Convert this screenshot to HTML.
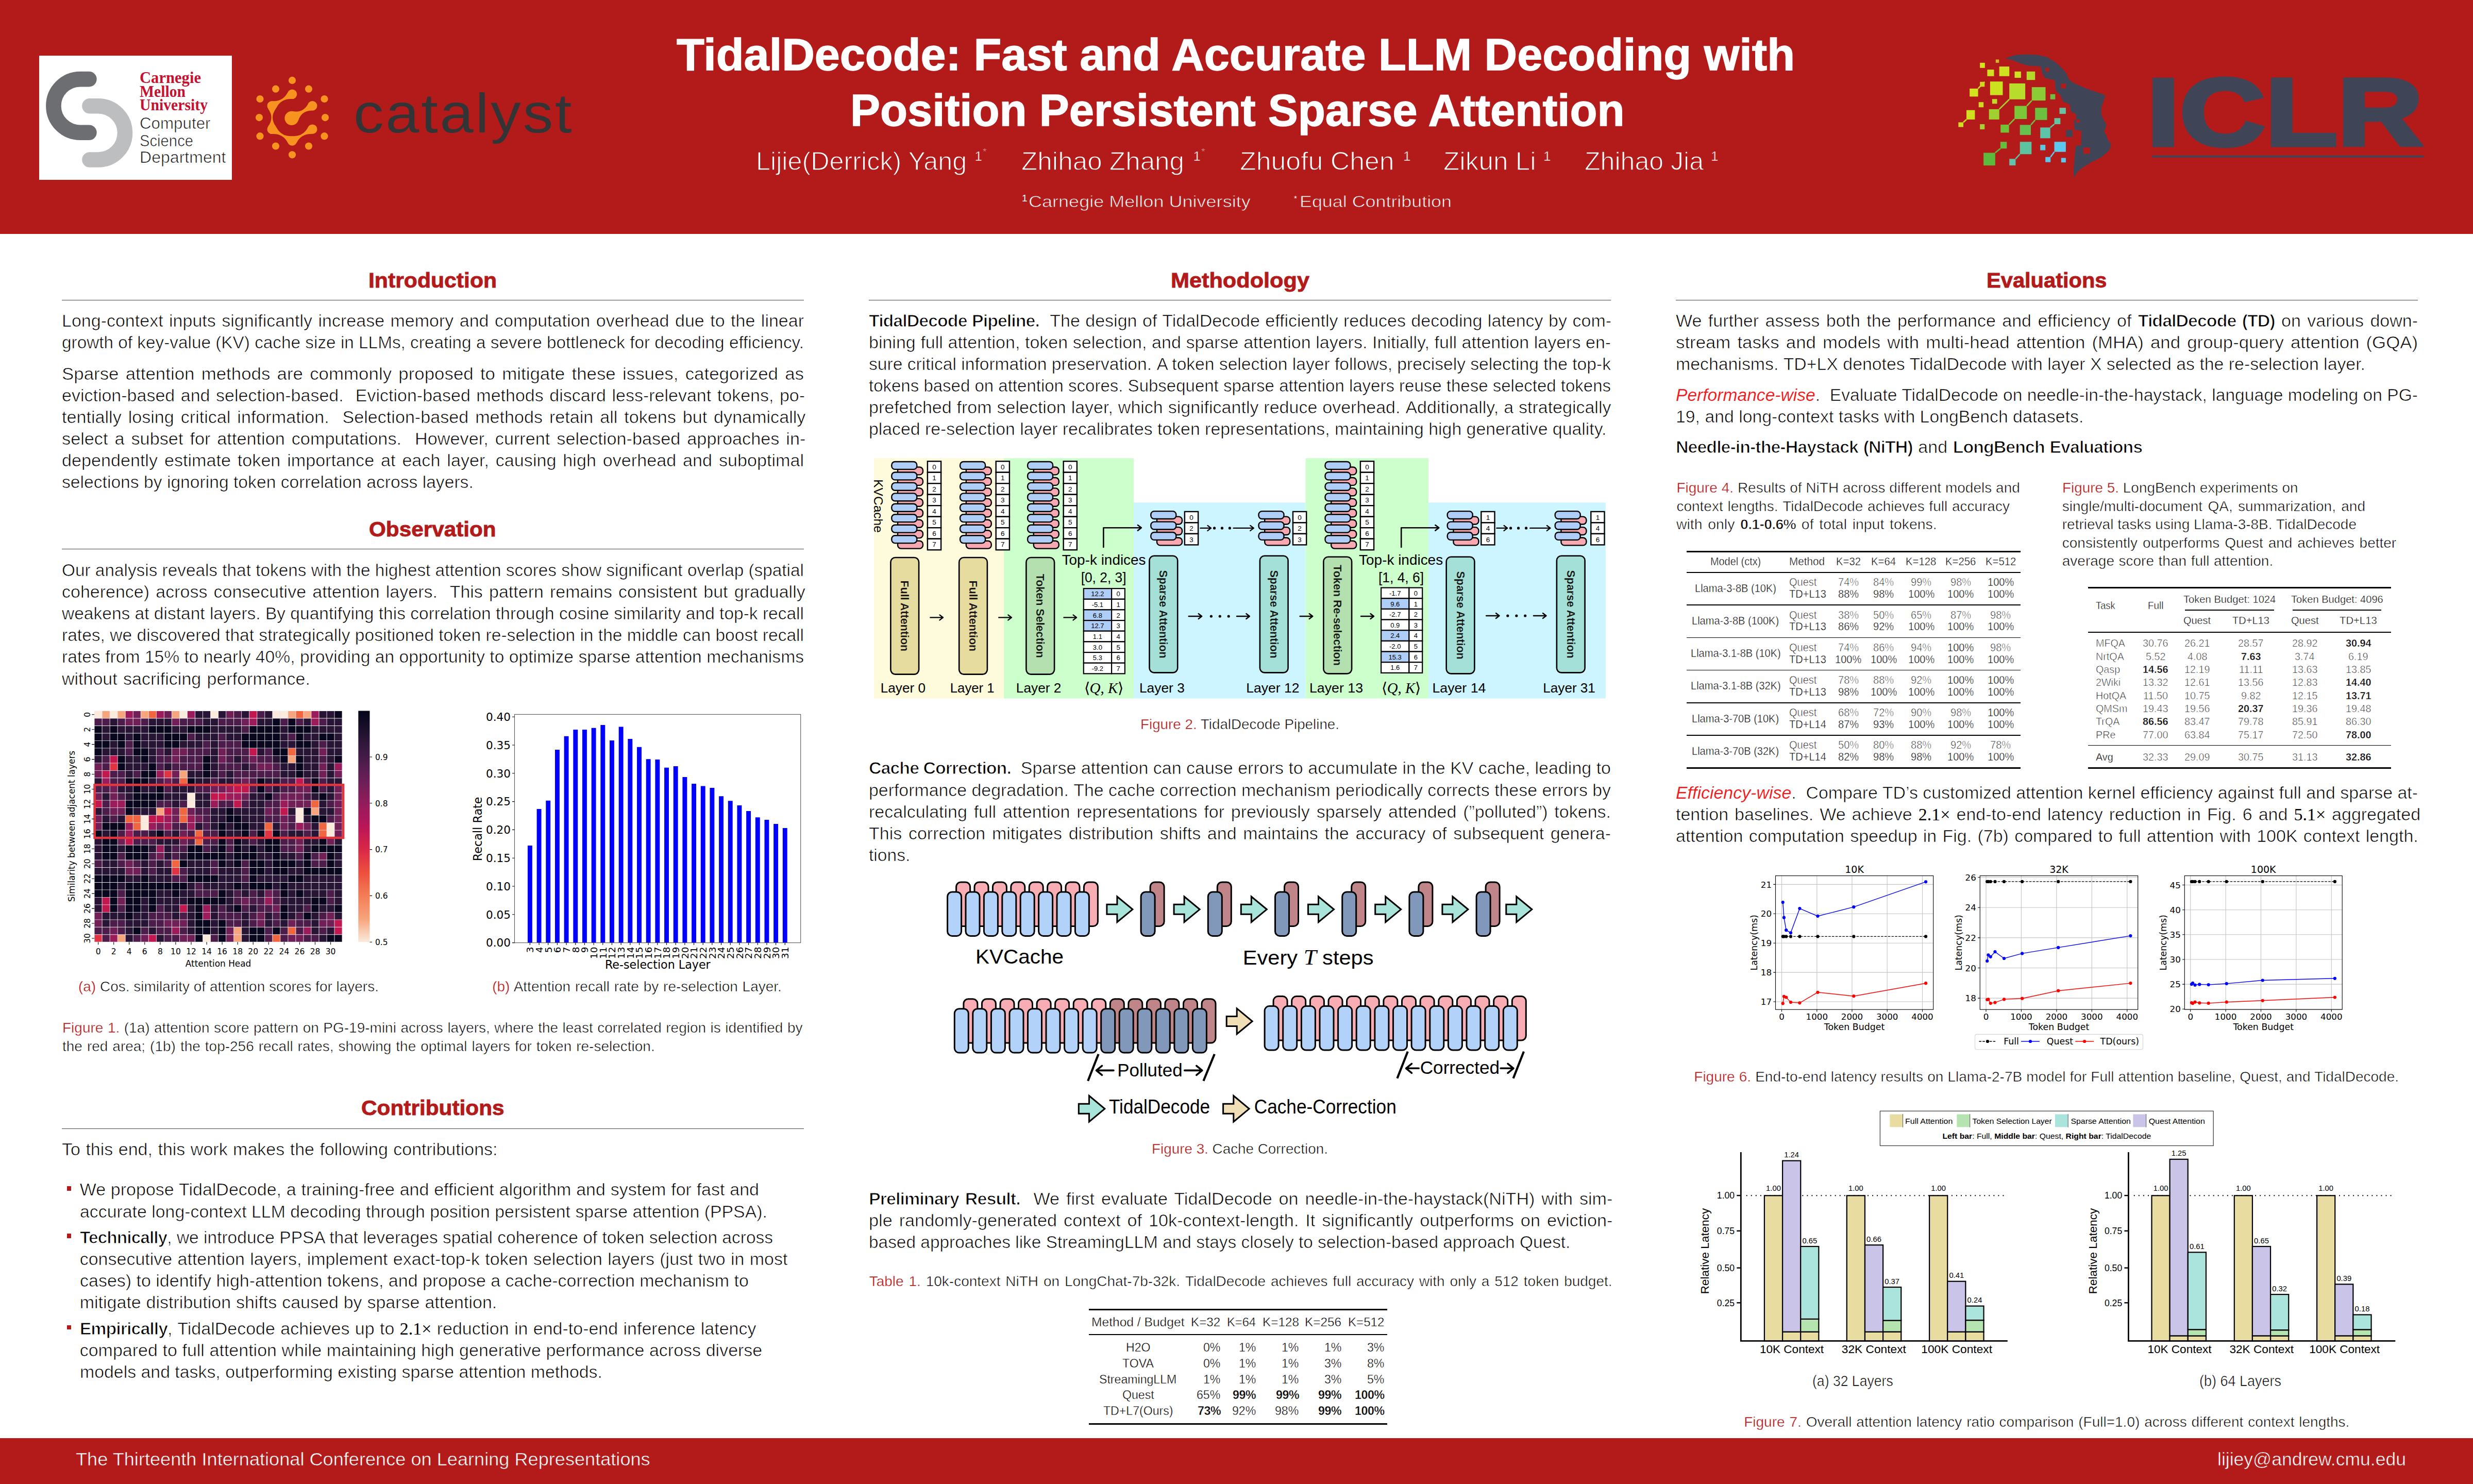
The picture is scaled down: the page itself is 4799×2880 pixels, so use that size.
<!DOCTYPE html>
<html><head><meta charset="utf-8"><title>TidalDecode poster</title><style>
html,body{margin:0;padding:0;width:4799px;height:2880px;overflow:hidden}
body{position:relative;background:#fff;color:#000}
#pg{position:absolute;left:0;top:0;width:4799px;height:2880px;overflow:hidden}
.ln{position:absolute;white-space:nowrap;line-height:1;transform-origin:0 0;margin:0;padding:0}
.b{font-family:'Liberation Sans',sans-serif;font-size:34px;-webkit-text-stroke:0.72px #fff}
.n{font-family:'Liberation Sans',sans-serif;font-size:34px}
.t{font-family:'Liberation Sans',sans-serif;font-size:21px;-webkit-text-stroke:0.45px #fff}
.tl{font-family:'Liberation Sans',sans-serif;font-size:21px;-webkit-text-stroke:0.7px #fff;color:#111}
.c{font-family:'Liberation Sans',sans-serif;font-size:28px;-webkit-text-stroke:0.62px #fff}
.h{font-family:'Liberation Sans',sans-serif;font-size:41px;font-weight:bold;color:#b31b1b;-webkit-text-stroke:0.9px #b31b1b}
.dj{font-family:'DejaVu Sans',sans-serif;font-size:16px;color:#000}
.he{font-family:'Liberation Sans',sans-serif;font-size:20px;color:#000}
.se{font-family:'Liberation Serif',serif;font-size:30px}
.r{color:#b31b1b;-webkit-text-stroke:0.35px #fff}
.m{font-family:'Liberation Serif',serif;-webkit-text-stroke:0 transparent}
i{-webkit-text-stroke:0.15px #fff}
.w{color:#fff}
b{font-weight:bold}
.b b{letter-spacing:-1px;-webkit-text-stroke:1.2px #fff}
.c b{letter-spacing:-0.7px;-webkit-text-stroke:0.9px #fff}
.t b{letter-spacing:-0.4px;-webkit-text-stroke:0.4px #fff}
svg{position:absolute;overflow:visible}
</style></head><body><div id="pg">
<div style="position:absolute;left:0.0px;top:0.0px;width:4799.0px;height:454.3px;background:#b31b1b;"></div>
<div style="position:absolute;left:0.0px;top:2790.8px;width:4799.0px;height:89.2px;background:#b31b1b;"></div>
<div style="position:absolute;left:76.0px;top:108.0px;width:374.0px;height:241.0px;background:#fff;"></div>
<svg style="left:0;top:0" width="700" height="454" viewBox="0 0 700 454"><path d="M172.9 153.6 H155.7 A51.8 51.8 0 0 0 155.7 257.2 H172.9" fill="none" stroke="#6d6e71" stroke-width="29.6" stroke-linecap="round"/><path d="M174 205.8 H190.4 A52.1 52.1 0 0 1 190.4 310 H174" fill="none" stroke="#bcbec0" stroke-width="29.6" stroke-linecap="round"/></svg>
<div class="ln se" style="left:270.5px;top:135.0px;font-size:31px;transform:scaleX(0.98730);color:#c41230;font-weight:bold;">Carnegie</div>
<div class="ln se" style="left:270.5px;top:161.8px;font-size:31px;transform:scaleX(0.95699);color:#c41230;font-weight:bold;">Mellon</div>
<div class="ln se" style="left:270.5px;top:188.0px;font-size:31px;transform:scaleX(0.95815);color:#c41230;font-weight:bold;">University</div>
<div class="ln b" style="left:271.0px;top:223.4px;font-size:32px;transform:scaleX(0.97865);color:#1a1a1a;">Computer</div>
<div class="ln b" style="left:271.0px;top:256.6px;font-size:32px;transform:scaleX(0.91353);color:#1a1a1a;">Science</div>
<div class="ln b" style="left:271.0px;top:288.9px;font-size:32px;transform:scaleX(1.00187);color:#1a1a1a;">Department</div>
<svg style="left:0;top:0" width="1200" height="454" viewBox="0 0 1200 454"><g fill="#f7931e" stroke="#f7931e"><circle cx="567.0" cy="155.9" r="7.1" stroke="none"/><circle cx="599.0" cy="172.7" r="7.1" stroke="none"/><circle cx="629.5" cy="192.0" r="7.1" stroke="none"/><circle cx="631.0" cy="228.1" r="7.1" stroke="none"/><circle cx="629.5" cy="264.2" r="7.1" stroke="none"/><circle cx="599.0" cy="283.5" r="7.1" stroke="none"/><circle cx="567.0" cy="300.3" r="7.1" stroke="none"/><circle cx="535.0" cy="283.5" r="7.1" stroke="none"/><circle cx="504.5" cy="264.2" r="7.1" stroke="none"/><circle cx="503.0" cy="228.1" r="7.1" stroke="none"/><circle cx="504.5" cy="192.0" r="7.1" stroke="none"/><circle cx="535.0" cy="172.7" r="7.1" stroke="none"/><circle cx="567.0" cy="182.8" r="9.3" stroke="none"/><circle cx="606.2" cy="205.4" r="9.3" stroke="none"/><circle cx="606.2" cy="250.7" r="9.3" stroke="none"/><circle cx="567.0" cy="273.4" r="9.3" stroke="none"/><circle cx="527.8" cy="250.8" r="9.3" stroke="none"/><circle cx="527.8" cy="205.4" r="9.3" stroke="none"/><path stroke="none" d="M565.7 192.0Q545.7 191.2 536.4 208.9L529.1 196.2Q549.1 197.1 558.4 179.3Z"/><path stroke="none" d="M535.1 211.2Q522.9 228.1 535.1 245.0L520.4 245.0Q532.7 228.1 520.4 211.2Z"/><path stroke="none" d="M536.4 247.3Q545.7 265.0 565.7 264.2L558.4 276.9Q549.1 259.1 529.1 260.0Z"/><path stroke="none" d="M568.3 264.2Q588.3 265.0 597.6 247.3L604.9 260.0Q584.9 259.1 575.6 276.9Z"/><circle cx="566.0" cy="229.3" r="13.6" stroke="none"/><path stroke="none" d="M568.7 216.0Q587.2 219.3 597.4 202.7L604.4 214.6Q585.0 215.5 579.0 233.4Z"/></g></svg>
<div class="ln n" style="left:686.4px;top:167.3px;font-size:107px;transform:scaleX(1.09379);color:#333436;letter-spacing:3.5px;">catalyst</div>
<div class="ln n w" style="left:1313.0px;top:61.6px;font-size:88px;transform:scaleX(1.00182);font-weight:bold;-webkit-text-stroke:1.4px #fff;">TidalDecode: Fast and Accurate LLM Decoding with</div>
<div class="ln n w" style="left:1650.0px;top:169.8px;font-size:88px;transform:scaleX(0.98703);font-weight:bold;-webkit-text-stroke:1.4px #fff;">Position Persistent Sparse Attention</div>
<div class="ln n w" style="left:1466.7px;top:288.0px;font-size:50px;transform:scaleX(1.00633);-webkit-text-stroke:1.3px #b31b1b;">Lijie(Derrick) Yang</div>
<div class="ln n w" style="left:1891.5px;top:289.5px;font-size:26px;-webkit-text-stroke:0.5px #b31b1b;">1</div>
<div class="ln n w" style="left:1907.5px;top:286.0px;font-size:17px;-webkit-text-stroke:0.5px #b31b1b;">*</div>
<div class="ln n w" style="left:1981.9px;top:288.0px;font-size:50px;transform:scaleX(1.02448);-webkit-text-stroke:1.3px #b31b1b;">Zhihao Zhang</div>
<div class="ln n w" style="left:2315.5px;top:289.5px;font-size:26px;-webkit-text-stroke:0.5px #b31b1b;">1</div>
<div class="ln n w" style="left:2331.5px;top:286.0px;font-size:17px;-webkit-text-stroke:0.5px #b31b1b;">*</div>
<div class="ln n w" style="left:2406.3px;top:288.0px;font-size:50px;transform:scaleX(1.03669);-webkit-text-stroke:1.3px #b31b1b;">Zhuofu Chen</div>
<div class="ln n w" style="left:2723.0px;top:289.5px;font-size:26px;-webkit-text-stroke:0.5px #b31b1b;">1</div>
<div class="ln n w" style="left:2801.3px;top:288.0px;font-size:50px;transform:scaleX(1.02640);-webkit-text-stroke:1.3px #b31b1b;">Zikun Li</div>
<div class="ln n w" style="left:2995.0px;top:289.5px;font-size:26px;-webkit-text-stroke:0.5px #b31b1b;">1</div>
<div class="ln n w" style="left:3075.0px;top:288.0px;font-size:50px;transform:scaleX(1.00129);-webkit-text-stroke:1.3px #b31b1b;">Zhihao Jia</div>
<div class="ln n w" style="left:3320.0px;top:289.5px;font-size:26px;-webkit-text-stroke:0.5px #b31b1b;">1</div>
<div class="ln n w" style="left:1983.0px;top:375.0px;font-size:19px;">1</div>
<div class="ln n w" style="left:1996.0px;top:375.5px;font-size:31.5px;transform:scaleX(1.14424);-webkit-text-stroke:0.8px #b31b1b;">Carnegie Mellon University</div>
<div class="ln n w" style="left:2511.0px;top:377.0px;font-size:15px;">*</div>
<div class="ln n w" style="left:2521.8px;top:375.5px;font-size:31.5px;transform:scaleX(1.13824);-webkit-text-stroke:0.8px #b31b1b;">Equal Contribution</div>
<div class="ln n w" style="left:147.3px;top:2814.1px;font-size:35px;transform:scaleX(1.03286);-webkit-text-stroke:0.6px #b31b1b;">The Thirteenth International Conference on Learning Representations</div>
<div class="ln n w" style="left:4303.0px;top:2814.0px;font-size:35px;transform:scaleX(1.01543);-webkit-text-stroke:0.6px #b31b1b;">lijiey@andrew.cmu.edu</div>
<svg style="left:0;top:0" width="4799" height="454" viewBox="0 0 4799 454"><polygon fill="#3f4557" points="3891.0,113.3 3911.0,106.7 3934.6,105.5 3954.6,106.7 3972.8,110.9 3989.2,120.9 4001.9,132.8 4010.1,142.8 4014.7,153.7 4022.0,160.0 4043.8,170.0 4063.8,177.3 4078.3,181.9 4085.6,185.5 4082.9,193.7 4078.3,206.4 4077.4,221.0 4082.0,231.9 4087.4,241.0 4085.6,250.1 4082.9,254.6 4087.4,262.8 4089.3,270.1 4095.6,277.4 4096.5,282.8 4092.9,291.9 4078.3,304.7 4060.2,313.8 4042.0,324.7 4031.0,333.8 4024.7,344.7 4023.8,332.0 4025.6,308.3 4028.3,282.8 4038.3,281.9 4039.2,253.7 4025.6,251.9 4024.7,233.7 4029.2,231.9 4028.3,221.0 4019.2,217.3 4016.5,202.8 4003.8,197.3 3998.3,184.6 3989.2,175.5 3987.4,155.5 3969.2,151.9 3962.8,140.9 3960.1,129.1 3934.6,127.3 3920.1,122.7 3907.3,117.3"/><rect x="3969.2" y="131.5" width="7.3" height="7.3" fill="#b31b1b"/><rect x="3999.2" y="162.4" width="10.0" height="9.1" fill="#b31b1b"/><rect x="4029.2" y="232.3" width="6.4" height="6.0" fill="#b31b1b"/><rect x="4042.9" y="286.5" width="12.7" height="11.8" fill="#b31b1b"/><rect x="4009.2" y="252.3" width="12.7" height="13.3" fill="#3f4557"/><line x1="3851.3" y1="158.8" x2="3838.6" y2="171.9" stroke="#d0dc20" stroke-width="2.6"/><line x1="3816.0" y1="231.9" x2="3810.0" y2="237.4" stroke="#d0dc20" stroke-width="2.6"/><line x1="3879.7" y1="211.9" x2="3899.2" y2="192.8" stroke="#a8d430" stroke-width="2.6"/><line x1="3933.2" y1="205.5" x2="3942.8" y2="195.1" stroke="#80c838" stroke-width="2.6"/><line x1="3898.6" y1="241.9" x2="3909.2" y2="231.0" stroke="#78c43a" stroke-width="2.6"/><line x1="3941.0" y1="242.4" x2="3949.2" y2="232.8" stroke="#68c048" stroke-width="2.6"/><line x1="3978.7" y1="247.4" x2="3986.5" y2="241.0" stroke="#60c4a4" stroke-width="2.6"/><line x1="3881.9" y1="288.3" x2="3871.9" y2="296.5" stroke="#60bc3c" stroke-width="2.6"/><line x1="3919.7" y1="299.2" x2="3911.3" y2="308.3" stroke="#5ec2a4" stroke-width="2.6"/><line x1="3986.5" y1="294.7" x2="3979.2" y2="304.7" stroke="#5ac8ee" stroke-width="2.6"/><rect x="3842.2" y="121.8" width="9.6" height="10.0" fill="#d6e21f"/><rect x="3872.8" y="115.5" width="6.4" height="6.4" fill="#d2b822"/><rect x="3856.4" y="135.1" width="13.1" height="12.7" fill="#d0e020"/><rect x="3879.7" y="129.1" width="19.5" height="18.7" fill="#cfe21f"/><rect x="3909.5" y="138.8" width="12.4" height="12.2" fill="#cfe020"/><rect x="3932.8" y="138.8" width="16.4" height="16.4" fill="#b5d92a"/><rect x="3842.2" y="158.8" width="9.1" height="9.5" fill="#d0d820"/><rect x="3822.2" y="171.9" width="16.4" height="15.5" fill="#d5e21f"/><rect x="3861.9" y="158.2" width="24.6" height="26.4" fill="#cbe21f"/><rect x="3899.2" y="161.9" width="30.9" height="30.9" fill="#b8dc2c"/><rect x="3942.8" y="169.1" width="26.7" height="26.0" fill="#8bcb35"/><rect x="3978.7" y="182.8" width="9.6" height="10.0" fill="#6cc040"/><rect x="3839.7" y="198.2" width="9.5" height="10.0" fill="#d0d820"/><rect x="3865.9" y="192.2" width="9.6" height="9.1" fill="#c0dc28"/><rect x="3816.0" y="213.7" width="16.4" height="18.2" fill="#d0e020"/><rect x="3800.4" y="237.4" width="9.6" height="9.1" fill="#d4dc20"/><rect x="3859.7" y="211.9" width="20.0" height="20.0" fill="#9fd030"/><rect x="3909.2" y="205.5" width="24.0" height="25.5" fill="#7cc63a"/><rect x="3949.2" y="209.2" width="23.3" height="23.6" fill="#6cc040"/><rect x="3996.5" y="209.2" width="12.4" height="11.8" fill="#68c4a0"/><rect x="3842.2" y="241.0" width="9.1" height="10.0" fill="#a8d030"/><rect x="3882.2" y="241.9" width="16.4" height="15.5" fill="#72c238"/><rect x="3919.7" y="242.4" width="21.3" height="19.5" fill="#66c050"/><rect x="3959.2" y="247.4" width="19.5" height="20.9" fill="#5cc4a8"/><rect x="3986.5" y="229.2" width="11.8" height="11.8" fill="#62c4a0"/><rect x="3881.9" y="275.2" width="12.4" height="13.1" fill="#62be3c"/><rect x="3849.1" y="296.5" width="22.7" height="24.6" fill="#5cba3c"/><rect x="3919.7" y="275.2" width="22.6" height="24.0" fill="#5cc2a0"/><rect x="3899.2" y="308.3" width="12.2" height="12.7" fill="#60c4a8"/><rect x="3959.2" y="281.0" width="10.0" height="10.6" fill="#5cc8e0"/><rect x="3986.5" y="275.2" width="22.4" height="19.5" fill="#5cc8ee"/><rect x="3969.2" y="304.7" width="10.0" height="10.0" fill="#58c8f0"/><rect x="3999.8" y="306.5" width="9.1" height="8.7" fill="#58c8f0"/><rect x="4176" y="301.6" width="527" height="4" fill="#3f4557"/></svg>
<div class="ln n" style="left:4165.5px;top:126.4px;font-size:185px;transform:scaleX(1.24186);font-weight:bold;color:#3f4557;-webkit-text-stroke:7px #3f4557;">ICLR</div>
<div class="ln h" style="left:715.2px;top:524.2px;transform:scaleX(1.04171);">Introduction</div>
<div style="position:absolute;left:120.0px;top:581.7px;width:1440.0px;height:1.6px;background:#444;"></div>
<div class="ln b" style="left:120.0px;top:605.3px;word-spacing:2.045px;">Long-context inputs significantly increase memory and computation overhead due to the linear</div>
<div class="ln b" style="left:120.0px;top:647.3px;transform:scaleX(0.98023);">growth of key-value (KV) cache size in LLMs, creating a severe bottleneck for decoding efficiency.</div>
<div class="ln b" style="left:120.0px;top:707.6px;transform:scaleX(1.02577);word-spacing:3.400px;">Sparse attention methods are commonly proposed to mitigate these issues, categorized as</div>
<div class="ln b" style="left:120.0px;top:749.6px;word-spacing:2.111px;">eviction-based and selection-based.&nbsp; Eviction-based methods discard less-relevant tokens, po-</div>
<div class="ln b" style="left:120.0px;top:791.6px;transform:scaleX(1.00393);word-spacing:3.400px;">tentially losing critical information.&nbsp; Selection-based methods retain all tokens but dynamically</div>
<div class="ln b" style="left:120.0px;top:833.7px;transform:scaleX(1.00786);word-spacing:3.400px;">select a subset for attention computations.&nbsp; However, current selection-based approaches in-</div>
<div class="ln b" style="left:120.0px;top:875.7px;transform:scaleX(1.00405);word-spacing:3.400px;">dependently estimate token importance at each layer, causing high overhead and suboptimal</div>
<div class="ln b" style="left:120.0px;top:917.7px;transform:scaleX(0.98990);">selections by ignoring token correlation across layers.</div>
<div class="ln h" style="left:716.4px;top:1007.0px;transform:scaleX(1.03079);">Observation</div>
<div style="position:absolute;left:120.0px;top:1064.5px;width:1440.0px;height:1.6px;background:#444;"></div>
<div class="ln b" style="left:120.0px;top:1089.2px;transform:scaleX(0.98063);">Our analysis reveals that tokens with the highest attention scores show significant overlap (spatial</div>
<div class="ln b" style="left:120.0px;top:1131.2px;word-spacing:2.700px;">coherence) across consecutive attention layers.&nbsp; This pattern remains consistent but gradually</div>
<div class="ln b" style="left:120.0px;top:1173.3px;transform:scaleX(0.98574);">weakens at distant layers.&nbsp;By quantifying this correlation through cosine similarity and top-k recall</div>
<div class="ln b" style="left:120.0px;top:1215.3px;transform:scaleX(0.98698);">rates, we discovered that strategically positioned token re-selection in the middle can boost recall</div>
<div class="ln b" style="left:120.0px;top:1257.3px;transform:scaleX(0.98955);">rates from 15% to nearly 40%, providing an opportunity to optimize sparse attention mechanisms</div>
<div class="ln b" style="left:120.0px;top:1299.5px;word-spacing:1.903px;">without sacrificing performance.</div>
<svg style="left:0;top:0" width="1700" height="2000" viewBox="0 0 1700 2000"><rect x="183.1" y="1379.5" width="481.0" height="448.7" fill="#e8e4ea"/><path fill="#08071d" d="M649.5 1380.0h14.1v13.6h-14.1zM529.3 1394.4h14.1v13.6h-14.1zM559.3 1394.4h14.1v13.6h-14.1zM183.5 1408.9h14.1v13.6h-14.1zM213.6 1408.9h14.1v13.6h-14.1zM288.8 1408.9h14.1v13.6h-14.1zM303.8 1408.9h14.1v13.6h-14.1zM318.8 1408.9h14.1v13.6h-14.1zM363.9 1408.9h14.1v13.6h-14.1zM379.0 1408.9h14.1v13.6h-14.1zM394.0 1408.9h14.1v13.6h-14.1zM484.2 1408.9h14.1v13.6h-14.1zM499.2 1408.9h14.1v13.6h-14.1zM514.2 1408.9h14.1v13.6h-14.1zM529.3 1408.9h14.1v13.6h-14.1zM559.3 1408.9h14.1v13.6h-14.1zM574.4 1408.9h14.1v13.6h-14.1zM589.4 1408.9h14.1v13.6h-14.1zM183.5 1423.4h14.1v13.6h-14.1zM213.6 1423.4h14.1v13.6h-14.1zM228.6 1423.4h14.1v13.6h-14.1zM258.7 1423.4h14.1v13.6h-14.1zM318.8 1423.4h14.1v13.6h-14.1zM333.9 1423.4h14.1v13.6h-14.1zM348.9 1423.4h14.1v13.6h-14.1zM469.1 1423.4h14.1v13.6h-14.1zM484.2 1423.4h14.1v13.6h-14.1zM499.2 1423.4h14.1v13.6h-14.1zM514.2 1423.4h14.1v13.6h-14.1zM529.3 1423.4h14.1v13.6h-14.1zM574.4 1423.4h14.1v13.6h-14.1zM619.5 1423.4h14.1v13.6h-14.1zM634.5 1423.4h14.1v13.6h-14.1zM183.5 1437.8h14.1v13.6h-14.1zM198.6 1437.8h14.1v13.6h-14.1zM228.6 1437.8h14.1v13.6h-14.1zM258.7 1437.8h14.1v13.6h-14.1zM318.8 1437.8h14.1v13.6h-14.1zM333.9 1437.8h14.1v13.6h-14.1zM469.1 1437.8h14.1v13.6h-14.1zM484.2 1437.8h14.1v13.6h-14.1zM499.2 1437.8h14.1v13.6h-14.1zM514.2 1437.8h14.1v13.6h-14.1zM529.3 1437.8h14.1v13.6h-14.1zM574.4 1437.8h14.1v13.6h-14.1zM589.4 1437.8h14.1v13.6h-14.1zM183.5 1452.3h14.1v13.6h-14.1zM258.7 1452.3h14.1v13.6h-14.1zM273.7 1452.3h14.1v13.6h-14.1zM529.3 1452.3h14.1v13.6h-14.1zM544.3 1452.3h14.1v13.6h-14.1zM228.6 1466.8h14.1v13.6h-14.1zM273.7 1466.8h14.1v13.6h-14.1zM394.0 1466.8h14.1v13.6h-14.1zM544.3 1466.8h14.1v13.6h-14.1zM574.4 1466.8h14.1v13.6h-14.1zM649.5 1466.8h14.1v13.6h-14.1zM228.6 1481.3h14.1v13.6h-14.1zM288.8 1481.3h14.1v13.6h-14.1zM394.0 1481.3h14.1v13.6h-14.1zM574.4 1481.3h14.1v13.6h-14.1zM273.7 1495.7h14.1v13.6h-14.1zM288.8 1495.7h14.1v13.6h-14.1zM394.0 1495.7h14.1v13.6h-14.1zM574.4 1495.7h14.1v13.6h-14.1zM243.7 1510.2h14.1v13.6h-14.1zM258.7 1510.2h14.1v13.6h-14.1zM273.7 1510.2h14.1v13.6h-14.1zM363.9 1510.2h14.1v13.6h-14.1zM499.2 1510.2h14.1v13.6h-14.1zM604.4 1510.2h14.1v13.6h-14.1zM258.7 1524.7h14.1v13.6h-14.1zM303.8 1524.7h14.1v13.6h-14.1zM499.2 1524.7h14.1v13.6h-14.1zM604.4 1524.7h14.1v13.6h-14.1zM258.7 1539.2h14.1v13.6h-14.1zM273.7 1539.2h14.1v13.6h-14.1zM288.8 1539.2h14.1v13.6h-14.1zM303.8 1539.2h14.1v13.6h-14.1zM514.2 1539.2h14.1v13.6h-14.1zM619.5 1539.2h14.1v13.6h-14.1zM243.7 1553.6h14.1v13.6h-14.1zM258.7 1553.6h14.1v13.6h-14.1zM273.7 1553.6h14.1v13.6h-14.1zM288.8 1553.6h14.1v13.6h-14.1zM243.7 1568.1h14.1v13.6h-14.1zM439.1 1568.1h14.1v13.6h-14.1zM589.4 1568.1h14.1v13.6h-14.1zM439.1 1582.6h14.1v13.6h-14.1zM454.1 1582.6h14.1v13.6h-14.1zM604.4 1582.6h14.1v13.6h-14.1zM619.5 1582.6h14.1v13.6h-14.1zM198.6 1597.1h14.1v13.6h-14.1zM213.6 1597.1h14.1v13.6h-14.1zM228.6 1597.1h14.1v13.6h-14.1zM424.1 1597.1h14.1v13.6h-14.1zM454.1 1597.1h14.1v13.6h-14.1zM469.1 1597.1h14.1v13.6h-14.1zM183.5 1611.5h14.1v13.6h-14.1zM213.6 1611.5h14.1v13.6h-14.1zM303.8 1611.5h14.1v13.6h-14.1zM424.1 1611.5h14.1v13.6h-14.1zM469.1 1611.5h14.1v13.6h-14.1zM499.2 1611.5h14.1v13.6h-14.1zM529.3 1611.5h14.1v13.6h-14.1zM198.6 1626.0h14.1v13.6h-14.1zM213.6 1626.0h14.1v13.6h-14.1zM424.1 1626.0h14.1v13.6h-14.1zM454.1 1626.0h14.1v13.6h-14.1zM514.2 1626.0h14.1v13.6h-14.1zM529.3 1626.0h14.1v13.6h-14.1zM619.5 1626.0h14.1v13.6h-14.1zM198.6 1640.5h14.1v13.6h-14.1zM213.6 1640.5h14.1v13.6h-14.1zM243.7 1640.5h14.1v13.6h-14.1zM258.7 1640.5h14.1v13.6h-14.1zM273.7 1640.5h14.1v13.6h-14.1zM363.9 1640.5h14.1v13.6h-14.1zM379.0 1640.5h14.1v13.6h-14.1zM424.1 1640.5h14.1v13.6h-14.1zM454.1 1640.5h14.1v13.6h-14.1zM484.2 1640.5h14.1v13.6h-14.1zM514.2 1640.5h14.1v13.6h-14.1zM529.3 1640.5h14.1v13.6h-14.1zM604.4 1640.5h14.1v13.6h-14.1zM619.5 1640.5h14.1v13.6h-14.1zM634.5 1640.5h14.1v13.6h-14.1zM649.5 1640.5h14.1v13.6h-14.1zM198.6 1655.0h14.1v13.6h-14.1zM213.6 1655.0h14.1v13.6h-14.1zM243.7 1655.0h14.1v13.6h-14.1zM258.7 1655.0h14.1v13.6h-14.1zM273.7 1655.0h14.1v13.6h-14.1zM363.9 1655.0h14.1v13.6h-14.1zM379.0 1655.0h14.1v13.6h-14.1zM394.0 1655.0h14.1v13.6h-14.1zM409.0 1655.0h14.1v13.6h-14.1zM424.1 1655.0h14.1v13.6h-14.1zM454.1 1655.0h14.1v13.6h-14.1zM469.1 1655.0h14.1v13.6h-14.1zM484.2 1655.0h14.1v13.6h-14.1zM529.3 1655.0h14.1v13.6h-14.1zM589.4 1655.0h14.1v13.6h-14.1zM634.5 1655.0h14.1v13.6h-14.1zM348.9 1669.4h14.1v13.6h-14.1zM424.1 1669.4h14.1v13.6h-14.1zM454.1 1669.4h14.1v13.6h-14.1zM484.2 1669.4h14.1v13.6h-14.1zM499.2 1669.4h14.1v13.6h-14.1zM529.3 1669.4h14.1v13.6h-14.1zM544.3 1669.4h14.1v13.6h-14.1zM559.3 1669.4h14.1v13.6h-14.1zM589.4 1669.4h14.1v13.6h-14.1zM634.5 1669.4h14.1v13.6h-14.1zM484.2 1683.9h14.1v13.6h-14.1zM499.2 1683.9h14.1v13.6h-14.1zM529.3 1683.9h14.1v13.6h-14.1zM544.3 1683.9h14.1v13.6h-14.1zM589.4 1683.9h14.1v13.6h-14.1zM604.4 1683.9h14.1v13.6h-14.1zM619.5 1683.9h14.1v13.6h-14.1zM634.5 1683.9h14.1v13.6h-14.1zM649.5 1683.9h14.1v13.6h-14.1zM183.5 1698.4h14.1v13.6h-14.1zM198.6 1698.4h14.1v13.6h-14.1zM213.6 1698.4h14.1v13.6h-14.1zM228.6 1698.4h14.1v13.6h-14.1zM273.7 1698.4h14.1v13.6h-14.1zM363.9 1698.4h14.1v13.6h-14.1zM379.0 1698.4h14.1v13.6h-14.1zM394.0 1698.4h14.1v13.6h-14.1zM409.0 1698.4h14.1v13.6h-14.1zM484.2 1698.4h14.1v13.6h-14.1zM559.3 1698.4h14.1v13.6h-14.1zM574.4 1698.4h14.1v13.6h-14.1zM183.5 1712.9h14.1v13.6h-14.1zM198.6 1712.9h14.1v13.6h-14.1zM213.6 1712.9h14.1v13.6h-14.1zM243.7 1712.9h14.1v13.6h-14.1zM258.7 1712.9h14.1v13.6h-14.1zM273.7 1712.9h14.1v13.6h-14.1zM288.8 1712.9h14.1v13.6h-14.1zM303.8 1712.9h14.1v13.6h-14.1zM318.8 1712.9h14.1v13.6h-14.1zM333.9 1712.9h14.1v13.6h-14.1zM348.9 1712.9h14.1v13.6h-14.1zM454.1 1712.9h14.1v13.6h-14.1zM484.2 1712.9h14.1v13.6h-14.1zM499.2 1712.9h14.1v13.6h-14.1zM514.2 1712.9h14.1v13.6h-14.1zM544.3 1712.9h14.1v13.6h-14.1zM183.5 1727.3h14.1v13.6h-14.1zM198.6 1727.3h14.1v13.6h-14.1zM213.6 1727.3h14.1v13.6h-14.1zM243.7 1727.3h14.1v13.6h-14.1zM258.7 1727.3h14.1v13.6h-14.1zM273.7 1727.3h14.1v13.6h-14.1zM288.8 1727.3h14.1v13.6h-14.1zM333.9 1727.3h14.1v13.6h-14.1zM424.1 1727.3h14.1v13.6h-14.1zM544.3 1727.3h14.1v13.6h-14.1zM574.4 1727.3h14.1v13.6h-14.1zM213.6 1741.8h14.1v13.6h-14.1zM243.7 1741.8h14.1v13.6h-14.1zM258.7 1741.8h14.1v13.6h-14.1zM288.8 1741.8h14.1v13.6h-14.1zM363.9 1741.8h14.1v13.6h-14.1zM379.0 1741.8h14.1v13.6h-14.1zM394.0 1741.8h14.1v13.6h-14.1zM409.0 1741.8h14.1v13.6h-14.1zM424.1 1741.8h14.1v13.6h-14.1zM604.4 1741.8h14.1v13.6h-14.1zM619.5 1741.8h14.1v13.6h-14.1zM213.6 1756.3h14.1v13.6h-14.1zM243.7 1756.3h14.1v13.6h-14.1zM258.7 1756.3h14.1v13.6h-14.1zM288.8 1756.3h14.1v13.6h-14.1zM379.0 1756.3h14.1v13.6h-14.1zM454.1 1756.3h14.1v13.6h-14.1zM544.3 1756.3h14.1v13.6h-14.1zM604.4 1756.3h14.1v13.6h-14.1zM649.5 1756.3h14.1v13.6h-14.1zM243.7 1770.8h14.1v13.6h-14.1zM379.0 1770.8h14.1v13.6h-14.1zM544.3 1770.8h14.1v13.6h-14.1zM589.4 1770.8h14.1v13.6h-14.1zM379.0 1785.2h14.1v13.6h-14.1zM394.0 1785.2h14.1v13.6h-14.1zM424.1 1785.2h14.1v13.6h-14.1zM258.7 1799.7h14.1v13.6h-14.1zM379.0 1799.7h14.1v13.6h-14.1zM394.0 1799.7h14.1v13.6h-14.1zM424.1 1799.7h14.1v13.6h-14.1zM484.2 1799.7h14.1v13.6h-14.1zM499.2 1799.7h14.1v13.6h-14.1zM529.3 1799.7h14.1v13.6h-14.1zM379.0 1814.2h14.1v13.6h-14.1zM424.1 1814.2h14.1v13.6h-14.1zM484.2 1814.2h14.1v13.6h-14.1zM499.2 1814.2h14.1v13.6h-14.1zM634.5 1814.2h14.1v13.6h-14.1zM649.5 1814.2h14.1v13.6h-14.1z"/><path fill="#281535" d="M379.0 1380.0h14.1v13.6h-14.1zM394.0 1380.0h14.1v13.6h-14.1zM424.1 1380.0h14.1v13.6h-14.1zM469.1 1380.0h14.1v13.6h-14.1zM514.2 1380.0h14.1v13.6h-14.1zM619.5 1380.0h14.1v13.6h-14.1zM634.5 1380.0h14.1v13.6h-14.1zM213.6 1394.4h14.1v13.6h-14.1zM288.8 1394.4h14.1v13.6h-14.1zM303.8 1394.4h14.1v13.6h-14.1zM318.8 1394.4h14.1v13.6h-14.1zM394.0 1394.4h14.1v13.6h-14.1zM409.0 1394.4h14.1v13.6h-14.1zM499.2 1394.4h14.1v13.6h-14.1zM514.2 1394.4h14.1v13.6h-14.1zM589.4 1394.4h14.1v13.6h-14.1zM634.5 1394.4h14.1v13.6h-14.1zM649.5 1394.4h14.1v13.6h-14.1zM198.6 1408.9h14.1v13.6h-14.1zM228.6 1408.9h14.1v13.6h-14.1zM243.7 1408.9h14.1v13.6h-14.1zM258.7 1408.9h14.1v13.6h-14.1zM273.7 1408.9h14.1v13.6h-14.1zM333.9 1408.9h14.1v13.6h-14.1zM348.9 1408.9h14.1v13.6h-14.1zM409.0 1408.9h14.1v13.6h-14.1zM424.1 1408.9h14.1v13.6h-14.1zM439.1 1408.9h14.1v13.6h-14.1zM454.1 1408.9h14.1v13.6h-14.1zM544.3 1408.9h14.1v13.6h-14.1zM604.4 1408.9h14.1v13.6h-14.1zM619.5 1408.9h14.1v13.6h-14.1zM634.5 1408.9h14.1v13.6h-14.1zM649.5 1408.9h14.1v13.6h-14.1zM198.6 1423.4h14.1v13.6h-14.1zM243.7 1423.4h14.1v13.6h-14.1zM273.7 1423.4h14.1v13.6h-14.1zM288.8 1423.4h14.1v13.6h-14.1zM303.8 1423.4h14.1v13.6h-14.1zM379.0 1423.4h14.1v13.6h-14.1zM394.0 1423.4h14.1v13.6h-14.1zM409.0 1423.4h14.1v13.6h-14.1zM439.1 1423.4h14.1v13.6h-14.1zM454.1 1423.4h14.1v13.6h-14.1zM544.3 1423.4h14.1v13.6h-14.1zM589.4 1423.4h14.1v13.6h-14.1zM604.4 1423.4h14.1v13.6h-14.1zM649.5 1423.4h14.1v13.6h-14.1zM213.6 1437.8h14.1v13.6h-14.1zM273.7 1437.8h14.1v13.6h-14.1zM288.8 1437.8h14.1v13.6h-14.1zM303.8 1437.8h14.1v13.6h-14.1zM348.9 1437.8h14.1v13.6h-14.1zM363.9 1437.8h14.1v13.6h-14.1zM379.0 1437.8h14.1v13.6h-14.1zM409.0 1437.8h14.1v13.6h-14.1zM544.3 1437.8h14.1v13.6h-14.1zM559.3 1437.8h14.1v13.6h-14.1zM604.4 1437.8h14.1v13.6h-14.1zM634.5 1437.8h14.1v13.6h-14.1zM649.5 1437.8h14.1v13.6h-14.1zM198.6 1452.3h14.1v13.6h-14.1zM213.6 1452.3h14.1v13.6h-14.1zM228.6 1452.3h14.1v13.6h-14.1zM288.8 1452.3h14.1v13.6h-14.1zM318.8 1452.3h14.1v13.6h-14.1zM409.0 1452.3h14.1v13.6h-14.1zM499.2 1452.3h14.1v13.6h-14.1zM574.4 1452.3h14.1v13.6h-14.1zM589.4 1452.3h14.1v13.6h-14.1zM604.4 1452.3h14.1v13.6h-14.1zM634.5 1452.3h14.1v13.6h-14.1zM649.5 1452.3h14.1v13.6h-14.1zM183.5 1466.8h14.1v13.6h-14.1zM243.7 1466.8h14.1v13.6h-14.1zM258.7 1466.8h14.1v13.6h-14.1zM288.8 1466.8h14.1v13.6h-14.1zM409.0 1466.8h14.1v13.6h-14.1zM454.1 1466.8h14.1v13.6h-14.1zM529.3 1466.8h14.1v13.6h-14.1zM589.4 1466.8h14.1v13.6h-14.1zM604.4 1466.8h14.1v13.6h-14.1zM634.5 1466.8h14.1v13.6h-14.1zM243.7 1481.3h14.1v13.6h-14.1zM258.7 1481.3h14.1v13.6h-14.1zM273.7 1481.3h14.1v13.6h-14.1zM318.8 1481.3h14.1v13.6h-14.1zM409.0 1481.3h14.1v13.6h-14.1zM469.1 1481.3h14.1v13.6h-14.1zM544.3 1481.3h14.1v13.6h-14.1zM559.3 1481.3h14.1v13.6h-14.1zM589.4 1481.3h14.1v13.6h-14.1zM604.4 1481.3h14.1v13.6h-14.1zM634.5 1481.3h14.1v13.6h-14.1zM243.7 1495.7h14.1v13.6h-14.1zM363.9 1495.7h14.1v13.6h-14.1zM379.0 1495.7h14.1v13.6h-14.1zM409.0 1495.7h14.1v13.6h-14.1zM439.1 1495.7h14.1v13.6h-14.1zM544.3 1495.7h14.1v13.6h-14.1zM559.3 1495.7h14.1v13.6h-14.1zM589.4 1495.7h14.1v13.6h-14.1zM604.4 1495.7h14.1v13.6h-14.1zM634.5 1495.7h14.1v13.6h-14.1zM183.5 1510.2h14.1v13.6h-14.1zM288.8 1510.2h14.1v13.6h-14.1zM379.0 1510.2h14.1v13.6h-14.1zM394.0 1510.2h14.1v13.6h-14.1zM424.1 1510.2h14.1v13.6h-14.1zM439.1 1510.2h14.1v13.6h-14.1zM514.2 1510.2h14.1v13.6h-14.1zM529.3 1510.2h14.1v13.6h-14.1zM634.5 1510.2h14.1v13.6h-14.1zM649.5 1510.2h14.1v13.6h-14.1zM228.6 1524.7h14.1v13.6h-14.1zM243.7 1524.7h14.1v13.6h-14.1zM273.7 1524.7h14.1v13.6h-14.1zM288.8 1524.7h14.1v13.6h-14.1zM333.9 1524.7h14.1v13.6h-14.1zM348.9 1524.7h14.1v13.6h-14.1zM363.9 1524.7h14.1v13.6h-14.1zM529.3 1524.7h14.1v13.6h-14.1zM634.5 1524.7h14.1v13.6h-14.1zM198.6 1539.2h14.1v13.6h-14.1zM243.7 1539.2h14.1v13.6h-14.1zM318.8 1539.2h14.1v13.6h-14.1zM333.9 1539.2h14.1v13.6h-14.1zM348.9 1539.2h14.1v13.6h-14.1zM379.0 1539.2h14.1v13.6h-14.1zM394.0 1539.2h14.1v13.6h-14.1zM484.2 1539.2h14.1v13.6h-14.1zM499.2 1539.2h14.1v13.6h-14.1zM604.4 1539.2h14.1v13.6h-14.1zM634.5 1539.2h14.1v13.6h-14.1zM333.9 1553.6h14.1v13.6h-14.1zM379.0 1553.6h14.1v13.6h-14.1zM394.0 1553.6h14.1v13.6h-14.1zM484.2 1553.6h14.1v13.6h-14.1zM499.2 1553.6h14.1v13.6h-14.1zM619.5 1553.6h14.1v13.6h-14.1zM183.5 1568.1h14.1v13.6h-14.1zM258.7 1568.1h14.1v13.6h-14.1zM273.7 1568.1h14.1v13.6h-14.1zM288.8 1568.1h14.1v13.6h-14.1zM409.0 1568.1h14.1v13.6h-14.1zM424.1 1568.1h14.1v13.6h-14.1zM454.1 1568.1h14.1v13.6h-14.1zM469.1 1568.1h14.1v13.6h-14.1zM484.2 1568.1h14.1v13.6h-14.1zM499.2 1568.1h14.1v13.6h-14.1zM559.3 1568.1h14.1v13.6h-14.1zM619.5 1568.1h14.1v13.6h-14.1zM634.5 1568.1h14.1v13.6h-14.1zM198.6 1582.6h14.1v13.6h-14.1zM228.6 1582.6h14.1v13.6h-14.1zM409.0 1582.6h14.1v13.6h-14.1zM424.1 1582.6h14.1v13.6h-14.1zM469.1 1582.6h14.1v13.6h-14.1zM484.2 1582.6h14.1v13.6h-14.1zM499.2 1582.6h14.1v13.6h-14.1zM589.4 1582.6h14.1v13.6h-14.1zM379.0 1597.1h14.1v13.6h-14.1zM409.0 1597.1h14.1v13.6h-14.1zM439.1 1597.1h14.1v13.6h-14.1zM484.2 1597.1h14.1v13.6h-14.1zM499.2 1597.1h14.1v13.6h-14.1zM529.3 1597.1h14.1v13.6h-14.1zM604.4 1597.1h14.1v13.6h-14.1zM198.6 1611.5h14.1v13.6h-14.1zM288.8 1611.5h14.1v13.6h-14.1zM333.9 1611.5h14.1v13.6h-14.1zM439.1 1611.5h14.1v13.6h-14.1zM454.1 1611.5h14.1v13.6h-14.1zM559.3 1611.5h14.1v13.6h-14.1zM574.4 1611.5h14.1v13.6h-14.1zM604.4 1611.5h14.1v13.6h-14.1zM183.5 1626.0h14.1v13.6h-14.1zM303.8 1626.0h14.1v13.6h-14.1zM318.8 1626.0h14.1v13.6h-14.1zM333.9 1626.0h14.1v13.6h-14.1zM469.1 1626.0h14.1v13.6h-14.1zM499.2 1626.0h14.1v13.6h-14.1zM589.4 1626.0h14.1v13.6h-14.1zM604.4 1626.0h14.1v13.6h-14.1zM649.5 1626.0h14.1v13.6h-14.1zM183.5 1640.5h14.1v13.6h-14.1zM228.6 1640.5h14.1v13.6h-14.1zM288.8 1640.5h14.1v13.6h-14.1zM318.8 1640.5h14.1v13.6h-14.1zM409.0 1640.5h14.1v13.6h-14.1zM469.1 1640.5h14.1v13.6h-14.1zM499.2 1640.5h14.1v13.6h-14.1zM589.4 1640.5h14.1v13.6h-14.1zM183.5 1655.0h14.1v13.6h-14.1zM318.8 1655.0h14.1v13.6h-14.1zM348.9 1655.0h14.1v13.6h-14.1zM439.1 1655.0h14.1v13.6h-14.1zM499.2 1655.0h14.1v13.6h-14.1zM514.2 1655.0h14.1v13.6h-14.1zM544.3 1655.0h14.1v13.6h-14.1zM559.3 1655.0h14.1v13.6h-14.1zM649.5 1655.0h14.1v13.6h-14.1zM198.6 1669.4h14.1v13.6h-14.1zM213.6 1669.4h14.1v13.6h-14.1zM273.7 1669.4h14.1v13.6h-14.1zM303.8 1669.4h14.1v13.6h-14.1zM363.9 1669.4h14.1v13.6h-14.1zM379.0 1669.4h14.1v13.6h-14.1zM394.0 1669.4h14.1v13.6h-14.1zM439.1 1669.4h14.1v13.6h-14.1zM514.2 1669.4h14.1v13.6h-14.1zM574.4 1669.4h14.1v13.6h-14.1zM649.5 1669.4h14.1v13.6h-14.1zM183.5 1683.9h14.1v13.6h-14.1zM198.6 1683.9h14.1v13.6h-14.1zM213.6 1683.9h14.1v13.6h-14.1zM228.6 1683.9h14.1v13.6h-14.1zM273.7 1683.9h14.1v13.6h-14.1zM303.8 1683.9h14.1v13.6h-14.1zM318.8 1683.9h14.1v13.6h-14.1zM363.9 1683.9h14.1v13.6h-14.1zM379.0 1683.9h14.1v13.6h-14.1zM394.0 1683.9h14.1v13.6h-14.1zM424.1 1683.9h14.1v13.6h-14.1zM439.1 1683.9h14.1v13.6h-14.1zM454.1 1683.9h14.1v13.6h-14.1zM514.2 1683.9h14.1v13.6h-14.1zM559.3 1683.9h14.1v13.6h-14.1zM574.4 1683.9h14.1v13.6h-14.1zM243.7 1698.4h14.1v13.6h-14.1zM258.7 1698.4h14.1v13.6h-14.1zM288.8 1698.4h14.1v13.6h-14.1zM303.8 1698.4h14.1v13.6h-14.1zM318.8 1698.4h14.1v13.6h-14.1zM424.1 1698.4h14.1v13.6h-14.1zM439.1 1698.4h14.1v13.6h-14.1zM454.1 1698.4h14.1v13.6h-14.1zM499.2 1698.4h14.1v13.6h-14.1zM514.2 1698.4h14.1v13.6h-14.1zM529.3 1698.4h14.1v13.6h-14.1zM544.3 1698.4h14.1v13.6h-14.1zM589.4 1698.4h14.1v13.6h-14.1zM604.4 1698.4h14.1v13.6h-14.1zM619.5 1698.4h14.1v13.6h-14.1zM634.5 1698.4h14.1v13.6h-14.1zM649.5 1698.4h14.1v13.6h-14.1zM228.6 1712.9h14.1v13.6h-14.1zM363.9 1712.9h14.1v13.6h-14.1zM394.0 1712.9h14.1v13.6h-14.1zM409.0 1712.9h14.1v13.6h-14.1zM424.1 1712.9h14.1v13.6h-14.1zM439.1 1712.9h14.1v13.6h-14.1zM469.1 1712.9h14.1v13.6h-14.1zM529.3 1712.9h14.1v13.6h-14.1zM559.3 1712.9h14.1v13.6h-14.1zM574.4 1712.9h14.1v13.6h-14.1zM589.4 1712.9h14.1v13.6h-14.1zM604.4 1712.9h14.1v13.6h-14.1zM619.5 1712.9h14.1v13.6h-14.1zM634.5 1712.9h14.1v13.6h-14.1zM649.5 1712.9h14.1v13.6h-14.1zM303.8 1727.3h14.1v13.6h-14.1zM318.8 1727.3h14.1v13.6h-14.1zM348.9 1727.3h14.1v13.6h-14.1zM363.9 1727.3h14.1v13.6h-14.1zM439.1 1727.3h14.1v13.6h-14.1zM469.1 1727.3h14.1v13.6h-14.1zM499.2 1727.3h14.1v13.6h-14.1zM559.3 1727.3h14.1v13.6h-14.1zM589.4 1727.3h14.1v13.6h-14.1zM604.4 1727.3h14.1v13.6h-14.1zM619.5 1727.3h14.1v13.6h-14.1zM649.5 1727.3h14.1v13.6h-14.1zM183.5 1741.8h14.1v13.6h-14.1zM273.7 1741.8h14.1v13.6h-14.1zM303.8 1741.8h14.1v13.6h-14.1zM318.8 1741.8h14.1v13.6h-14.1zM333.9 1741.8h14.1v13.6h-14.1zM348.9 1741.8h14.1v13.6h-14.1zM439.1 1741.8h14.1v13.6h-14.1zM544.3 1741.8h14.1v13.6h-14.1zM559.3 1741.8h14.1v13.6h-14.1zM574.4 1741.8h14.1v13.6h-14.1zM589.4 1741.8h14.1v13.6h-14.1zM649.5 1741.8h14.1v13.6h-14.1zM183.5 1756.3h14.1v13.6h-14.1zM273.7 1756.3h14.1v13.6h-14.1zM318.8 1756.3h14.1v13.6h-14.1zM333.9 1756.3h14.1v13.6h-14.1zM363.9 1756.3h14.1v13.6h-14.1zM409.0 1756.3h14.1v13.6h-14.1zM439.1 1756.3h14.1v13.6h-14.1zM484.2 1756.3h14.1v13.6h-14.1zM559.3 1756.3h14.1v13.6h-14.1zM574.4 1756.3h14.1v13.6h-14.1zM619.5 1756.3h14.1v13.6h-14.1zM634.5 1756.3h14.1v13.6h-14.1zM198.6 1770.8h14.1v13.6h-14.1zM213.6 1770.8h14.1v13.6h-14.1zM228.6 1770.8h14.1v13.6h-14.1zM258.7 1770.8h14.1v13.6h-14.1zM273.7 1770.8h14.1v13.6h-14.1zM333.9 1770.8h14.1v13.6h-14.1zM363.9 1770.8h14.1v13.6h-14.1zM409.0 1770.8h14.1v13.6h-14.1zM469.1 1770.8h14.1v13.6h-14.1zM514.2 1770.8h14.1v13.6h-14.1zM559.3 1770.8h14.1v13.6h-14.1zM604.4 1770.8h14.1v13.6h-14.1zM649.5 1770.8h14.1v13.6h-14.1zM198.6 1785.2h14.1v13.6h-14.1zM243.7 1785.2h14.1v13.6h-14.1zM258.7 1785.2h14.1v13.6h-14.1zM273.7 1785.2h14.1v13.6h-14.1zM363.9 1785.2h14.1v13.6h-14.1zM409.0 1785.2h14.1v13.6h-14.1zM469.1 1785.2h14.1v13.6h-14.1zM514.2 1785.2h14.1v13.6h-14.1zM544.3 1785.2h14.1v13.6h-14.1zM604.4 1785.2h14.1v13.6h-14.1zM243.7 1799.7h14.1v13.6h-14.1zM288.8 1799.7h14.1v13.6h-14.1zM363.9 1799.7h14.1v13.6h-14.1zM409.0 1799.7h14.1v13.6h-14.1zM469.1 1799.7h14.1v13.6h-14.1zM604.4 1799.7h14.1v13.6h-14.1zM634.5 1799.7h14.1v13.6h-14.1zM243.7 1814.2h14.1v13.6h-14.1zM303.8 1814.2h14.1v13.6h-14.1zM469.1 1814.2h14.1v13.6h-14.1zM619.5 1814.2h14.1v13.6h-14.1z"/><path fill="#4c1d4b" d="M454.1 1380.0h14.1v13.6h-14.1zM499.2 1380.0h14.1v13.6h-14.1zM183.5 1394.4h14.1v13.6h-14.1zM198.6 1394.4h14.1v13.6h-14.1zM228.6 1394.4h14.1v13.6h-14.1zM273.7 1394.4h14.1v13.6h-14.1zM348.9 1394.4h14.1v13.6h-14.1zM363.9 1394.4h14.1v13.6h-14.1zM379.0 1394.4h14.1v13.6h-14.1zM424.1 1394.4h14.1v13.6h-14.1zM439.1 1394.4h14.1v13.6h-14.1zM454.1 1394.4h14.1v13.6h-14.1zM544.3 1394.4h14.1v13.6h-14.1zM574.4 1394.4h14.1v13.6h-14.1zM619.5 1394.4h14.1v13.6h-14.1zM469.1 1408.9h14.1v13.6h-14.1zM363.9 1423.4h14.1v13.6h-14.1zM424.1 1423.4h14.1v13.6h-14.1zM559.3 1423.4h14.1v13.6h-14.1zM243.7 1437.8h14.1v13.6h-14.1zM394.0 1437.8h14.1v13.6h-14.1zM424.1 1437.8h14.1v13.6h-14.1zM439.1 1437.8h14.1v13.6h-14.1zM454.1 1437.8h14.1v13.6h-14.1zM619.5 1437.8h14.1v13.6h-14.1zM243.7 1452.3h14.1v13.6h-14.1zM303.8 1452.3h14.1v13.6h-14.1zM363.9 1452.3h14.1v13.6h-14.1zM379.0 1452.3h14.1v13.6h-14.1zM394.0 1452.3h14.1v13.6h-14.1zM439.1 1452.3h14.1v13.6h-14.1zM454.1 1452.3h14.1v13.6h-14.1zM469.1 1452.3h14.1v13.6h-14.1zM514.2 1452.3h14.1v13.6h-14.1zM198.6 1466.8h14.1v13.6h-14.1zM303.8 1466.8h14.1v13.6h-14.1zM318.8 1466.8h14.1v13.6h-14.1zM348.9 1466.8h14.1v13.6h-14.1zM363.9 1466.8h14.1v13.6h-14.1zM379.0 1466.8h14.1v13.6h-14.1zM439.1 1466.8h14.1v13.6h-14.1zM469.1 1466.8h14.1v13.6h-14.1zM499.2 1466.8h14.1v13.6h-14.1zM514.2 1466.8h14.1v13.6h-14.1zM619.5 1466.8h14.1v13.6h-14.1zM198.6 1481.3h14.1v13.6h-14.1zM303.8 1481.3h14.1v13.6h-14.1zM333.9 1481.3h14.1v13.6h-14.1zM348.9 1481.3h14.1v13.6h-14.1zM363.9 1481.3h14.1v13.6h-14.1zM379.0 1481.3h14.1v13.6h-14.1zM424.1 1481.3h14.1v13.6h-14.1zM439.1 1481.3h14.1v13.6h-14.1zM454.1 1481.3h14.1v13.6h-14.1zM484.2 1481.3h14.1v13.6h-14.1zM529.3 1481.3h14.1v13.6h-14.1zM213.6 1495.7h14.1v13.6h-14.1zM228.6 1495.7h14.1v13.6h-14.1zM258.7 1495.7h14.1v13.6h-14.1zM424.1 1495.7h14.1v13.6h-14.1zM454.1 1495.7h14.1v13.6h-14.1zM469.1 1495.7h14.1v13.6h-14.1zM484.2 1495.7h14.1v13.6h-14.1zM499.2 1495.7h14.1v13.6h-14.1zM514.2 1495.7h14.1v13.6h-14.1zM529.3 1495.7h14.1v13.6h-14.1zM213.6 1510.2h14.1v13.6h-14.1zM228.6 1510.2h14.1v13.6h-14.1zM303.8 1510.2h14.1v13.6h-14.1zM333.9 1510.2h14.1v13.6h-14.1zM409.0 1510.2h14.1v13.6h-14.1zM454.1 1510.2h14.1v13.6h-14.1zM484.2 1510.2h14.1v13.6h-14.1zM544.3 1510.2h14.1v13.6h-14.1zM559.3 1510.2h14.1v13.6h-14.1zM589.4 1510.2h14.1v13.6h-14.1zM619.5 1510.2h14.1v13.6h-14.1zM183.5 1524.7h14.1v13.6h-14.1zM198.6 1524.7h14.1v13.6h-14.1zM318.8 1524.7h14.1v13.6h-14.1zM379.0 1524.7h14.1v13.6h-14.1zM394.0 1524.7h14.1v13.6h-14.1zM484.2 1524.7h14.1v13.6h-14.1zM514.2 1524.7h14.1v13.6h-14.1zM544.3 1524.7h14.1v13.6h-14.1zM559.3 1524.7h14.1v13.6h-14.1zM619.5 1524.7h14.1v13.6h-14.1zM228.6 1539.2h14.1v13.6h-14.1zM529.3 1539.2h14.1v13.6h-14.1zM589.4 1539.2h14.1v13.6h-14.1zM198.6 1553.6h14.1v13.6h-14.1zM303.8 1553.6h14.1v13.6h-14.1zM318.8 1553.6h14.1v13.6h-14.1zM348.9 1553.6h14.1v13.6h-14.1zM424.1 1553.6h14.1v13.6h-14.1zM439.1 1553.6h14.1v13.6h-14.1zM469.1 1553.6h14.1v13.6h-14.1zM514.2 1553.6h14.1v13.6h-14.1zM529.3 1553.6h14.1v13.6h-14.1zM634.5 1553.6h14.1v13.6h-14.1zM198.6 1568.1h14.1v13.6h-14.1zM379.0 1568.1h14.1v13.6h-14.1zM394.0 1568.1h14.1v13.6h-14.1zM529.3 1568.1h14.1v13.6h-14.1zM213.6 1582.6h14.1v13.6h-14.1zM394.0 1582.6h14.1v13.6h-14.1zM514.2 1582.6h14.1v13.6h-14.1zM529.3 1582.6h14.1v13.6h-14.1zM559.3 1582.6h14.1v13.6h-14.1zM634.5 1582.6h14.1v13.6h-14.1zM333.9 1597.1h14.1v13.6h-14.1zM348.9 1597.1h14.1v13.6h-14.1zM394.0 1597.1h14.1v13.6h-14.1zM559.3 1597.1h14.1v13.6h-14.1zM228.6 1611.5h14.1v13.6h-14.1zM258.7 1611.5h14.1v13.6h-14.1zM273.7 1611.5h14.1v13.6h-14.1zM318.8 1611.5h14.1v13.6h-14.1zM363.9 1611.5h14.1v13.6h-14.1zM394.0 1611.5h14.1v13.6h-14.1zM409.0 1611.5h14.1v13.6h-14.1zM484.2 1611.5h14.1v13.6h-14.1zM544.3 1611.5h14.1v13.6h-14.1zM589.4 1611.5h14.1v13.6h-14.1zM258.7 1626.0h14.1v13.6h-14.1zM273.7 1626.0h14.1v13.6h-14.1zM288.8 1626.0h14.1v13.6h-14.1zM363.9 1626.0h14.1v13.6h-14.1zM394.0 1626.0h14.1v13.6h-14.1zM409.0 1626.0h14.1v13.6h-14.1zM439.1 1626.0h14.1v13.6h-14.1zM484.2 1626.0h14.1v13.6h-14.1zM544.3 1626.0h14.1v13.6h-14.1zM559.3 1626.0h14.1v13.6h-14.1zM333.9 1640.5h14.1v13.6h-14.1zM348.9 1640.5h14.1v13.6h-14.1zM394.0 1640.5h14.1v13.6h-14.1zM439.1 1640.5h14.1v13.6h-14.1zM544.3 1640.5h14.1v13.6h-14.1zM559.3 1640.5h14.1v13.6h-14.1zM228.6 1655.0h14.1v13.6h-14.1zM288.8 1655.0h14.1v13.6h-14.1zM333.9 1655.0h14.1v13.6h-14.1zM574.4 1655.0h14.1v13.6h-14.1zM604.4 1655.0h14.1v13.6h-14.1zM183.5 1669.4h14.1v13.6h-14.1zM228.6 1669.4h14.1v13.6h-14.1zM258.7 1669.4h14.1v13.6h-14.1zM288.8 1669.4h14.1v13.6h-14.1zM318.8 1669.4h14.1v13.6h-14.1zM409.0 1669.4h14.1v13.6h-14.1zM469.1 1669.4h14.1v13.6h-14.1zM604.4 1669.4h14.1v13.6h-14.1zM619.5 1669.4h14.1v13.6h-14.1zM288.8 1683.9h14.1v13.6h-14.1zM348.9 1683.9h14.1v13.6h-14.1zM409.0 1683.9h14.1v13.6h-14.1zM469.1 1683.9h14.1v13.6h-14.1zM333.9 1698.4h14.1v13.6h-14.1zM348.9 1698.4h14.1v13.6h-14.1zM469.1 1698.4h14.1v13.6h-14.1zM379.0 1712.9h14.1v13.6h-14.1zM228.6 1727.3h14.1v13.6h-14.1zM379.0 1727.3h14.1v13.6h-14.1zM394.0 1727.3h14.1v13.6h-14.1zM409.0 1727.3h14.1v13.6h-14.1zM454.1 1727.3h14.1v13.6h-14.1zM484.2 1727.3h14.1v13.6h-14.1zM529.3 1727.3h14.1v13.6h-14.1zM634.5 1727.3h14.1v13.6h-14.1zM454.1 1741.8h14.1v13.6h-14.1zM484.2 1741.8h14.1v13.6h-14.1zM499.2 1741.8h14.1v13.6h-14.1zM529.3 1741.8h14.1v13.6h-14.1zM634.5 1741.8h14.1v13.6h-14.1zM228.6 1756.3h14.1v13.6h-14.1zM303.8 1756.3h14.1v13.6h-14.1zM424.1 1756.3h14.1v13.6h-14.1zM469.1 1756.3h14.1v13.6h-14.1zM499.2 1756.3h14.1v13.6h-14.1zM514.2 1756.3h14.1v13.6h-14.1zM589.4 1756.3h14.1v13.6h-14.1zM288.8 1770.8h14.1v13.6h-14.1zM303.8 1770.8h14.1v13.6h-14.1zM318.8 1770.8h14.1v13.6h-14.1zM348.9 1770.8h14.1v13.6h-14.1zM424.1 1770.8h14.1v13.6h-14.1zM439.1 1770.8h14.1v13.6h-14.1zM454.1 1770.8h14.1v13.6h-14.1zM484.2 1770.8h14.1v13.6h-14.1zM529.3 1770.8h14.1v13.6h-14.1zM574.4 1770.8h14.1v13.6h-14.1zM619.5 1770.8h14.1v13.6h-14.1zM213.6 1785.2h14.1v13.6h-14.1zM228.6 1785.2h14.1v13.6h-14.1zM288.8 1785.2h14.1v13.6h-14.1zM303.8 1785.2h14.1v13.6h-14.1zM439.1 1785.2h14.1v13.6h-14.1zM454.1 1785.2h14.1v13.6h-14.1zM484.2 1785.2h14.1v13.6h-14.1zM529.3 1785.2h14.1v13.6h-14.1zM574.4 1785.2h14.1v13.6h-14.1zM589.4 1785.2h14.1v13.6h-14.1zM183.5 1799.7h14.1v13.6h-14.1zM198.6 1799.7h14.1v13.6h-14.1zM228.6 1799.7h14.1v13.6h-14.1zM273.7 1799.7h14.1v13.6h-14.1zM303.8 1799.7h14.1v13.6h-14.1zM318.8 1799.7h14.1v13.6h-14.1zM348.9 1799.7h14.1v13.6h-14.1zM514.2 1799.7h14.1v13.6h-14.1zM544.3 1799.7h14.1v13.6h-14.1zM574.4 1799.7h14.1v13.6h-14.1zM619.5 1799.7h14.1v13.6h-14.1zM198.6 1814.2h14.1v13.6h-14.1zM258.7 1814.2h14.1v13.6h-14.1zM318.8 1814.2h14.1v13.6h-14.1zM333.9 1814.2h14.1v13.6h-14.1zM409.0 1814.2h14.1v13.6h-14.1zM514.2 1814.2h14.1v13.6h-14.1zM544.3 1814.2h14.1v13.6h-14.1zM589.4 1814.2h14.1v13.6h-14.1zM604.4 1814.2h14.1v13.6h-14.1z"/><path fill="#701f57" d="M258.7 1380.0h14.1v13.6h-14.1zM318.8 1380.0h14.1v13.6h-14.1zM439.1 1380.0h14.1v13.6h-14.1zM243.7 1394.4h14.1v13.6h-14.1zM258.7 1394.4h14.1v13.6h-14.1zM333.9 1394.4h14.1v13.6h-14.1zM469.1 1394.4h14.1v13.6h-14.1zM333.9 1452.3h14.1v13.6h-14.1zM348.9 1452.3h14.1v13.6h-14.1zM424.1 1452.3h14.1v13.6h-14.1zM619.5 1452.3h14.1v13.6h-14.1zM333.9 1466.8h14.1v13.6h-14.1zM424.1 1466.8h14.1v13.6h-14.1zM484.2 1466.8h14.1v13.6h-14.1zM183.5 1481.3h14.1v13.6h-14.1zM499.2 1481.3h14.1v13.6h-14.1zM514.2 1481.3h14.1v13.6h-14.1zM619.5 1481.3h14.1v13.6h-14.1zM183.5 1495.7h14.1v13.6h-14.1zM333.9 1495.7h14.1v13.6h-14.1zM619.5 1495.7h14.1v13.6h-14.1zM649.5 1495.7h14.1v13.6h-14.1zM318.8 1510.2h14.1v13.6h-14.1zM469.1 1510.2h14.1v13.6h-14.1zM213.6 1524.7h14.1v13.6h-14.1zM409.0 1524.7h14.1v13.6h-14.1zM424.1 1524.7h14.1v13.6h-14.1zM574.4 1524.7h14.1v13.6h-14.1zM589.4 1524.7h14.1v13.6h-14.1zM649.5 1524.7h14.1v13.6h-14.1zM183.5 1539.2h14.1v13.6h-14.1zM213.6 1539.2h14.1v13.6h-14.1zM469.1 1539.2h14.1v13.6h-14.1zM544.3 1539.2h14.1v13.6h-14.1zM559.3 1539.2h14.1v13.6h-14.1zM574.4 1539.2h14.1v13.6h-14.1zM649.5 1539.2h14.1v13.6h-14.1zM559.3 1553.6h14.1v13.6h-14.1zM574.4 1553.6h14.1v13.6h-14.1zM589.4 1553.6h14.1v13.6h-14.1zM649.5 1553.6h14.1v13.6h-14.1zM213.6 1568.1h14.1v13.6h-14.1zM228.6 1568.1h14.1v13.6h-14.1zM333.9 1568.1h14.1v13.6h-14.1zM363.9 1568.1h14.1v13.6h-14.1zM514.2 1568.1h14.1v13.6h-14.1zM649.5 1568.1h14.1v13.6h-14.1zM183.5 1582.6h14.1v13.6h-14.1zM333.9 1582.6h14.1v13.6h-14.1zM379.0 1582.6h14.1v13.6h-14.1zM544.3 1582.6h14.1v13.6h-14.1zM649.5 1582.6h14.1v13.6h-14.1zM183.5 1597.1h14.1v13.6h-14.1zM303.8 1597.1h14.1v13.6h-14.1zM544.3 1597.1h14.1v13.6h-14.1zM589.4 1597.1h14.1v13.6h-14.1zM649.5 1597.1h14.1v13.6h-14.1zM348.9 1611.5h14.1v13.6h-14.1zM649.5 1611.5h14.1v13.6h-14.1zM228.6 1626.0h14.1v13.6h-14.1zM348.9 1626.0h14.1v13.6h-14.1zM574.4 1626.0h14.1v13.6h-14.1zM634.5 1626.0h14.1v13.6h-14.1zM574.4 1640.5h14.1v13.6h-14.1zM303.8 1655.0h14.1v13.6h-14.1zM619.5 1655.0h14.1v13.6h-14.1zM243.7 1669.4h14.1v13.6h-14.1zM243.7 1683.9h14.1v13.6h-14.1zM258.7 1683.9h14.1v13.6h-14.1zM514.2 1727.3h14.1v13.6h-14.1zM228.6 1741.8h14.1v13.6h-14.1zM469.1 1741.8h14.1v13.6h-14.1zM529.3 1756.3h14.1v13.6h-14.1zM183.5 1770.8h14.1v13.6h-14.1zM499.2 1770.8h14.1v13.6h-14.1zM634.5 1770.8h14.1v13.6h-14.1zM183.5 1785.2h14.1v13.6h-14.1zM318.8 1785.2h14.1v13.6h-14.1zM333.9 1785.2h14.1v13.6h-14.1zM348.9 1785.2h14.1v13.6h-14.1zM499.2 1785.2h14.1v13.6h-14.1zM559.3 1785.2h14.1v13.6h-14.1zM619.5 1785.2h14.1v13.6h-14.1zM634.5 1785.2h14.1v13.6h-14.1zM213.6 1799.7h14.1v13.6h-14.1zM439.1 1799.7h14.1v13.6h-14.1zM273.7 1814.2h14.1v13.6h-14.1zM348.9 1814.2h14.1v13.6h-14.1zM363.9 1814.2h14.1v13.6h-14.1zM439.1 1814.2h14.1v13.6h-14.1zM559.3 1814.2h14.1v13.6h-14.1zM574.4 1814.2h14.1v13.6h-14.1z"/><path fill="#9c1b5b" d="M243.7 1380.0h14.1v13.6h-14.1zM303.8 1380.0h14.1v13.6h-14.1zM363.9 1380.0h14.1v13.6h-14.1zM604.4 1380.0h14.1v13.6h-14.1zM484.2 1394.4h14.1v13.6h-14.1zM604.4 1394.4h14.1v13.6h-14.1zM649.5 1481.3h14.1v13.6h-14.1zM303.8 1495.7h14.1v13.6h-14.1zM198.6 1510.2h14.1v13.6h-14.1zM439.1 1524.7h14.1v13.6h-14.1zM439.1 1539.2h14.1v13.6h-14.1zM454.1 1539.2h14.1v13.6h-14.1zM213.6 1553.6h14.1v13.6h-14.1zM228.6 1553.6h14.1v13.6h-14.1zM409.0 1553.6h14.1v13.6h-14.1zM544.3 1553.6h14.1v13.6h-14.1zM318.8 1582.6h14.1v13.6h-14.1zM363.9 1582.6h14.1v13.6h-14.1zM243.7 1597.1h14.1v13.6h-14.1zM288.8 1597.1h14.1v13.6h-14.1zM318.8 1597.1h14.1v13.6h-14.1zM363.9 1597.1h14.1v13.6h-14.1zM574.4 1597.1h14.1v13.6h-14.1zM243.7 1611.5h14.1v13.6h-14.1zM303.8 1640.5h14.1v13.6h-14.1zM514.2 1741.8h14.1v13.6h-14.1zM394.0 1756.3h14.1v13.6h-14.1zM394.0 1770.8h14.1v13.6h-14.1zM333.9 1799.7h14.1v13.6h-14.1zM589.4 1799.7h14.1v13.6h-14.1zM213.6 1814.2h14.1v13.6h-14.1z"/><path fill="#c3184f" d="M484.2 1380.0h14.1v13.6h-14.1zM484.2 1452.3h14.1v13.6h-14.1zM213.6 1466.8h14.1v13.6h-14.1zM198.6 1495.7h14.1v13.6h-14.1zM574.4 1510.2h14.1v13.6h-14.1zM454.1 1524.7h14.1v13.6h-14.1zM469.1 1524.7h14.1v13.6h-14.1zM409.0 1539.2h14.1v13.6h-14.1zM424.1 1539.2h14.1v13.6h-14.1zM183.5 1553.6h14.1v13.6h-14.1zM454.1 1553.6h14.1v13.6h-14.1zM318.8 1568.1h14.1v13.6h-14.1zM544.3 1568.1h14.1v13.6h-14.1zM288.8 1582.6h14.1v13.6h-14.1zM303.8 1582.6h14.1v13.6h-14.1zM243.7 1626.0h14.1v13.6h-14.1zM198.6 1741.8h14.1v13.6h-14.1zM198.6 1756.3h14.1v13.6h-14.1zM348.9 1756.3h14.1v13.6h-14.1zM649.5 1785.2h14.1v13.6h-14.1zM649.5 1799.7h14.1v13.6h-14.1zM288.8 1814.2h14.1v13.6h-14.1z"/><path fill="#e13342" d="M213.6 1481.3h14.1v13.6h-14.1zM318.8 1495.7h14.1v13.6h-14.1zM514.2 1611.5h14.1v13.6h-14.1zM333.9 1683.9h14.1v13.6h-14.1zM183.5 1814.2h14.1v13.6h-14.1z"/><path fill="#f1653f" d="M288.8 1380.0h14.1v13.6h-14.1zM574.4 1380.0h14.1v13.6h-14.1zM559.3 1452.3h14.1v13.6h-14.1zM348.9 1510.2h14.1v13.6h-14.1zM604.4 1553.6h14.1v13.6h-14.1zM348.9 1568.1h14.1v13.6h-14.1zM243.7 1582.6h14.1v13.6h-14.1zM258.7 1582.6h14.1v13.6h-14.1zM348.9 1582.6h14.1v13.6h-14.1zM258.7 1597.1h14.1v13.6h-14.1zM514.2 1597.1h14.1v13.6h-14.1zM619.5 1597.1h14.1v13.6h-14.1zM379.0 1611.5h14.1v13.6h-14.1zM619.5 1611.5h14.1v13.6h-14.1zM379.0 1626.0h14.1v13.6h-14.1zM333.9 1669.4h14.1v13.6h-14.1zM559.3 1799.7h14.1v13.6h-14.1zM529.3 1814.2h14.1v13.6h-14.1z"/><path fill="#f6a57d" d="M198.6 1380.0h14.1v13.6h-14.1zM228.6 1380.0h14.1v13.6h-14.1zM273.7 1380.0h14.1v13.6h-14.1zM333.9 1380.0h14.1v13.6h-14.1zM559.3 1380.0h14.1v13.6h-14.1zM589.4 1380.0h14.1v13.6h-14.1zM559.3 1466.8h14.1v13.6h-14.1zM348.9 1495.7h14.1v13.6h-14.1zM303.8 1568.1h14.1v13.6h-14.1zM604.4 1568.1h14.1v13.6h-14.1zM454.1 1799.7h14.1v13.6h-14.1zM228.6 1814.2h14.1v13.6h-14.1zM454.1 1814.2h14.1v13.6h-14.1z"/><path fill="#faebdd" d="M183.5 1380.0h14.1v13.6h-14.1zM213.6 1380.0h14.1v13.6h-14.1zM348.9 1380.0h14.1v13.6h-14.1zM409.0 1380.0h14.1v13.6h-14.1zM529.3 1380.0h14.1v13.6h-14.1zM544.3 1380.0h14.1v13.6h-14.1zM363.9 1539.2h14.1v13.6h-14.1zM363.9 1553.6h14.1v13.6h-14.1zM574.4 1568.1h14.1v13.6h-14.1zM273.7 1582.6h14.1v13.6h-14.1zM574.4 1582.6h14.1v13.6h-14.1zM273.7 1597.1h14.1v13.6h-14.1zM634.5 1597.1h14.1v13.6h-14.1zM634.5 1611.5h14.1v13.6h-14.1zM394.0 1814.2h14.1v13.6h-14.1z"/><rect x="183.6" y="1523.2" width="482.5" height="102.8" fill="none" stroke="#e0363f" stroke-width="4.6"/><defs><linearGradient id="rk" x1="0" y1="0" x2="0" y2="1"><stop offset="0" stop-color="#03051a"/><stop offset="0.1" stop-color="#221331"/><stop offset="0.2" stop-color="#451c47"/><stop offset="0.3" stop-color="#6a1f56"/><stop offset="0.4" stop-color="#921c5b"/><stop offset="0.5" stop-color="#b91657"/><stop offset="0.6" stop-color="#d92847"/><stop offset="0.7" stop-color="#ed503e"/><stop offset="0.8" stop-color="#f47d57"/><stop offset="0.9" stop-color="#f6a47c"/><stop offset="1" stop-color="#faebdd"/></linearGradient></defs><rect x="695.3" y="1379.5" width="22.2" height="448.7" fill="url(#rk)"/><path d="M178.1 1386.7h5M178.1 1415.7h5M178.1 1444.6h5M178.1 1473.6h5M178.1 1502.5h5M178.1 1531.5h5M178.1 1560.4h5M178.1 1589.4h5M178.1 1618.3h5M178.1 1647.3h5M178.1 1676.2h5M178.1 1705.2h5M178.1 1734.1h5M178.1 1763.1h5M178.1 1792.0h5M178.1 1821.0h5M190.6 1828.2v5M220.7 1828.2v5M250.7 1828.2v5M280.8 1828.2v5M310.9 1828.2v5M340.9 1828.2v5M371.0 1828.2v5M401.1 1828.2v5M431.1 1828.2v5M461.2 1828.2v5M491.2 1828.2v5M521.3 1828.2v5M551.4 1828.2v5M581.4 1828.2v5M611.5 1828.2v5M641.6 1828.2v5M717.5 1828.2h4.5M717.5 1738.4h4.5M717.5 1648.6h4.5M717.5 1558.8h4.5M717.5 1469.0h4.5" stroke="#000" stroke-width="1.1" fill="none"/><text transform="translate(174.5 1386.7) rotate(-90)" text-anchor="middle" style="font-family:'DejaVu Sans',sans-serif;font-size:15.5px">0</text><text transform="translate(174.5 1415.7) rotate(-90)" text-anchor="middle" style="font-family:'DejaVu Sans',sans-serif;font-size:15.5px">2</text><text transform="translate(174.5 1444.6) rotate(-90)" text-anchor="middle" style="font-family:'DejaVu Sans',sans-serif;font-size:15.5px">4</text><text transform="translate(174.5 1473.6) rotate(-90)" text-anchor="middle" style="font-family:'DejaVu Sans',sans-serif;font-size:15.5px">6</text><text transform="translate(174.5 1502.5) rotate(-90)" text-anchor="middle" style="font-family:'DejaVu Sans',sans-serif;font-size:15.5px">8</text><text transform="translate(174.5 1531.5) rotate(-90)" text-anchor="middle" style="font-family:'DejaVu Sans',sans-serif;font-size:15.5px">10</text><text transform="translate(174.5 1560.4) rotate(-90)" text-anchor="middle" style="font-family:'DejaVu Sans',sans-serif;font-size:15.5px">12</text><text transform="translate(174.5 1589.4) rotate(-90)" text-anchor="middle" style="font-family:'DejaVu Sans',sans-serif;font-size:15.5px">14</text><text transform="translate(174.5 1618.3) rotate(-90)" text-anchor="middle" style="font-family:'DejaVu Sans',sans-serif;font-size:15.5px">16</text><text transform="translate(174.5 1647.3) rotate(-90)" text-anchor="middle" style="font-family:'DejaVu Sans',sans-serif;font-size:15.5px">18</text><text transform="translate(174.5 1676.2) rotate(-90)" text-anchor="middle" style="font-family:'DejaVu Sans',sans-serif;font-size:15.5px">20</text><text transform="translate(174.5 1705.2) rotate(-90)" text-anchor="middle" style="font-family:'DejaVu Sans',sans-serif;font-size:15.5px">22</text><text transform="translate(174.5 1734.1) rotate(-90)" text-anchor="middle" style="font-family:'DejaVu Sans',sans-serif;font-size:15.5px">24</text><text transform="translate(174.5 1763.1) rotate(-90)" text-anchor="middle" style="font-family:'DejaVu Sans',sans-serif;font-size:15.5px">26</text><text transform="translate(174.5 1792.0) rotate(-90)" text-anchor="middle" style="font-family:'DejaVu Sans',sans-serif;font-size:15.5px">28</text><text transform="translate(174.5 1821.0) rotate(-90)" text-anchor="middle" style="font-family:'DejaVu Sans',sans-serif;font-size:15.5px">30</text><text transform="translate(145 1603.5) rotate(-90)" text-anchor="middle" style="font-family:'DejaVu Sans',sans-serif;font-size:16.9px">Similarity between adjacent layers</text><text x="190.6" y="1852" text-anchor="middle" style="font-family:'DejaVu Sans',sans-serif;font-size:15.5px">0</text><text x="220.7" y="1852" text-anchor="middle" style="font-family:'DejaVu Sans',sans-serif;font-size:15.5px">2</text><text x="250.7" y="1852" text-anchor="middle" style="font-family:'DejaVu Sans',sans-serif;font-size:15.5px">4</text><text x="280.8" y="1852" text-anchor="middle" style="font-family:'DejaVu Sans',sans-serif;font-size:15.5px">6</text><text x="310.9" y="1852" text-anchor="middle" style="font-family:'DejaVu Sans',sans-serif;font-size:15.5px">8</text><text x="340.9" y="1852" text-anchor="middle" style="font-family:'DejaVu Sans',sans-serif;font-size:15.5px">10</text><text x="371.0" y="1852" text-anchor="middle" style="font-family:'DejaVu Sans',sans-serif;font-size:15.5px">12</text><text x="401.1" y="1852" text-anchor="middle" style="font-family:'DejaVu Sans',sans-serif;font-size:15.5px">14</text><text x="431.1" y="1852" text-anchor="middle" style="font-family:'DejaVu Sans',sans-serif;font-size:15.5px">16</text><text x="461.2" y="1852" text-anchor="middle" style="font-family:'DejaVu Sans',sans-serif;font-size:15.5px">18</text><text x="491.2" y="1852" text-anchor="middle" style="font-family:'DejaVu Sans',sans-serif;font-size:15.5px">20</text><text x="521.3" y="1852" text-anchor="middle" style="font-family:'DejaVu Sans',sans-serif;font-size:15.5px">22</text><text x="551.4" y="1852" text-anchor="middle" style="font-family:'DejaVu Sans',sans-serif;font-size:15.5px">24</text><text x="581.4" y="1852" text-anchor="middle" style="font-family:'DejaVu Sans',sans-serif;font-size:15.5px">26</text><text x="611.5" y="1852" text-anchor="middle" style="font-family:'DejaVu Sans',sans-serif;font-size:15.5px">28</text><text x="641.6" y="1852" text-anchor="middle" style="font-family:'DejaVu Sans',sans-serif;font-size:15.5px">30</text><text x="423.6" y="1875.5" text-anchor="middle" style="font-family:'DejaVu Sans',sans-serif;font-size:16.9px">Attention Head</text><text x="728" y="1833.9" style="font-family:'DejaVu Sans',sans-serif;font-size:15.5px">0.5</text><text x="728" y="1744.1" style="font-family:'DejaVu Sans',sans-serif;font-size:15.5px">0.6</text><text x="728" y="1654.3" style="font-family:'DejaVu Sans',sans-serif;font-size:15.5px">0.7</text><text x="728" y="1564.5" style="font-family:'DejaVu Sans',sans-serif;font-size:15.5px">0.8</text><text x="728" y="1474.7" style="font-family:'DejaVu Sans',sans-serif;font-size:15.5px">0.9</text><path d="M1023.95 1829.6v-188.5h8.9v188.5zM1041.62 1829.6v-259.6h8.9v259.6zM1059.30 1829.6v-275.9h8.9v275.9zM1076.98 1829.6v-374.5h8.9v374.5zM1094.65 1829.6v-400.8h8.9v400.8zM1112.33 1829.6v-413.7h8.9v413.7zM1130.00 1829.6v-413.7h8.9v413.7zM1147.67 1829.6v-416.9h8.9v416.9zM1165.35 1829.6v-422.6h8.9v422.6zM1183.03 1829.6v-392.7h8.9v392.7zM1200.70 1829.6v-419.0h8.9v419.0zM1218.38 1829.6v-395.5h8.9v395.5zM1236.05 1829.6v-379.8h8.9v379.8zM1253.73 1829.6v-356.3h8.9v356.3zM1271.40 1829.6v-355.5h8.9v355.5zM1289.08 1829.6v-339.8h8.9v339.8zM1306.75 1829.6v-342.5h8.9v342.5zM1324.42 1829.6v-321.6h8.9v321.6zM1342.10 1829.6v-308.5h8.9v308.5zM1359.78 1829.6v-304.1h8.9v304.1zM1377.45 1829.6v-300.5h8.9v300.5zM1395.12 1829.6v-284.3h8.9v284.3zM1412.80 1829.6v-275.4h8.9v275.4zM1430.48 1829.6v-266.5h8.9v266.5zM1448.15 1829.6v-255.6h8.9v255.6zM1465.83 1829.6v-243.4h8.9v243.4zM1483.50 1829.6v-238.6h8.9v238.6zM1501.17 1829.6v-230.5h8.9v230.5zM1518.85 1829.6v-222.5h8.9v222.5z" fill="#0000ff"/><rect x="998.5" y="1386.4" width="555.2" height="443.2" fill="none" stroke="#555" stroke-width="1.1"/><text x="991" y="1837.4" text-anchor="end" style="font-family:'DejaVu Sans',sans-serif;font-size:21.6px">0.00</text><text x="991" y="1782.6" text-anchor="end" style="font-family:'DejaVu Sans',sans-serif;font-size:21.6px">0.05</text><text x="991" y="1727.8" text-anchor="end" style="font-family:'DejaVu Sans',sans-serif;font-size:21.6px">0.10</text><text x="991" y="1673.0" text-anchor="end" style="font-family:'DejaVu Sans',sans-serif;font-size:21.6px">0.15</text><text x="991" y="1618.2" text-anchor="end" style="font-family:'DejaVu Sans',sans-serif;font-size:21.6px">0.20</text><text x="991" y="1563.4" text-anchor="end" style="font-family:'DejaVu Sans',sans-serif;font-size:21.6px">0.25</text><text x="991" y="1508.6" text-anchor="end" style="font-family:'DejaVu Sans',sans-serif;font-size:21.6px">0.30</text><text x="991" y="1453.8" text-anchor="end" style="font-family:'DejaVu Sans',sans-serif;font-size:21.6px">0.35</text><text x="991" y="1399.0" text-anchor="end" style="font-family:'DejaVu Sans',sans-serif;font-size:21.6px">0.40</text><text transform="translate(1035.20 1837.5) rotate(-90)" text-anchor="end" style="font-family:'DejaVu Sans',sans-serif;font-size:18.5px">3</text><text transform="translate(1052.88 1837.5) rotate(-90)" text-anchor="end" style="font-family:'DejaVu Sans',sans-serif;font-size:18.5px">4</text><text transform="translate(1070.55 1837.5) rotate(-90)" text-anchor="end" style="font-family:'DejaVu Sans',sans-serif;font-size:18.5px">5</text><text transform="translate(1088.23 1837.5) rotate(-90)" text-anchor="end" style="font-family:'DejaVu Sans',sans-serif;font-size:18.5px">6</text><text transform="translate(1105.90 1837.5) rotate(-90)" text-anchor="end" style="font-family:'DejaVu Sans',sans-serif;font-size:18.5px">7</text><text transform="translate(1123.58 1837.5) rotate(-90)" text-anchor="end" style="font-family:'DejaVu Sans',sans-serif;font-size:18.5px">8</text><text transform="translate(1141.25 1837.5) rotate(-90)" text-anchor="end" style="font-family:'DejaVu Sans',sans-serif;font-size:18.5px">9</text><text transform="translate(1158.92 1837.5) rotate(-90)" text-anchor="end" style="font-family:'DejaVu Sans',sans-serif;font-size:18.5px">10</text><text transform="translate(1176.60 1837.5) rotate(-90)" text-anchor="end" style="font-family:'DejaVu Sans',sans-serif;font-size:18.5px">11</text><text transform="translate(1194.28 1837.5) rotate(-90)" text-anchor="end" style="font-family:'DejaVu Sans',sans-serif;font-size:18.5px">12</text><text transform="translate(1211.95 1837.5) rotate(-90)" text-anchor="end" style="font-family:'DejaVu Sans',sans-serif;font-size:18.5px">13</text><text transform="translate(1229.62 1837.5) rotate(-90)" text-anchor="end" style="font-family:'DejaVu Sans',sans-serif;font-size:18.5px">14</text><text transform="translate(1247.30 1837.5) rotate(-90)" text-anchor="end" style="font-family:'DejaVu Sans',sans-serif;font-size:18.5px">15</text><text transform="translate(1264.98 1837.5) rotate(-90)" text-anchor="end" style="font-family:'DejaVu Sans',sans-serif;font-size:18.5px">16</text><text transform="translate(1282.65 1837.5) rotate(-90)" text-anchor="end" style="font-family:'DejaVu Sans',sans-serif;font-size:18.5px">17</text><text transform="translate(1300.33 1837.5) rotate(-90)" text-anchor="end" style="font-family:'DejaVu Sans',sans-serif;font-size:18.5px">18</text><text transform="translate(1318.00 1837.5) rotate(-90)" text-anchor="end" style="font-family:'DejaVu Sans',sans-serif;font-size:18.5px">19</text><text transform="translate(1335.67 1837.5) rotate(-90)" text-anchor="end" style="font-family:'DejaVu Sans',sans-serif;font-size:18.5px">20</text><text transform="translate(1353.35 1837.5) rotate(-90)" text-anchor="end" style="font-family:'DejaVu Sans',sans-serif;font-size:18.5px">21</text><text transform="translate(1371.03 1837.5) rotate(-90)" text-anchor="end" style="font-family:'DejaVu Sans',sans-serif;font-size:18.5px">22</text><text transform="translate(1388.70 1837.5) rotate(-90)" text-anchor="end" style="font-family:'DejaVu Sans',sans-serif;font-size:18.5px">23</text><text transform="translate(1406.38 1837.5) rotate(-90)" text-anchor="end" style="font-family:'DejaVu Sans',sans-serif;font-size:18.5px">24</text><text transform="translate(1424.05 1837.5) rotate(-90)" text-anchor="end" style="font-family:'DejaVu Sans',sans-serif;font-size:18.5px">25</text><text transform="translate(1441.73 1837.5) rotate(-90)" text-anchor="end" style="font-family:'DejaVu Sans',sans-serif;font-size:18.5px">26</text><text transform="translate(1459.40 1837.5) rotate(-90)" text-anchor="end" style="font-family:'DejaVu Sans',sans-serif;font-size:18.5px">27</text><text transform="translate(1477.08 1837.5) rotate(-90)" text-anchor="end" style="font-family:'DejaVu Sans',sans-serif;font-size:18.5px">28</text><text transform="translate(1494.75 1837.5) rotate(-90)" text-anchor="end" style="font-family:'DejaVu Sans',sans-serif;font-size:18.5px">29</text><text transform="translate(1512.42 1837.5) rotate(-90)" text-anchor="end" style="font-family:'DejaVu Sans',sans-serif;font-size:18.5px">30</text><text transform="translate(1530.10 1837.5) rotate(-90)" text-anchor="end" style="font-family:'DejaVu Sans',sans-serif;font-size:18.5px">31</text><path d="M994.0 1829.6h4.5M994.0 1774.8h4.5M994.0 1720.0h4.5M994.0 1665.2h4.5M994.0 1610.4h4.5M994.0 1555.6h4.5M994.0 1500.8h4.5M994.0 1446.0h4.5M994.0 1391.2h4.5M1028.40 1829.6v4.5M1046.08 1829.6v4.5M1063.75 1829.6v4.5M1081.43 1829.6v4.5M1099.10 1829.6v4.5M1116.78 1829.6v4.5M1134.45 1829.6v4.5M1152.12 1829.6v4.5M1169.80 1829.6v4.5M1187.48 1829.6v4.5M1205.15 1829.6v4.5M1222.83 1829.6v4.5M1240.50 1829.6v4.5M1258.18 1829.6v4.5M1275.85 1829.6v4.5M1293.53 1829.6v4.5M1311.20 1829.6v4.5M1328.88 1829.6v4.5M1346.55 1829.6v4.5M1364.23 1829.6v4.5M1381.90 1829.6v4.5M1399.58 1829.6v4.5M1417.25 1829.6v4.5M1434.93 1829.6v4.5M1452.60 1829.6v4.5M1470.28 1829.6v4.5M1487.95 1829.6v4.5M1505.62 1829.6v4.5M1523.30 1829.6v4.5" stroke="#000" stroke-width="1.1" fill="none"/><text transform="translate(934.5 1608.8) rotate(-90)" text-anchor="middle" style="font-family:'DejaVu Sans',sans-serif;font-size:22.3px">Recall Rate</text><text x="1276.3" y="1880" text-anchor="middle" style="font-family:'DejaVu Sans',sans-serif;font-size:22.2px">Re-selection Layer</text></svg>
<div class="ln c" style="left:152.0px;top:1901.0px;font-size:28px;transform:scaleX(0.99892);"><span class="r">(a)</span> Cos. similarity of attention scores for layers.</div>
<div class="ln c" style="left:955.2px;top:1901.0px;font-size:28px;word-spacing:1.013px;"><span class="r">(b)</span> Attention recall rate by re-selection Layer.</div>
<div class="ln c" style="left:121.0px;top:1981.1px;word-spacing:0.733px;"><span class="r">Figure 1.</span> (1a) attention score pattern on PG-19-mini across layers, where the least correlated region is identified by</div>
<div class="ln c" style="left:121.0px;top:2016.6px;word-spacing:1.191px;">the red area; (1b) the top-256 recall rates, showing the optimal layers for token re-selection.</div>
<div class="ln h" style="left:700.9px;top:2130.2px;transform:scaleX(1.03336);">Contributions</div>
<div style="position:absolute;left:120.0px;top:2189.5px;width:1440.0px;height:1.6px;background:#444;"></div>
<div class="ln b" style="left:120.0px;top:2213.0px;word-spacing:1.039px;">To this end, this work makes the following contributions:</div>
<div class="ln b" style="left:154.7px;top:2291.4px;word-spacing:0.347px;">We propose TidalDecode, a training-free and efficient algorithm and system for fast and</div>
<div style="position:absolute;left:129.8px;top:2302.2px;width:8.4px;height:8.6px;background:#b31b1b;"></div>
<div class="ln b" style="left:154.7px;top:2333.6px;transform:scaleX(0.99545);">accurate long-context LLM decoding through position persistent sparse attention (PPSA).</div>
<div class="ln b" style="left:154.7px;top:2383.6px;transform:scaleX(0.98596);"><b>Technically</b>, we introduce PPSA that leverages spatial coherence of token selection across</div>
<div style="position:absolute;left:129.8px;top:2394.4px;width:8.4px;height:8.6px;background:#b31b1b;"></div>
<div class="ln b" style="left:154.7px;top:2425.8px;word-spacing:0.855px;">consecutive attention layers, implement exact-top-k token selection layers (just two in most</div>
<div class="ln b" style="left:154.7px;top:2468.0px;transform:scaleX(0.99956);">cases) to identify high-attention tokens, and propose a cache-correction mechanism to</div>
<div class="ln b" style="left:154.7px;top:2510.3px;word-spacing:0.433px;">mitigate distribution shifts caused by sparse attention.</div>
<div class="ln b" style="left:154.7px;top:2561.0px;word-spacing:0.900px;"><b>Empirically</b>, TidalDecode achieves up to <span class="m">2.1×</span> reduction in end-to-end inference latency</div>
<div style="position:absolute;left:129.8px;top:2571.8px;width:8.4px;height:8.6px;background:#b31b1b;"></div>
<div class="ln b" style="left:154.7px;top:2603.3px;word-spacing:0.165px;">compared to full attention while maintaining high generative performance across diverse</div>
<div class="ln b" style="left:154.7px;top:2645.4px;transform:scaleX(0.99533);">models and tasks, outperforming existing sparse attention methods.</div>
<div class="ln h" style="left:2272.1px;top:524.2px;transform:scaleX(1.05458);">Methodology</div>
<div style="position:absolute;left:1686.0px;top:581.7px;width:1440.0px;height:1.6px;background:#444;"></div>
<div class="ln b" style="left:1686.0px;top:605.3px;word-spacing:1.043px;"><b>TidalDecode Pipeline.</b>&nbsp; The design of TidalDecode efficiently reduces decoding latency by com-</div>
<div class="ln b" style="left:1686.0px;top:647.3px;word-spacing:0.195px;">bining full attention, token selection, and sparse attention layers.&nbsp;Initially, full attention layers en-</div>
<div class="ln b" style="left:1686.0px;top:689.3px;transform:scaleX(0.98832);">sure critical information preservation.&nbsp;A token selection layer follows, precisely selecting the top-k</div>
<div class="ln b" style="left:1686.0px;top:731.4px;transform:scaleX(0.97053);">tokens based on attention scores.&nbsp;Subsequent sparse attention layers reuse these selected tokens</div>
<div class="ln b" style="left:1686.0px;top:773.4px;word-spacing:0.481px;">prefetched from selection layer, which significantly reduce overhead.&nbsp;Additionally, a strategically</div>
<div class="ln b" style="left:1686.0px;top:815.4px;transform:scaleX(0.99442);">placed re-selection layer recalibrates token representations, maintaining high generative quality.</div>
<svg style="left:0;top:0" width="3300" height="1500" viewBox="0 0 3300 1500"><rect x="1696" y="889.3" width="252.0" height="466.2" fill="#fdfbdc"/><rect x="1948" y="889.3" width="252.0" height="466.2" fill="#ccffcc"/><rect x="2200" y="975.3" width="333.6" height="380.2" fill="#ccf5ff"/><rect x="2533.6" y="889.3" width="238.4" height="466.2" fill="#ccffcc"/><rect x="2772" y="975.3" width="343.8" height="380.2" fill="#ccf5ff"/><rect x="1728.4" y="1082.0" width="54.7" height="226.6" rx="9" fill="#e6dca0" stroke="#000" stroke-width="2.6"/><text transform="translate(1748.2 1195.3) rotate(90)" text-anchor="middle" style="font-family:'Liberation Sans',sans-serif;font-size:21.5px;font-weight:bold;fill:#111;stroke:#e6dca0;stroke-width:0.17px">Full Attention</text><rect x="1742.0" y="906.5" width="49" height="14.9" rx="6.5" fill="#f7a8b1" stroke="#000" stroke-width="2.4"/><rect x="1730.3" y="896.0" width="49" height="14.9" rx="6.5" fill="#aecdf7" stroke="#000" stroke-width="2.4"/><rect x="1742.0" y="927.0" width="49" height="14.9" rx="6.5" fill="#f7a8b1" stroke="#000" stroke-width="2.4"/><rect x="1730.3" y="916.5" width="49" height="14.9" rx="6.5" fill="#aecdf7" stroke="#000" stroke-width="2.4"/><rect x="1742.0" y="947.4" width="49" height="14.9" rx="6.5" fill="#f7a8b1" stroke="#000" stroke-width="2.4"/><rect x="1730.3" y="936.9" width="49" height="14.9" rx="6.5" fill="#aecdf7" stroke="#000" stroke-width="2.4"/><rect x="1742.0" y="967.9" width="49" height="14.9" rx="6.5" fill="#f7a8b1" stroke="#000" stroke-width="2.4"/><rect x="1730.3" y="957.4" width="49" height="14.9" rx="6.5" fill="#aecdf7" stroke="#000" stroke-width="2.4"/><rect x="1742.0" y="988.3" width="49" height="14.9" rx="6.5" fill="#f7a8b1" stroke="#000" stroke-width="2.4"/><rect x="1730.3" y="977.8" width="49" height="14.9" rx="6.5" fill="#aecdf7" stroke="#000" stroke-width="2.4"/><rect x="1742.0" y="1008.8" width="49" height="14.9" rx="6.5" fill="#f7a8b1" stroke="#000" stroke-width="2.4"/><rect x="1730.3" y="998.2" width="49" height="14.9" rx="6.5" fill="#aecdf7" stroke="#000" stroke-width="2.4"/><rect x="1742.0" y="1029.2" width="49" height="14.9" rx="6.5" fill="#f7a8b1" stroke="#000" stroke-width="2.4"/><rect x="1730.3" y="1018.7" width="49" height="14.9" rx="6.5" fill="#aecdf7" stroke="#000" stroke-width="2.4"/><rect x="1742.0" y="1049.7" width="49" height="14.9" rx="6.5" fill="#f7a8b1" stroke="#000" stroke-width="2.4"/><rect x="1730.3" y="1039.2" width="49" height="14.9" rx="6.5" fill="#aecdf7" stroke="#000" stroke-width="2.4"/><rect x="1799.9" y="895.2" width="26.2" height="21.5" fill="#fff" stroke="#000" stroke-width="2.4"/><text x="1813.0" y="910.8" text-anchor="middle" style="font-family:'Liberation Sans',sans-serif;font-size:13.5px">0</text><rect x="1799.9" y="916.7" width="26.2" height="21.5" fill="#fff" stroke="#000" stroke-width="2.4"/><text x="1813.0" y="932.3" text-anchor="middle" style="font-family:'Liberation Sans',sans-serif;font-size:13.5px">1</text><rect x="1799.9" y="938.2" width="26.2" height="21.5" fill="#fff" stroke="#000" stroke-width="2.4"/><text x="1813.0" y="953.8" text-anchor="middle" style="font-family:'Liberation Sans',sans-serif;font-size:13.5px">2</text><rect x="1799.9" y="959.7" width="26.2" height="21.5" fill="#fff" stroke="#000" stroke-width="2.4"/><text x="1813.0" y="975.3" text-anchor="middle" style="font-family:'Liberation Sans',sans-serif;font-size:13.5px">3</text><rect x="1799.9" y="981.2" width="26.2" height="21.5" fill="#fff" stroke="#000" stroke-width="2.4"/><text x="1813.0" y="996.8" text-anchor="middle" style="font-family:'Liberation Sans',sans-serif;font-size:13.5px">4</text><rect x="1799.9" y="1002.7" width="26.2" height="21.5" fill="#fff" stroke="#000" stroke-width="2.4"/><text x="1813.0" y="1018.3" text-anchor="middle" style="font-family:'Liberation Sans',sans-serif;font-size:13.5px">5</text><rect x="1799.9" y="1024.2" width="26.2" height="21.5" fill="#fff" stroke="#000" stroke-width="2.4"/><text x="1813.0" y="1039.8" text-anchor="middle" style="font-family:'Liberation Sans',sans-serif;font-size:13.5px">6</text><rect x="1799.9" y="1045.7" width="26.2" height="21.5" fill="#fff" stroke="#000" stroke-width="2.4"/><text x="1813.0" y="1061.3" text-anchor="middle" style="font-family:'Liberation Sans',sans-serif;font-size:13.5px">7</text><rect x="1861.2" y="1082.0" width="54.7" height="226.6" rx="9" fill="#e6dca0" stroke="#000" stroke-width="2.6"/><text transform="translate(1881.0 1195.3) rotate(90)" text-anchor="middle" style="font-family:'Liberation Sans',sans-serif;font-size:21.5px;font-weight:bold;fill:#111;stroke:#e6dca0;stroke-width:0.17px">Full Attention</text><rect x="1874.8" y="906.5" width="49" height="14.9" rx="6.5" fill="#f7a8b1" stroke="#000" stroke-width="2.4"/><rect x="1863.1" y="896.0" width="49" height="14.9" rx="6.5" fill="#aecdf7" stroke="#000" stroke-width="2.4"/><rect x="1874.8" y="927.0" width="49" height="14.9" rx="6.5" fill="#f7a8b1" stroke="#000" stroke-width="2.4"/><rect x="1863.1" y="916.5" width="49" height="14.9" rx="6.5" fill="#aecdf7" stroke="#000" stroke-width="2.4"/><rect x="1874.8" y="947.4" width="49" height="14.9" rx="6.5" fill="#f7a8b1" stroke="#000" stroke-width="2.4"/><rect x="1863.1" y="936.9" width="49" height="14.9" rx="6.5" fill="#aecdf7" stroke="#000" stroke-width="2.4"/><rect x="1874.8" y="967.9" width="49" height="14.9" rx="6.5" fill="#f7a8b1" stroke="#000" stroke-width="2.4"/><rect x="1863.1" y="957.4" width="49" height="14.9" rx="6.5" fill="#aecdf7" stroke="#000" stroke-width="2.4"/><rect x="1874.8" y="988.3" width="49" height="14.9" rx="6.5" fill="#f7a8b1" stroke="#000" stroke-width="2.4"/><rect x="1863.1" y="977.8" width="49" height="14.9" rx="6.5" fill="#aecdf7" stroke="#000" stroke-width="2.4"/><rect x="1874.8" y="1008.8" width="49" height="14.9" rx="6.5" fill="#f7a8b1" stroke="#000" stroke-width="2.4"/><rect x="1863.1" y="998.2" width="49" height="14.9" rx="6.5" fill="#aecdf7" stroke="#000" stroke-width="2.4"/><rect x="1874.8" y="1029.2" width="49" height="14.9" rx="6.5" fill="#f7a8b1" stroke="#000" stroke-width="2.4"/><rect x="1863.1" y="1018.7" width="49" height="14.9" rx="6.5" fill="#aecdf7" stroke="#000" stroke-width="2.4"/><rect x="1874.8" y="1049.7" width="49" height="14.9" rx="6.5" fill="#f7a8b1" stroke="#000" stroke-width="2.4"/><rect x="1863.1" y="1039.2" width="49" height="14.9" rx="6.5" fill="#aecdf7" stroke="#000" stroke-width="2.4"/><rect x="1932.7" y="895.2" width="26.2" height="21.5" fill="#fff" stroke="#000" stroke-width="2.4"/><text x="1945.8" y="910.8" text-anchor="middle" style="font-family:'Liberation Sans',sans-serif;font-size:13.5px">0</text><rect x="1932.7" y="916.7" width="26.2" height="21.5" fill="#fff" stroke="#000" stroke-width="2.4"/><text x="1945.8" y="932.3" text-anchor="middle" style="font-family:'Liberation Sans',sans-serif;font-size:13.5px">1</text><rect x="1932.7" y="938.2" width="26.2" height="21.5" fill="#fff" stroke="#000" stroke-width="2.4"/><text x="1945.8" y="953.8" text-anchor="middle" style="font-family:'Liberation Sans',sans-serif;font-size:13.5px">2</text><rect x="1932.7" y="959.7" width="26.2" height="21.5" fill="#fff" stroke="#000" stroke-width="2.4"/><text x="1945.8" y="975.3" text-anchor="middle" style="font-family:'Liberation Sans',sans-serif;font-size:13.5px">3</text><rect x="1932.7" y="981.2" width="26.2" height="21.5" fill="#fff" stroke="#000" stroke-width="2.4"/><text x="1945.8" y="996.8" text-anchor="middle" style="font-family:'Liberation Sans',sans-serif;font-size:13.5px">4</text><rect x="1932.7" y="1002.7" width="26.2" height="21.5" fill="#fff" stroke="#000" stroke-width="2.4"/><text x="1945.8" y="1018.3" text-anchor="middle" style="font-family:'Liberation Sans',sans-serif;font-size:13.5px">5</text><rect x="1932.7" y="1024.2" width="26.2" height="21.5" fill="#fff" stroke="#000" stroke-width="2.4"/><text x="1945.8" y="1039.8" text-anchor="middle" style="font-family:'Liberation Sans',sans-serif;font-size:13.5px">6</text><rect x="1932.7" y="1045.7" width="26.2" height="21.5" fill="#fff" stroke="#000" stroke-width="2.4"/><text x="1945.8" y="1061.3" text-anchor="middle" style="font-family:'Liberation Sans',sans-serif;font-size:13.5px">7</text><rect x="1991.4" y="1082.0" width="54.7" height="226.6" rx="9" fill="#b4e0b0" stroke="#000" stroke-width="2.6"/><text transform="translate(2011.2 1195.3) rotate(90)" text-anchor="middle" style="font-family:'Liberation Sans',sans-serif;font-size:21.5px;font-weight:bold;fill:#111;stroke:#b4e0b0;stroke-width:0.17px">Token Selection</text><rect x="2005.8" y="906.5" width="49" height="14.9" rx="6.5" fill="#f7a8b1" stroke="#000" stroke-width="2.4"/><rect x="1994.1" y="896.0" width="49" height="14.9" rx="6.5" fill="#aecdf7" stroke="#000" stroke-width="2.4"/><rect x="2005.8" y="927.0" width="49" height="14.9" rx="6.5" fill="#f7a8b1" stroke="#000" stroke-width="2.4"/><rect x="1994.1" y="916.5" width="49" height="14.9" rx="6.5" fill="#aecdf7" stroke="#000" stroke-width="2.4"/><rect x="2005.8" y="947.4" width="49" height="14.9" rx="6.5" fill="#f7a8b1" stroke="#000" stroke-width="2.4"/><rect x="1994.1" y="936.9" width="49" height="14.9" rx="6.5" fill="#aecdf7" stroke="#000" stroke-width="2.4"/><rect x="2005.8" y="967.9" width="49" height="14.9" rx="6.5" fill="#f7a8b1" stroke="#000" stroke-width="2.4"/><rect x="1994.1" y="957.4" width="49" height="14.9" rx="6.5" fill="#aecdf7" stroke="#000" stroke-width="2.4"/><rect x="2005.8" y="988.3" width="49" height="14.9" rx="6.5" fill="#f7a8b1" stroke="#000" stroke-width="2.4"/><rect x="1994.1" y="977.8" width="49" height="14.9" rx="6.5" fill="#aecdf7" stroke="#000" stroke-width="2.4"/><rect x="2005.8" y="1008.8" width="49" height="14.9" rx="6.5" fill="#f7a8b1" stroke="#000" stroke-width="2.4"/><rect x="1994.1" y="998.2" width="49" height="14.9" rx="6.5" fill="#aecdf7" stroke="#000" stroke-width="2.4"/><rect x="2005.8" y="1029.2" width="49" height="14.9" rx="6.5" fill="#f7a8b1" stroke="#000" stroke-width="2.4"/><rect x="1994.1" y="1018.7" width="49" height="14.9" rx="6.5" fill="#aecdf7" stroke="#000" stroke-width="2.4"/><rect x="2005.8" y="1049.7" width="49" height="14.9" rx="6.5" fill="#f7a8b1" stroke="#000" stroke-width="2.4"/><rect x="1994.1" y="1039.2" width="49" height="14.9" rx="6.5" fill="#aecdf7" stroke="#000" stroke-width="2.4"/><rect x="2063.7" y="895.2" width="26.2" height="21.5" fill="#fff" stroke="#000" stroke-width="2.4"/><text x="2076.8" y="910.8" text-anchor="middle" style="font-family:'Liberation Sans',sans-serif;font-size:13.5px">0</text><rect x="2063.7" y="916.7" width="26.2" height="21.5" fill="#fff" stroke="#000" stroke-width="2.4"/><text x="2076.8" y="932.3" text-anchor="middle" style="font-family:'Liberation Sans',sans-serif;font-size:13.5px">1</text><rect x="2063.7" y="938.2" width="26.2" height="21.5" fill="#fff" stroke="#000" stroke-width="2.4"/><text x="2076.8" y="953.8" text-anchor="middle" style="font-family:'Liberation Sans',sans-serif;font-size:13.5px">2</text><rect x="2063.7" y="959.7" width="26.2" height="21.5" fill="#fff" stroke="#000" stroke-width="2.4"/><text x="2076.8" y="975.3" text-anchor="middle" style="font-family:'Liberation Sans',sans-serif;font-size:13.5px">3</text><rect x="2063.7" y="981.2" width="26.2" height="21.5" fill="#fff" stroke="#000" stroke-width="2.4"/><text x="2076.8" y="996.8" text-anchor="middle" style="font-family:'Liberation Sans',sans-serif;font-size:13.5px">4</text><rect x="2063.7" y="1002.7" width="26.2" height="21.5" fill="#fff" stroke="#000" stroke-width="2.4"/><text x="2076.8" y="1018.3" text-anchor="middle" style="font-family:'Liberation Sans',sans-serif;font-size:13.5px">5</text><rect x="2063.7" y="1024.2" width="26.2" height="21.5" fill="#fff" stroke="#000" stroke-width="2.4"/><text x="2076.8" y="1039.8" text-anchor="middle" style="font-family:'Liberation Sans',sans-serif;font-size:13.5px">6</text><rect x="2063.7" y="1045.7" width="26.2" height="21.5" fill="#fff" stroke="#000" stroke-width="2.4"/><text x="2076.8" y="1061.3" text-anchor="middle" style="font-family:'Liberation Sans',sans-serif;font-size:13.5px">7</text><rect x="2230.5" y="1078.8" width="54.7" height="226.6" rx="9" fill="#a5e0d8" stroke="#000" stroke-width="2.6"/><text transform="translate(2250.3 1192.1) rotate(90)" text-anchor="middle" style="font-family:'Liberation Sans',sans-serif;font-size:21.5px;font-weight:bold;fill:#111;stroke:#a5e0d8;stroke-width:0.17px">Sparse Attention</text><rect x="2245.0" y="1002.6" width="49" height="14.9" rx="6.5" fill="#f7a8b1" stroke="#000" stroke-width="2.4"/><rect x="2233.3" y="992.1" width="49" height="14.9" rx="6.5" fill="#aecdf7" stroke="#000" stroke-width="2.4"/><rect x="2245.0" y="1023.1" width="49" height="14.9" rx="6.5" fill="#f7a8b1" stroke="#000" stroke-width="2.4"/><rect x="2233.3" y="1012.6" width="49" height="14.9" rx="6.5" fill="#aecdf7" stroke="#000" stroke-width="2.4"/><rect x="2245.0" y="1043.5" width="49" height="14.9" rx="6.5" fill="#f7a8b1" stroke="#000" stroke-width="2.4"/><rect x="2233.3" y="1033.0" width="49" height="14.9" rx="6.5" fill="#aecdf7" stroke="#000" stroke-width="2.4"/><rect x="2298.9" y="992.9" width="26.2" height="21.5" fill="#fff" stroke="#000" stroke-width="2.4"/><text x="2312.0" y="1008.5" text-anchor="middle" style="font-family:'Liberation Sans',sans-serif;font-size:13.5px">0</text><rect x="2298.9" y="1014.4" width="26.2" height="21.5" fill="#fff" stroke="#000" stroke-width="2.4"/><text x="2312.0" y="1030.0" text-anchor="middle" style="font-family:'Liberation Sans',sans-serif;font-size:13.5px">2</text><rect x="2298.9" y="1035.9" width="26.2" height="21.5" fill="#fff" stroke="#000" stroke-width="2.4"/><text x="2312.0" y="1051.5" text-anchor="middle" style="font-family:'Liberation Sans',sans-serif;font-size:13.5px">3</text><rect x="2444.9" y="1078.8" width="54.7" height="226.6" rx="9" fill="#a5e0d8" stroke="#000" stroke-width="2.6"/><text transform="translate(2464.8 1192.1) rotate(90)" text-anchor="middle" style="font-family:'Liberation Sans',sans-serif;font-size:21.5px;font-weight:bold;fill:#111;stroke:#a5e0d8;stroke-width:0.17px">Sparse Attention</text><rect x="2454.2" y="1002.6" width="49" height="14.9" rx="6.5" fill="#f7a8b1" stroke="#000" stroke-width="2.4"/><rect x="2442.5" y="992.1" width="49" height="14.9" rx="6.5" fill="#aecdf7" stroke="#000" stroke-width="2.4"/><rect x="2454.2" y="1023.1" width="49" height="14.9" rx="6.5" fill="#f7a8b1" stroke="#000" stroke-width="2.4"/><rect x="2442.5" y="1012.6" width="49" height="14.9" rx="6.5" fill="#aecdf7" stroke="#000" stroke-width="2.4"/><rect x="2454.2" y="1043.5" width="49" height="14.9" rx="6.5" fill="#f7a8b1" stroke="#000" stroke-width="2.4"/><rect x="2442.5" y="1033.0" width="49" height="14.9" rx="6.5" fill="#aecdf7" stroke="#000" stroke-width="2.4"/><rect x="2509.0" y="992.9" width="26.2" height="21.5" fill="#fff" stroke="#000" stroke-width="2.4"/><text x="2522.1" y="1008.5" text-anchor="middle" style="font-family:'Liberation Sans',sans-serif;font-size:13.5px">0</text><rect x="2509.0" y="1014.4" width="26.2" height="21.5" fill="#fff" stroke="#000" stroke-width="2.4"/><text x="2522.1" y="1030.0" text-anchor="middle" style="font-family:'Liberation Sans',sans-serif;font-size:13.5px">2</text><rect x="2509.0" y="1035.9" width="26.2" height="21.5" fill="#fff" stroke="#000" stroke-width="2.4"/><text x="2522.1" y="1051.5" text-anchor="middle" style="font-family:'Liberation Sans',sans-serif;font-size:13.5px">3</text><rect x="2568.4" y="1080.8" width="54.7" height="226.6" rx="9" fill="#b4e0b0" stroke="#000" stroke-width="2.6"/><text transform="translate(2588.2 1194.1) rotate(90)" text-anchor="middle" style="font-family:'Liberation Sans',sans-serif;font-size:21.5px;font-weight:bold;fill:#111;stroke:#b4e0b0;stroke-width:0.17px">Token Re-selection</text><rect x="2583.2" y="906.5" width="49" height="14.9" rx="6.5" fill="#f7a8b1" stroke="#000" stroke-width="2.4"/><rect x="2571.5" y="896.0" width="49" height="14.9" rx="6.5" fill="#aecdf7" stroke="#000" stroke-width="2.4"/><rect x="2583.2" y="927.0" width="49" height="14.9" rx="6.5" fill="#f7a8b1" stroke="#000" stroke-width="2.4"/><rect x="2571.5" y="916.5" width="49" height="14.9" rx="6.5" fill="#aecdf7" stroke="#000" stroke-width="2.4"/><rect x="2583.2" y="947.4" width="49" height="14.9" rx="6.5" fill="#f7a8b1" stroke="#000" stroke-width="2.4"/><rect x="2571.5" y="936.9" width="49" height="14.9" rx="6.5" fill="#aecdf7" stroke="#000" stroke-width="2.4"/><rect x="2583.2" y="967.9" width="49" height="14.9" rx="6.5" fill="#f7a8b1" stroke="#000" stroke-width="2.4"/><rect x="2571.5" y="957.4" width="49" height="14.9" rx="6.5" fill="#aecdf7" stroke="#000" stroke-width="2.4"/><rect x="2583.2" y="988.3" width="49" height="14.9" rx="6.5" fill="#f7a8b1" stroke="#000" stroke-width="2.4"/><rect x="2571.5" y="977.8" width="49" height="14.9" rx="6.5" fill="#aecdf7" stroke="#000" stroke-width="2.4"/><rect x="2583.2" y="1008.8" width="49" height="14.9" rx="6.5" fill="#f7a8b1" stroke="#000" stroke-width="2.4"/><rect x="2571.5" y="998.2" width="49" height="14.9" rx="6.5" fill="#aecdf7" stroke="#000" stroke-width="2.4"/><rect x="2583.2" y="1029.2" width="49" height="14.9" rx="6.5" fill="#f7a8b1" stroke="#000" stroke-width="2.4"/><rect x="2571.5" y="1018.7" width="49" height="14.9" rx="6.5" fill="#aecdf7" stroke="#000" stroke-width="2.4"/><rect x="2583.2" y="1049.7" width="49" height="14.9" rx="6.5" fill="#f7a8b1" stroke="#000" stroke-width="2.4"/><rect x="2571.5" y="1039.2" width="49" height="14.9" rx="6.5" fill="#aecdf7" stroke="#000" stroke-width="2.4"/><rect x="2639.9" y="895.2" width="26.2" height="21.5" fill="#fff" stroke="#000" stroke-width="2.4"/><text x="2653.0" y="910.8" text-anchor="middle" style="font-family:'Liberation Sans',sans-serif;font-size:13.5px">0</text><rect x="2639.9" y="916.7" width="26.2" height="21.5" fill="#fff" stroke="#000" stroke-width="2.4"/><text x="2653.0" y="932.3" text-anchor="middle" style="font-family:'Liberation Sans',sans-serif;font-size:13.5px">1</text><rect x="2639.9" y="938.2" width="26.2" height="21.5" fill="#fff" stroke="#000" stroke-width="2.4"/><text x="2653.0" y="953.8" text-anchor="middle" style="font-family:'Liberation Sans',sans-serif;font-size:13.5px">2</text><rect x="2639.9" y="959.7" width="26.2" height="21.5" fill="#fff" stroke="#000" stroke-width="2.4"/><text x="2653.0" y="975.3" text-anchor="middle" style="font-family:'Liberation Sans',sans-serif;font-size:13.5px">3</text><rect x="2639.9" y="981.2" width="26.2" height="21.5" fill="#fff" stroke="#000" stroke-width="2.4"/><text x="2653.0" y="996.8" text-anchor="middle" style="font-family:'Liberation Sans',sans-serif;font-size:13.5px">4</text><rect x="2639.9" y="1002.7" width="26.2" height="21.5" fill="#fff" stroke="#000" stroke-width="2.4"/><text x="2653.0" y="1018.3" text-anchor="middle" style="font-family:'Liberation Sans',sans-serif;font-size:13.5px">5</text><rect x="2639.9" y="1024.2" width="26.2" height="21.5" fill="#fff" stroke="#000" stroke-width="2.4"/><text x="2653.0" y="1039.8" text-anchor="middle" style="font-family:'Liberation Sans',sans-serif;font-size:13.5px">6</text><rect x="2639.9" y="1045.7" width="26.2" height="21.5" fill="#fff" stroke="#000" stroke-width="2.4"/><text x="2653.0" y="1061.3" text-anchor="middle" style="font-family:'Liberation Sans',sans-serif;font-size:13.5px">7</text><rect x="2806.7" y="1080.8" width="54.7" height="226.6" rx="9" fill="#a5e0d8" stroke="#000" stroke-width="2.6"/><text transform="translate(2826.5 1194.1) rotate(90)" text-anchor="middle" style="font-family:'Liberation Sans',sans-serif;font-size:21.5px;font-weight:bold;fill:#111;stroke:#a5e0d8;stroke-width:0.17px">Sparse Attention</text><rect x="2820.4" y="1002.6" width="49" height="14.9" rx="6.5" fill="#f7a8b1" stroke="#000" stroke-width="2.4"/><rect x="2808.7" y="992.1" width="49" height="14.9" rx="6.5" fill="#aecdf7" stroke="#000" stroke-width="2.4"/><rect x="2820.4" y="1023.1" width="49" height="14.9" rx="6.5" fill="#f7a8b1" stroke="#000" stroke-width="2.4"/><rect x="2808.7" y="1012.6" width="49" height="14.9" rx="6.5" fill="#aecdf7" stroke="#000" stroke-width="2.4"/><rect x="2820.4" y="1043.5" width="49" height="14.9" rx="6.5" fill="#f7a8b1" stroke="#000" stroke-width="2.4"/><rect x="2808.7" y="1033.0" width="49" height="14.9" rx="6.5" fill="#aecdf7" stroke="#000" stroke-width="2.4"/><rect x="2874.3" y="992.9" width="26.2" height="21.5" fill="#fff" stroke="#000" stroke-width="2.4"/><text x="2887.4" y="1008.5" text-anchor="middle" style="font-family:'Liberation Sans',sans-serif;font-size:13.5px">1</text><rect x="2874.3" y="1014.4" width="26.2" height="21.5" fill="#fff" stroke="#000" stroke-width="2.4"/><text x="2887.4" y="1030.0" text-anchor="middle" style="font-family:'Liberation Sans',sans-serif;font-size:13.5px">4</text><rect x="2874.3" y="1035.9" width="26.2" height="21.5" fill="#fff" stroke="#000" stroke-width="2.4"/><text x="2887.4" y="1051.5" text-anchor="middle" style="font-family:'Liberation Sans',sans-serif;font-size:13.5px">6</text><rect x="3020.9" y="1078.8" width="54.7" height="226.6" rx="9" fill="#a5e0d8" stroke="#000" stroke-width="2.6"/><text transform="translate(3040.8 1192.1) rotate(90)" text-anchor="middle" style="font-family:'Liberation Sans',sans-serif;font-size:21.5px;font-weight:bold;fill:#111;stroke:#a5e0d8;stroke-width:0.17px">Sparse Attention</text><rect x="3029.4" y="1002.6" width="49" height="14.9" rx="6.5" fill="#f7a8b1" stroke="#000" stroke-width="2.4"/><rect x="3017.7" y="992.1" width="49" height="14.9" rx="6.5" fill="#aecdf7" stroke="#000" stroke-width="2.4"/><rect x="3029.4" y="1023.1" width="49" height="14.9" rx="6.5" fill="#f7a8b1" stroke="#000" stroke-width="2.4"/><rect x="3017.7" y="1012.6" width="49" height="14.9" rx="6.5" fill="#aecdf7" stroke="#000" stroke-width="2.4"/><rect x="3029.4" y="1043.5" width="49" height="14.9" rx="6.5" fill="#f7a8b1" stroke="#000" stroke-width="2.4"/><rect x="3017.7" y="1033.0" width="49" height="14.9" rx="6.5" fill="#aecdf7" stroke="#000" stroke-width="2.4"/><rect x="3087.3" y="992.9" width="26.2" height="21.5" fill="#fff" stroke="#000" stroke-width="2.4"/><text x="3100.4" y="1008.5" text-anchor="middle" style="font-family:'Liberation Sans',sans-serif;font-size:13.5px">1</text><rect x="3087.3" y="1014.4" width="26.2" height="21.5" fill="#fff" stroke="#000" stroke-width="2.4"/><text x="3100.4" y="1030.0" text-anchor="middle" style="font-family:'Liberation Sans',sans-serif;font-size:13.5px">4</text><rect x="3087.3" y="1035.9" width="26.2" height="21.5" fill="#fff" stroke="#000" stroke-width="2.4"/><text x="3100.4" y="1051.5" text-anchor="middle" style="font-family:'Liberation Sans',sans-serif;font-size:13.5px">6</text><rect x="2102.8" y="1142.1" width="54.3" height="20.66" fill="#aecdf7" stroke="#000" stroke-width="2.2"/><rect x="2157.1" y="1142.1" width="25.8" height="20.66" fill="#fff" stroke="#000" stroke-width="2.2"/><text x="2129.9" y="1157.3" text-anchor="middle" style="font-family:'Liberation Sans',sans-serif;font-size:13px">12.2</text><text x="2170.0" y="1157.3" text-anchor="middle" style="font-family:'Liberation Sans',sans-serif;font-size:13px">0</text><rect x="2102.8" y="1162.8" width="54.3" height="20.66" fill="#fff" stroke="#000" stroke-width="2.2"/><rect x="2157.1" y="1162.8" width="25.8" height="20.66" fill="#fff" stroke="#000" stroke-width="2.2"/><text x="2129.9" y="1178.0" text-anchor="middle" style="font-family:'Liberation Sans',sans-serif;font-size:13px">-5.1</text><text x="2170.0" y="1178.0" text-anchor="middle" style="font-family:'Liberation Sans',sans-serif;font-size:13px">1</text><rect x="2102.8" y="1183.4" width="54.3" height="20.66" fill="#aecdf7" stroke="#000" stroke-width="2.2"/><rect x="2157.1" y="1183.4" width="25.8" height="20.66" fill="#fff" stroke="#000" stroke-width="2.2"/><text x="2129.9" y="1198.6" text-anchor="middle" style="font-family:'Liberation Sans',sans-serif;font-size:13px">6.8</text><text x="2170.0" y="1198.6" text-anchor="middle" style="font-family:'Liberation Sans',sans-serif;font-size:13px">2</text><rect x="2102.8" y="1204.1" width="54.3" height="20.66" fill="#aecdf7" stroke="#000" stroke-width="2.2"/><rect x="2157.1" y="1204.1" width="25.8" height="20.66" fill="#fff" stroke="#000" stroke-width="2.2"/><text x="2129.9" y="1219.3" text-anchor="middle" style="font-family:'Liberation Sans',sans-serif;font-size:13px">12.7</text><text x="2170.0" y="1219.3" text-anchor="middle" style="font-family:'Liberation Sans',sans-serif;font-size:13px">3</text><rect x="2102.8" y="1224.7" width="54.3" height="20.66" fill="#fff" stroke="#000" stroke-width="2.2"/><rect x="2157.1" y="1224.7" width="25.8" height="20.66" fill="#fff" stroke="#000" stroke-width="2.2"/><text x="2129.9" y="1239.9" text-anchor="middle" style="font-family:'Liberation Sans',sans-serif;font-size:13px">1.1</text><text x="2170.0" y="1239.9" text-anchor="middle" style="font-family:'Liberation Sans',sans-serif;font-size:13px">4</text><rect x="2102.8" y="1245.4" width="54.3" height="20.66" fill="#fff" stroke="#000" stroke-width="2.2"/><rect x="2157.1" y="1245.4" width="25.8" height="20.66" fill="#fff" stroke="#000" stroke-width="2.2"/><text x="2129.9" y="1260.6" text-anchor="middle" style="font-family:'Liberation Sans',sans-serif;font-size:13px">3.0</text><text x="2170.0" y="1260.6" text-anchor="middle" style="font-family:'Liberation Sans',sans-serif;font-size:13px">5</text><rect x="2102.8" y="1266.1" width="54.3" height="20.66" fill="#fff" stroke="#000" stroke-width="2.2"/><rect x="2157.1" y="1266.1" width="25.8" height="20.66" fill="#fff" stroke="#000" stroke-width="2.2"/><text x="2129.9" y="1281.3" text-anchor="middle" style="font-family:'Liberation Sans',sans-serif;font-size:13px">5.3</text><text x="2170.0" y="1281.3" text-anchor="middle" style="font-family:'Liberation Sans',sans-serif;font-size:13px">6</text><rect x="2102.8" y="1286.7" width="54.3" height="20.66" fill="#fff" stroke="#000" stroke-width="2.2"/><rect x="2157.1" y="1286.7" width="25.8" height="20.66" fill="#fff" stroke="#000" stroke-width="2.2"/><text x="2129.9" y="1301.9" text-anchor="middle" style="font-family:'Liberation Sans',sans-serif;font-size:13px">-9.2</text><text x="2170.0" y="1301.9" text-anchor="middle" style="font-family:'Liberation Sans',sans-serif;font-size:13px">7</text><rect x="2680.1" y="1140.6" width="54.3" height="20.66" fill="#fff" stroke="#000" stroke-width="2.2"/><rect x="2734.4" y="1140.6" width="25.8" height="20.66" fill="#fff" stroke="#000" stroke-width="2.2"/><text x="2707.2" y="1155.8" text-anchor="middle" style="font-family:'Liberation Sans',sans-serif;font-size:13px">-1.7</text><text x="2747.3" y="1155.8" text-anchor="middle" style="font-family:'Liberation Sans',sans-serif;font-size:13px">0</text><rect x="2680.1" y="1161.3" width="54.3" height="20.66" fill="#aecdf7" stroke="#000" stroke-width="2.2"/><rect x="2734.4" y="1161.3" width="25.8" height="20.66" fill="#fff" stroke="#000" stroke-width="2.2"/><text x="2707.2" y="1176.5" text-anchor="middle" style="font-family:'Liberation Sans',sans-serif;font-size:13px">9.6</text><text x="2747.3" y="1176.5" text-anchor="middle" style="font-family:'Liberation Sans',sans-serif;font-size:13px">1</text><rect x="2680.1" y="1181.9" width="54.3" height="20.66" fill="#fff" stroke="#000" stroke-width="2.2"/><rect x="2734.4" y="1181.9" width="25.8" height="20.66" fill="#fff" stroke="#000" stroke-width="2.2"/><text x="2707.2" y="1197.1" text-anchor="middle" style="font-family:'Liberation Sans',sans-serif;font-size:13px">-2.7</text><text x="2747.3" y="1197.1" text-anchor="middle" style="font-family:'Liberation Sans',sans-serif;font-size:13px">2</text><rect x="2680.1" y="1202.6" width="54.3" height="20.66" fill="#fff" stroke="#000" stroke-width="2.2"/><rect x="2734.4" y="1202.6" width="25.8" height="20.66" fill="#fff" stroke="#000" stroke-width="2.2"/><text x="2707.2" y="1217.8" text-anchor="middle" style="font-family:'Liberation Sans',sans-serif;font-size:13px">0.9</text><text x="2747.3" y="1217.8" text-anchor="middle" style="font-family:'Liberation Sans',sans-serif;font-size:13px">3</text><rect x="2680.1" y="1223.2" width="54.3" height="20.66" fill="#aecdf7" stroke="#000" stroke-width="2.2"/><rect x="2734.4" y="1223.2" width="25.8" height="20.66" fill="#fff" stroke="#000" stroke-width="2.2"/><text x="2707.2" y="1238.4" text-anchor="middle" style="font-family:'Liberation Sans',sans-serif;font-size:13px">2.4</text><text x="2747.3" y="1238.4" text-anchor="middle" style="font-family:'Liberation Sans',sans-serif;font-size:13px">4</text><rect x="2680.1" y="1243.9" width="54.3" height="20.66" fill="#fff" stroke="#000" stroke-width="2.2"/><rect x="2734.4" y="1243.9" width="25.8" height="20.66" fill="#fff" stroke="#000" stroke-width="2.2"/><text x="2707.2" y="1259.1" text-anchor="middle" style="font-family:'Liberation Sans',sans-serif;font-size:13px">-2.0</text><text x="2747.3" y="1259.1" text-anchor="middle" style="font-family:'Liberation Sans',sans-serif;font-size:13px">5</text><rect x="2680.1" y="1264.6" width="54.3" height="20.66" fill="#aecdf7" stroke="#000" stroke-width="2.2"/><rect x="2734.4" y="1264.6" width="25.8" height="20.66" fill="#fff" stroke="#000" stroke-width="2.2"/><text x="2707.2" y="1279.8" text-anchor="middle" style="font-family:'Liberation Sans',sans-serif;font-size:13px">15.3</text><text x="2747.3" y="1279.8" text-anchor="middle" style="font-family:'Liberation Sans',sans-serif;font-size:13px">6</text><rect x="2680.1" y="1285.2" width="54.3" height="20.66" fill="#fff" stroke="#000" stroke-width="2.2"/><rect x="2734.4" y="1285.2" width="25.8" height="20.66" fill="#fff" stroke="#000" stroke-width="2.2"/><text x="2707.2" y="1300.4" text-anchor="middle" style="font-family:'Liberation Sans',sans-serif;font-size:13px">1.6</text><text x="2747.3" y="1300.4" text-anchor="middle" style="font-family:'Liberation Sans',sans-serif;font-size:13px">7</text><path d="M2141.4 1062 V1024.3 H2214.9M2207.9 1019 L2214.9 1024.3 L2207.9 1029.6" fill="none" stroke="#000" stroke-width="2.6" stroke-linejoin="round" stroke-linecap="round"/><text x="2142.1" y="1096.4" text-anchor="middle" textLength="162.9" lengthAdjust="spacingAndGlyphs" style="font-family:'Liberation Sans',sans-serif;font-size:28px">Top-k indices</text><text x="2141.6" y="1129.6" text-anchor="middle" textLength="87.9" lengthAdjust="spacingAndGlyphs" style="font-family:'Liberation Sans',sans-serif;font-size:28px">[0, 2, 3]</text><path d="M2719.2 1062 V1024.3 H2792.3M2785.3 1019 L2792.3 1024.3 L2785.3 1029.6" fill="none" stroke="#000" stroke-width="2.6" stroke-linejoin="round" stroke-linecap="round"/><text x="2718.6" y="1096.4" text-anchor="middle" textLength="163.0" lengthAdjust="spacingAndGlyphs" style="font-family:'Liberation Sans',sans-serif;font-size:28px">Top-k indices</text><text x="2719.0" y="1129.6" text-anchor="middle" textLength="88.0" lengthAdjust="spacingAndGlyphs" style="font-family:'Liberation Sans',sans-serif;font-size:28px">[1, 4, 6]</text><path d="M1805.4 1198.4H1830.0M1823.5 1193.4L1830.0 1198.4L1823.5 1203.4" fill="none" stroke="#000" stroke-width="2.4" stroke-linecap="round" stroke-linejoin="round"/><path d="M1938.2 1198.4H1962.9M1956.4 1193.4L1962.9 1198.4L1956.4 1203.4" fill="none" stroke="#000" stroke-width="2.4" stroke-linecap="round" stroke-linejoin="round"/><path d="M2064.5 1198.4H2089.1M2082.6 1193.4L2089.1 1198.4L2082.6 1203.4" fill="none" stroke="#000" stroke-width="2.4" stroke-linecap="round" stroke-linejoin="round"/><path d="M2306.7 1196.0H2332.2M2325.7 1191.0L2332.2 1196.0L2325.7 1201.0" fill="none" stroke="#000" stroke-width="2.4" stroke-linecap="round" stroke-linejoin="round"/><circle cx="2350.4" cy="1196.0" r="2.6"/><circle cx="2367.3" cy="1196.0" r="2.6"/><circle cx="2384.2" cy="1196.0" r="2.6"/><path d="M2400.0 1196.0H2424.9M2418.4 1191.0L2424.9 1196.0L2418.4 1201.0" fill="none" stroke="#000" stroke-width="2.4" stroke-linecap="round" stroke-linejoin="round"/><path d="M2522.6 1196.0H2547.3M2540.8 1191.0L2547.3 1196.0L2540.8 1201.0" fill="none" stroke="#000" stroke-width="2.4" stroke-linecap="round" stroke-linejoin="round"/><path d="M2641.0 1196.0H2666.0M2659.5 1191.0L2666.0 1196.0L2659.5 1201.0" fill="none" stroke="#000" stroke-width="2.4" stroke-linecap="round" stroke-linejoin="round"/><path d="M2884.1 1195.0H2909.5M2903.0 1190.0L2909.5 1195.0L2903.0 1200.0" fill="none" stroke="#000" stroke-width="2.4" stroke-linecap="round" stroke-linejoin="round"/><circle cx="2925.8" cy="1195.0" r="2.6"/><circle cx="2942.8" cy="1195.0" r="2.6"/><circle cx="2959.7" cy="1195.0" r="2.6"/><path d="M2975.9 1195.0H3000.5M2994.0 1190.0L3000.5 1195.0L2994.0 1200.0" fill="none" stroke="#000" stroke-width="2.4" stroke-linecap="round" stroke-linejoin="round"/><path d="M2329.5 1024.9H2350.0M2343.5 1019.9L2350.0 1024.9L2343.5 1029.9" fill="none" stroke="#000" stroke-width="2.4" stroke-linecap="round" stroke-linejoin="round"/><circle cx="2356.6" cy="1024.9" r="2.6"/><circle cx="2371.5" cy="1024.9" r="2.6"/><circle cx="2386.4" cy="1024.9" r="2.6"/><path d="M2393.7 1024.9H2432.8M2426.3 1019.9L2432.8 1024.9L2426.3 1029.9" fill="none" stroke="#000" stroke-width="2.4" stroke-linecap="round" stroke-linejoin="round"/><path d="M2904.4 1024.9H2925.1M2918.6 1019.9L2925.1 1024.9L2918.6 1029.9" fill="none" stroke="#000" stroke-width="2.4" stroke-linecap="round" stroke-linejoin="round"/><circle cx="2931.6" cy="1024.9" r="2.6"/><circle cx="2946.6" cy="1024.9" r="2.6"/><circle cx="2961.6" cy="1024.9" r="2.6"/><path d="M2969.3 1024.9H3008.4M3001.9 1019.9L3008.4 1024.9L3001.9 1029.9" fill="none" stroke="#000" stroke-width="2.4" stroke-linecap="round" stroke-linejoin="round"/><text x="1752.4" y="1343.8" text-anchor="middle" textLength="87.2" lengthAdjust="spacingAndGlyphs" style="font-family:'Liberation Sans',sans-serif;font-size:25px">Layer 0</text><text x="1886.7" y="1343.8" text-anchor="middle" textLength="85.9" lengthAdjust="spacingAndGlyphs" style="font-family:'Liberation Sans',sans-serif;font-size:25px">Layer 1</text><text x="2015.6" y="1343.8" text-anchor="middle" textLength="87.6" lengthAdjust="spacingAndGlyphs" style="font-family:'Liberation Sans',sans-serif;font-size:25px">Layer 2</text><text x="2254.9" y="1343.8" text-anchor="middle" textLength="87.9" lengthAdjust="spacingAndGlyphs" style="font-family:'Liberation Sans',sans-serif;font-size:25px">Layer 3</text><text x="2469.9" y="1343.8" text-anchor="middle" textLength="103.2" lengthAdjust="spacingAndGlyphs" style="font-family:'Liberation Sans',sans-serif;font-size:25px">Layer 12</text><text x="2593.0" y="1343.8" text-anchor="middle" textLength="104.0" lengthAdjust="spacingAndGlyphs" style="font-family:'Liberation Sans',sans-serif;font-size:25px">Layer 13</text><text x="2831.4" y="1343.8" text-anchor="middle" textLength="103.9" lengthAdjust="spacingAndGlyphs" style="font-family:'Liberation Sans',sans-serif;font-size:25px">Layer 14</text><text x="3045.1" y="1343.8" text-anchor="middle" textLength="101.6" lengthAdjust="spacingAndGlyphs" style="font-family:'Liberation Sans',sans-serif;font-size:25px">Layer 31</text><text x="2142.0" y="1344.5" text-anchor="middle" textLength="77.0" lengthAdjust="spacingAndGlyphs" style="font-family:'Liberation Serif',serif;font-size:29px">⟨<tspan font-style="italic">Q</tspan>, <tspan font-style="italic">K</tspan>⟩</text><text x="2719.0" y="1344.5" text-anchor="middle" textLength="76.2" lengthAdjust="spacingAndGlyphs" style="font-family:'Liberation Serif',serif;font-size:29px">⟨<tspan font-style="italic">Q</tspan>, <tspan font-style="italic">K</tspan>⟩</text><text transform="translate(1695.5 982) rotate(90)" text-anchor="middle" style="font-family:'Liberation Sans',sans-serif;font-size:24.5px">KVCache</text></svg>
<div class="ln c" style="left:2213.0px;top:1391.9px;font-size:28px;transform:scaleX(0.99197);"><span class="r">Figure 2.</span> TidalDecode Pipeline.</div>
<div class="ln b" style="left:1686.0px;top:1473.3px;transform:scaleX(0.99993);"><b>Cache Correction.</b>&nbsp; Sparse attention can cause errors to accumulate in the KV cache, leading to</div>
<div class="ln b" style="left:1686.0px;top:1515.5px;transform:scaleX(0.99608);">performance degradation.&nbsp;The cache correction mechanism periodically corrects these errors by</div>
<div class="ln b" style="left:1686.0px;top:1557.6px;word-spacing:3.347px;">recalculating full attention representations for previously sparsely attended (”polluted”) tokens.</div>
<div class="ln b" style="left:1686.0px;top:1599.8px;word-spacing:3.257px;">This correction mitigates distribution shifts and maintains the accuracy of subsequent genera-</div>
<div class="ln b" style="left:1686.0px;top:1642.0px;transform:scaleX(0.98935);">tions.</div>
<svg style="left:0;top:0" width="3300" height="2300" viewBox="0 0 3300 2300"><rect x="1855.6" y="1712.0" width="27" height="85.4" rx="9" fill="#f8acb3" stroke="#000" stroke-width="3"/><rect x="1891.0" y="1712.0" width="27" height="85.4" rx="9" fill="#f8acb3" stroke="#000" stroke-width="3"/><rect x="1926.4" y="1712.0" width="27" height="85.4" rx="9" fill="#f8acb3" stroke="#000" stroke-width="3"/><rect x="1961.8" y="1712.0" width="27" height="85.4" rx="9" fill="#f8acb3" stroke="#000" stroke-width="3"/><rect x="1997.2" y="1712.0" width="27" height="85.4" rx="9" fill="#f8acb3" stroke="#000" stroke-width="3"/><rect x="2032.6" y="1712.0" width="27" height="85.4" rx="9" fill="#f8acb3" stroke="#000" stroke-width="3"/><rect x="2068.0" y="1712.0" width="27" height="85.4" rx="9" fill="#f8acb3" stroke="#000" stroke-width="3"/><rect x="2103.4" y="1712.0" width="27" height="85.4" rx="9" fill="#f8acb3" stroke="#000" stroke-width="3"/><rect x="1838.6" y="1731.0" width="27" height="85.4" rx="9" fill="#b3d2f9" stroke="#000" stroke-width="3"/><rect x="1874.0" y="1731.0" width="27" height="85.4" rx="9" fill="#b3d2f9" stroke="#000" stroke-width="3"/><rect x="1909.4" y="1731.0" width="27" height="85.4" rx="9" fill="#b3d2f9" stroke="#000" stroke-width="3"/><rect x="1944.8" y="1731.0" width="27" height="85.4" rx="9" fill="#b3d2f9" stroke="#000" stroke-width="3"/><rect x="1980.2" y="1731.0" width="27" height="85.4" rx="9" fill="#b3d2f9" stroke="#000" stroke-width="3"/><rect x="2015.6" y="1731.0" width="27" height="85.4" rx="9" fill="#b3d2f9" stroke="#000" stroke-width="3"/><rect x="2051.0" y="1731.0" width="27" height="85.4" rx="9" fill="#b3d2f9" stroke="#000" stroke-width="3"/><rect x="2086.4" y="1731.0" width="27" height="85.4" rx="9" fill="#b3d2f9" stroke="#000" stroke-width="3"/><path d="M2147.9 1755.3H2167.9V1740.0L2197.9 1764.8L2167.9 1789.5V1774.2H2147.9Z" fill="#a8e4da" stroke="#000" stroke-width="3" stroke-linejoin="miter"/><rect x="2232.1" y="1712.0" width="27.0" height="85.4" rx="9" fill="#c08589" stroke="#000" stroke-width="3"/><rect x="2214.1" y="1731.0" width="27.0" height="85.4" rx="9" fill="#8298ba" stroke="#000" stroke-width="3"/><path d="M2278.1 1755.3H2298.1V1740.0L2328.1 1764.8L2298.1 1789.5V1774.2H2278.1Z" fill="#a8e4da" stroke="#000" stroke-width="3" stroke-linejoin="miter"/><rect x="2362.3" y="1712.0" width="27.0" height="85.4" rx="9" fill="#c08589" stroke="#000" stroke-width="3"/><rect x="2344.3" y="1731.0" width="27.0" height="85.4" rx="9" fill="#8298ba" stroke="#000" stroke-width="3"/><path d="M2408.3 1755.3H2428.3V1740.0L2458.3 1764.8L2428.3 1789.5V1774.2H2408.3Z" fill="#a8e4da" stroke="#000" stroke-width="3" stroke-linejoin="miter"/><rect x="2492.5" y="1712.0" width="27.0" height="85.4" rx="9" fill="#c08589" stroke="#000" stroke-width="3"/><rect x="2474.5" y="1731.0" width="27.0" height="85.4" rx="9" fill="#8298ba" stroke="#000" stroke-width="3"/><path d="M2538.5 1755.3H2558.5V1740.0L2588.5 1764.8L2558.5 1789.5V1774.2H2538.5Z" fill="#a8e4da" stroke="#000" stroke-width="3" stroke-linejoin="miter"/><rect x="2622.7" y="1712.0" width="27.0" height="85.4" rx="9" fill="#c08589" stroke="#000" stroke-width="3"/><rect x="2604.7" y="1731.0" width="27.0" height="85.4" rx="9" fill="#8298ba" stroke="#000" stroke-width="3"/><path d="M2668.7 1755.3H2688.7V1740.0L2718.7 1764.8L2688.7 1789.5V1774.2H2668.7Z" fill="#a8e4da" stroke="#000" stroke-width="3" stroke-linejoin="miter"/><rect x="2752.9" y="1712.0" width="27.0" height="85.4" rx="9" fill="#c08589" stroke="#000" stroke-width="3"/><rect x="2734.9" y="1731.0" width="27.0" height="85.4" rx="9" fill="#8298ba" stroke="#000" stroke-width="3"/><path d="M2798.9 1755.3H2818.9V1740.0L2848.9 1764.8L2818.9 1789.5V1774.2H2798.9Z" fill="#a8e4da" stroke="#000" stroke-width="3" stroke-linejoin="miter"/><rect x="2883.1" y="1712.0" width="27.0" height="85.4" rx="9" fill="#c08589" stroke="#000" stroke-width="3"/><rect x="2865.1" y="1731.0" width="27.0" height="85.4" rx="9" fill="#8298ba" stroke="#000" stroke-width="3"/><path d="M2922.8 1755.3H2942.8V1740.0L2972.8 1764.8L2942.8 1789.5V1774.2H2922.8Z" fill="#a8e4da" stroke="#000" stroke-width="3" stroke-linejoin="miter"/><text x="1893" y="1869.5" textLength="171" lengthAdjust="spacingAndGlyphs" style="font-family:'Liberation Sans',sans-serif;font-size:39px">KVCache</text><text x="2411.8" y="1872" textLength="253.7" lengthAdjust="spacingAndGlyphs" style="font-family:'Liberation Sans',sans-serif;font-size:39px">Every <tspan style="font-family:'Liberation Serif',serif;font-style:italic;font-size:42px">T</tspan> steps</text><rect x="1869.9" y="1938.7" width="27" height="85.4" rx="9" fill="#f8acb3" stroke="#000" stroke-width="3"/><rect x="1905.4" y="1938.7" width="27" height="85.4" rx="9" fill="#f8acb3" stroke="#000" stroke-width="3"/><rect x="1941.0" y="1938.7" width="27" height="85.4" rx="9" fill="#f8acb3" stroke="#000" stroke-width="3"/><rect x="1976.5" y="1938.7" width="27" height="85.4" rx="9" fill="#f8acb3" stroke="#000" stroke-width="3"/><rect x="2012.1" y="1938.7" width="27" height="85.4" rx="9" fill="#f8acb3" stroke="#000" stroke-width="3"/><rect x="2047.6" y="1938.7" width="27" height="85.4" rx="9" fill="#f8acb3" stroke="#000" stroke-width="3"/><rect x="2083.2" y="1938.7" width="27" height="85.4" rx="9" fill="#f8acb3" stroke="#000" stroke-width="3"/><rect x="2118.8" y="1938.7" width="27" height="85.4" rx="9" fill="#f8acb3" stroke="#000" stroke-width="3"/><rect x="2154.3" y="1938.7" width="27" height="85.4" rx="9" fill="#c08589" stroke="#000" stroke-width="3"/><rect x="2189.8" y="1938.7" width="27" height="85.4" rx="9" fill="#c08589" stroke="#000" stroke-width="3"/><rect x="2225.4" y="1938.7" width="27" height="85.4" rx="9" fill="#c08589" stroke="#000" stroke-width="3"/><rect x="2260.9" y="1938.7" width="27" height="85.4" rx="9" fill="#c08589" stroke="#000" stroke-width="3"/><rect x="2296.5" y="1938.7" width="27" height="85.4" rx="9" fill="#c08589" stroke="#000" stroke-width="3"/><rect x="2332.0" y="1938.7" width="27" height="85.4" rx="9" fill="#c08589" stroke="#000" stroke-width="3"/><rect x="1852.3" y="1957.7" width="27" height="85.4" rx="9" fill="#b3d2f9" stroke="#000" stroke-width="3"/><rect x="1887.8" y="1957.7" width="27" height="85.4" rx="9" fill="#b3d2f9" stroke="#000" stroke-width="3"/><rect x="1923.4" y="1957.7" width="27" height="85.4" rx="9" fill="#b3d2f9" stroke="#000" stroke-width="3"/><rect x="1959.0" y="1957.7" width="27" height="85.4" rx="9" fill="#b3d2f9" stroke="#000" stroke-width="3"/><rect x="1994.5" y="1957.7" width="27" height="85.4" rx="9" fill="#b3d2f9" stroke="#000" stroke-width="3"/><rect x="2030.0" y="1957.7" width="27" height="85.4" rx="9" fill="#b3d2f9" stroke="#000" stroke-width="3"/><rect x="2065.6" y="1957.7" width="27" height="85.4" rx="9" fill="#b3d2f9" stroke="#000" stroke-width="3"/><rect x="2101.2" y="1957.7" width="27" height="85.4" rx="9" fill="#b3d2f9" stroke="#000" stroke-width="3"/><rect x="2136.7" y="1957.7" width="27" height="85.4" rx="9" fill="#8298ba" stroke="#000" stroke-width="3"/><rect x="2172.2" y="1957.7" width="27" height="85.4" rx="9" fill="#8298ba" stroke="#000" stroke-width="3"/><rect x="2207.8" y="1957.7" width="27" height="85.4" rx="9" fill="#8298ba" stroke="#000" stroke-width="3"/><rect x="2243.3" y="1957.7" width="27" height="85.4" rx="9" fill="#8298ba" stroke="#000" stroke-width="3"/><rect x="2278.9" y="1957.7" width="27" height="85.4" rx="9" fill="#8298ba" stroke="#000" stroke-width="3"/><rect x="2314.4" y="1957.7" width="27" height="85.4" rx="9" fill="#8298ba" stroke="#000" stroke-width="3"/><path d="M2380.2 1972.5H2400.2V1957.2L2430.2 1982.0L2400.2 2006.7V1991.4H2380.2Z" fill="#f0deb6" stroke="#000" stroke-width="3" stroke-linejoin="miter"/><rect x="2471.1" y="1933.6" width="27" height="85.4" rx="9" fill="#f8acb3" stroke="#000" stroke-width="3"/><rect x="2506.7" y="1933.6" width="27" height="85.4" rx="9" fill="#f8acb3" stroke="#000" stroke-width="3"/><rect x="2542.4" y="1933.6" width="27" height="85.4" rx="9" fill="#f8acb3" stroke="#000" stroke-width="3"/><rect x="2578.0" y="1933.6" width="27" height="85.4" rx="9" fill="#f8acb3" stroke="#000" stroke-width="3"/><rect x="2613.6" y="1933.6" width="27" height="85.4" rx="9" fill="#f8acb3" stroke="#000" stroke-width="3"/><rect x="2649.2" y="1933.6" width="27" height="85.4" rx="9" fill="#f8acb3" stroke="#000" stroke-width="3"/><rect x="2684.9" y="1933.6" width="27" height="85.4" rx="9" fill="#f8acb3" stroke="#000" stroke-width="3"/><rect x="2720.5" y="1933.6" width="27" height="85.4" rx="9" fill="#f8acb3" stroke="#000" stroke-width="3"/><rect x="2756.1" y="1933.6" width="27" height="85.4" rx="9" fill="#f8acb3" stroke="#000" stroke-width="3"/><rect x="2791.8" y="1933.6" width="27" height="85.4" rx="9" fill="#f8acb3" stroke="#000" stroke-width="3"/><rect x="2827.4" y="1933.6" width="27" height="85.4" rx="9" fill="#f8acb3" stroke="#000" stroke-width="3"/><rect x="2863.0" y="1933.6" width="27" height="85.4" rx="9" fill="#f8acb3" stroke="#000" stroke-width="3"/><rect x="2898.7" y="1933.6" width="27" height="85.4" rx="9" fill="#f8acb3" stroke="#000" stroke-width="3"/><rect x="2934.3" y="1933.6" width="27" height="85.4" rx="9" fill="#f8acb3" stroke="#000" stroke-width="3"/><rect x="2454.1" y="1952.6" width="27" height="85.4" rx="9" fill="#b3d2f9" stroke="#000" stroke-width="3"/><rect x="2489.7" y="1952.6" width="27" height="85.4" rx="9" fill="#b3d2f9" stroke="#000" stroke-width="3"/><rect x="2525.4" y="1952.6" width="27" height="85.4" rx="9" fill="#b3d2f9" stroke="#000" stroke-width="3"/><rect x="2561.0" y="1952.6" width="27" height="85.4" rx="9" fill="#b3d2f9" stroke="#000" stroke-width="3"/><rect x="2596.6" y="1952.6" width="27" height="85.4" rx="9" fill="#b3d2f9" stroke="#000" stroke-width="3"/><rect x="2632.2" y="1952.6" width="27" height="85.4" rx="9" fill="#b3d2f9" stroke="#000" stroke-width="3"/><rect x="2667.9" y="1952.6" width="27" height="85.4" rx="9" fill="#b3d2f9" stroke="#000" stroke-width="3"/><rect x="2703.5" y="1952.6" width="27" height="85.4" rx="9" fill="#b3d2f9" stroke="#000" stroke-width="3"/><rect x="2739.1" y="1952.6" width="27" height="85.4" rx="9" fill="#b3d2f9" stroke="#000" stroke-width="3"/><rect x="2774.8" y="1952.6" width="27" height="85.4" rx="9" fill="#b3d2f9" stroke="#000" stroke-width="3"/><rect x="2810.4" y="1952.6" width="27" height="85.4" rx="9" fill="#b3d2f9" stroke="#000" stroke-width="3"/><rect x="2846.0" y="1952.6" width="27" height="85.4" rx="9" fill="#b3d2f9" stroke="#000" stroke-width="3"/><rect x="2881.7" y="1952.6" width="27" height="85.4" rx="9" fill="#b3d2f9" stroke="#000" stroke-width="3"/><rect x="2917.3" y="1952.6" width="27" height="85.4" rx="9" fill="#b3d2f9" stroke="#000" stroke-width="3"/><line x1="2111.2" y1="2097.8" x2="2131.6" y2="2045.8" stroke="#000" stroke-width="4.2"/><line x1="2335.4" y1="2097.8" x2="2356.8" y2="2045.8" stroke="#000" stroke-width="4.2"/><line x1="2711.4" y1="2092.7" x2="2731.8" y2="2040.7" stroke="#000" stroke-width="4.2"/><line x1="2936.6" y1="2092.7" x2="2957" y2="2040.7" stroke="#000" stroke-width="4.2"/><path d="M2161 2077.4H2127.5M2138.5 2068.4L2127.5 2077.4L2138.5 2086.4" fill="none" stroke="#000" stroke-width="3.6" stroke-linecap="round" stroke-linejoin="round"/><path d="M2298.7 2077.4H2332.8M2321.8 2068.4L2332.8 2077.4L2321.8 2086.4" fill="none" stroke="#000" stroke-width="3.6" stroke-linecap="round" stroke-linejoin="round"/><path d="M2753.2 2073.3H2728.5M2739.5 2064.3L2728.5 2073.3L2739.5 2082.3" fill="none" stroke="#000" stroke-width="3.6" stroke-linecap="round" stroke-linejoin="round"/><path d="M2912.1 2073.3H2937M2926 2064.3L2937 2073.3L2926 2082.3" fill="none" stroke="#000" stroke-width="3.6" stroke-linecap="round" stroke-linejoin="round"/><text x="2168.2" y="2088.6" textLength="126.4" lengthAdjust="spacingAndGlyphs" style="font-family:'Liberation Sans',sans-serif;font-size:35px">Polluted</text><text x="2755.7" y="2084" textLength="154.4" lengthAdjust="spacingAndGlyphs" style="font-family:'Liberation Sans',sans-serif;font-size:35px">Corrected</text><path d="M2093.3 2142.2H2113.5V2126.5L2143.8 2151.8L2113.5 2177.0V2161.3H2093.3Z" fill="#a8e4da" stroke="#000" stroke-width="3" stroke-linejoin="miter"/><path d="M2373.6 2142.2H2393.8V2126.5L2424.1 2151.8L2393.8 2177.0V2161.3H2373.6Z" fill="#f0deb6" stroke="#000" stroke-width="3" stroke-linejoin="miter"/><text x="2151.9" y="2160.5" textLength="196.2" lengthAdjust="spacingAndGlyphs" style="font-family:'Liberation Sans',sans-serif;font-size:38px">TidalDecode</text><text x="2433.7" y="2160.5" textLength="276.1" lengthAdjust="spacingAndGlyphs" style="font-family:'Liberation Sans',sans-serif;font-size:38px">Cache-Correction</text></svg>
<div class="ln c" style="left:2234.5px;top:2216.4px;font-size:28px;transform:scaleX(0.99408);"><span class="r">Figure 3.</span> Cache Correction.</div>
<div class="ln b" style="left:1686.0px;top:2308.9px;transform:scaleX(1.00428);word-spacing:3.400px;"><b>Preliminary Result.</b>&nbsp; We first evaluate TidalDecode on needle-in-the-haystack(NiTH) with sim-</div>
<div class="ln b" style="left:1686.0px;top:2350.9px;transform:scaleX(1.00735);word-spacing:3.400px;">ple randomly-generated context of 10k-context-length.&nbsp;It significantly outperforms on eviction-</div>
<div class="ln b" style="left:1686.0px;top:2393.0px;transform:scaleX(0.98271);">based approaches like StreamingLLM and stays closely to selection-based approach Quest.</div>
<div class="ln c" style="left:1686.7px;top:2473.1px;word-spacing:2.081px;"><span class="r">Table 1.</span> 10k-context NiTH on LongChat-7b-32k.&nbsp;TidalDecode achieves full accuracy with only a 512 token budget.</div>
<div style="position:absolute;left:2113.3px;top:2540.0px;width:579.1px;height:3.2px;background:#000;"></div>
<div style="position:absolute;left:2113.3px;top:2589.2px;width:579.1px;height:1.8px;background:#000;"></div>
<div style="position:absolute;left:2113.3px;top:2761.6px;width:579.1px;height:3.2px;background:#000;"></div>
<div class="ln t" style="left:2118.3px;top:2553.9px;font-size:24.6px;transform:scaleX(1.00009);">Method / Budget</div>
<div class="ln t" style="left:2311.3px;top:2553.9px;font-size:24.6px;transform:scaleX(0.98581);">K=32</div>
<div class="ln t" style="left:2381.0px;top:2553.9px;font-size:24.6px;transform:scaleX(0.96344);">K=64</div>
<div class="ln t" style="left:2449.6px;top:2553.9px;font-size:24.6px;transform:scaleX(0.98869);">K=128</div>
<div class="ln t" style="left:2532.4px;top:2553.9px;font-size:24.6px;transform:scaleX(0.98869);">K=256</div>
<div class="ln t" style="left:2615.8px;top:2553.9px;font-size:24.6px;transform:scaleX(0.98033);">K=512</div>
<div class="ln t" style="left:2184.8px;top:2602.5px;font-size:24.6px;transform:scaleX(0.9400);">H2O</div>
<div class="ln t" style="left:2335.2px;top:2602.5px;font-size:24.6px;transform:scaleX(0.9400);">0%</div>
<div class="ln t" style="left:2403.6px;top:2602.5px;font-size:24.6px;transform:scaleX(0.9400);">1%</div>
<div class="ln t" style="left:2487.2px;top:2602.5px;font-size:24.6px;transform:scaleX(0.9400);">1%</div>
<div class="ln t" style="left:2570.0px;top:2602.5px;font-size:24.6px;transform:scaleX(0.9400);">1%</div>
<div class="ln t" style="left:2652.8px;top:2602.5px;font-size:24.6px;transform:scaleX(0.9400);">3%</div>
<div class="ln t" style="left:2178.1px;top:2633.6px;font-size:24.6px;transform:scaleX(0.9400);">TOVA</div>
<div class="ln t" style="left:2335.2px;top:2633.6px;font-size:24.6px;transform:scaleX(0.9400);">0%</div>
<div class="ln t" style="left:2403.6px;top:2633.6px;font-size:24.6px;transform:scaleX(0.9400);">1%</div>
<div class="ln t" style="left:2487.2px;top:2633.6px;font-size:24.6px;transform:scaleX(0.9400);">1%</div>
<div class="ln t" style="left:2570.0px;top:2633.6px;font-size:24.6px;transform:scaleX(0.9400);">3%</div>
<div class="ln t" style="left:2652.8px;top:2633.6px;font-size:24.6px;transform:scaleX(0.9400);">8%</div>
<div class="ln t" style="left:2133.4px;top:2664.8px;font-size:24.6px;transform:scaleX(0.9400);">StreamingLLM</div>
<div class="ln t" style="left:2335.2px;top:2664.8px;font-size:24.6px;transform:scaleX(0.9400);">1%</div>
<div class="ln t" style="left:2403.6px;top:2664.8px;font-size:24.6px;transform:scaleX(0.9400);">1%</div>
<div class="ln t" style="left:2487.2px;top:2664.8px;font-size:24.6px;transform:scaleX(0.9400);">1%</div>
<div class="ln t" style="left:2570.0px;top:2664.8px;font-size:24.6px;transform:scaleX(0.9400);">3%</div>
<div class="ln t" style="left:2652.8px;top:2664.8px;font-size:24.6px;transform:scaleX(0.9400);">5%</div>
<div class="ln t" style="left:2177.7px;top:2695.3px;font-size:24.6px;transform:scaleX(0.9400);">Quest</div>
<div class="ln t" style="left:2322.3px;top:2695.3px;font-size:24.6px;transform:scaleX(0.9400);">65%</div>
<div class="ln t" style="left:2391.9px;top:2695.3px;font-size:24.6px;transform:scaleX(0.9400);"><b>99%</b></div>
<div class="ln t" style="left:2475.5px;top:2695.3px;font-size:24.6px;transform:scaleX(0.9400);"><b>99%</b></div>
<div class="ln t" style="left:2558.3px;top:2695.3px;font-size:24.6px;transform:scaleX(0.9400);"><b>99%</b></div>
<div class="ln t" style="left:2628.6px;top:2695.3px;font-size:24.6px;transform:scaleX(0.9400);"><b>100%</b></div>
<div class="ln t" style="left:2140.8px;top:2725.8px;font-size:24.6px;transform:scaleX(0.9400);">TD+L7(Ours)</div>
<div class="ln t" style="left:2323.5px;top:2725.8px;font-size:24.6px;transform:scaleX(0.9400);"><b>73%</b></div>
<div class="ln t" style="left:2390.7px;top:2725.8px;font-size:24.6px;transform:scaleX(0.9400);">92%</div>
<div class="ln t" style="left:2474.3px;top:2725.8px;font-size:24.6px;transform:scaleX(0.9400);">98%</div>
<div class="ln t" style="left:2558.3px;top:2725.8px;font-size:24.6px;transform:scaleX(0.9400);"><b>99%</b></div>
<div class="ln t" style="left:2628.6px;top:2725.8px;font-size:24.6px;transform:scaleX(0.9400);"><b>100%</b></div>
<div class="ln h" style="left:3855.2px;top:524.2px;transform:scaleX(1.01467);">Evaluations</div>
<div style="position:absolute;left:3252.0px;top:581.7px;width:1440.0px;height:1.6px;background:#444;"></div>
<div class="ln b" style="left:3252.0px;top:605.3px;word-spacing:2.974px;">We further assess both the performance and efficiency of <b>TidalDecode (TD)</b> on various down-</div>
<div class="ln b" style="left:3252.0px;top:647.3px;transform:scaleX(1.02312);word-spacing:3.400px;">stream tasks and models with multi-head attention (MHA) and group-query attention (GQA)</div>
<div class="ln b" style="left:3252.0px;top:689.3px;transform:scaleX(0.99507);">mechanisms.&nbsp;TD+LX denotes TidalDecode with layer X selected as the re-selection layer.</div>
<div class="ln b" style="left:3252.0px;top:748.8px;transform:scaleX(0.98822);"><i style="color:#f01818">Performance-wise</i>.&nbsp; Evaluate TidalDecode on needle-in-the-haystack, language modeling on PG-</div>
<div class="ln b" style="left:3252.0px;top:791.0px;transform:scaleX(0.99443);">19, and long-context tasks with LongBench datasets.</div>
<div class="ln b" style="left:3252.0px;top:849.6px;word-spacing:1.222px;"><b>Needle-in-the-Haystack (NiTH)</b> and <b>LongBench Evaluations</b></div>
<div class="ln b" style="left:3252.0px;top:1520.8px;transform:scaleX(0.99737);"><i style="color:#f01818">Efficiency-wise</i>.&nbsp; Compare TD’s customized attention kernel efficiency against full and sparse at-</div>
<div class="ln b" style="left:3252.0px;top:1562.9px;word-spacing:2.561px;">tention baselines.&nbsp;We achieve <span class="m">2.1×</span> end-to-end latency reduction in Fig.&nbsp;6 and <span class="m">5.1×</span> aggregated</div>
<div class="ln b" style="left:3252.0px;top:1604.9px;word-spacing:1.788px;">attention computation speedup in Fig.&nbsp;(7b) compared to full attention with 100K context length.</div>
<div class="ln c" style="left:3253.4px;top:933.4px;word-spacing:0.105px;"><span class="r">Figure 4.</span> Results of NiTH across different models and</div>
<div class="ln c" style="left:3253.4px;top:968.8px;word-spacing:0.962px;">context lengths.&nbsp;TidalDecode achieves full accuracy</div>
<div class="ln c" style="left:3253.4px;top:1004.2px;transform:scaleX(1.01449);word-spacing:2.800px;">with only <b>0.1-0.6%</b> of total input tokens.</div>
<div style="position:absolute;left:3273.1px;top:1068.5px;width:647.6px;height:3.0px;background:#000;"></div>
<div style="position:absolute;left:3273.1px;top:1110.2px;width:647.6px;height:1.7px;background:#000;"></div>
<div class="ln t" style="left:3319.4px;top:1080.2px;font-size:21.3px;transform:scaleX(0.93232);">Model (ctx)</div>
<div class="ln t" style="left:3471.9px;top:1080.2px;font-size:21.3px;transform:scaleX(0.97119);">Method</div>
<div class="ln t" style="left:3562.8px;top:1080.2px;font-size:21.3px;transform:scaleX(0.95345);">K=32</div>
<div class="ln t" style="left:3631.4px;top:1080.2px;font-size:21.3px;transform:scaleX(0.95345);">K=64</div>
<div class="ln t" style="left:3698.4px;top:1080.2px;font-size:21.3px;transform:scaleX(0.95518);">K=128</div>
<div class="ln t" style="left:3775.2px;top:1080.2px;font-size:21.3px;transform:scaleX(0.95518);">K=256</div>
<div class="ln t" style="left:3852.5px;top:1080.2px;font-size:21.3px;transform:scaleX(0.95518);">K=512</div>
<div class="ln t" style="left:3289.0px;top:1131.8px;font-size:21.3px;transform:scaleX(0.9400);">Llama-3-8B (10K)</div>
<div class="ln tl" style="left:3471.9px;top:1120.3px;font-size:21.3px;transform:scaleX(0.9400);">Quest</div>
<div class="ln t" style="left:3471.9px;top:1143.2px;font-size:21.3px;transform:scaleX(0.9400);">TD+L13</div>
<div class="ln tl" style="left:3566.8px;top:1120.3px;font-size:21.3px;transform:scaleX(0.9400);">74%</div>
<div class="ln t" style="left:3566.8px;top:1143.2px;font-size:21.3px;transform:scaleX(0.9400);">88%</div>
<div class="ln tl" style="left:3635.4px;top:1120.3px;font-size:21.3px;transform:scaleX(0.9400);">84%</div>
<div class="ln t" style="left:3635.4px;top:1143.2px;font-size:21.3px;transform:scaleX(0.9400);">98%</div>
<div class="ln tl" style="left:3708.1px;top:1120.3px;font-size:21.3px;transform:scaleX(0.9400);">99%</div>
<div class="ln t" style="left:3702.5px;top:1143.2px;font-size:21.3px;transform:scaleX(0.9400);">100%</div>
<div class="ln tl" style="left:3784.9px;top:1120.3px;font-size:21.3px;transform:scaleX(0.9400);">98%</div>
<div class="ln t" style="left:3779.3px;top:1143.2px;font-size:21.3px;transform:scaleX(0.9400);">100%</div>
<div class="ln t" style="left:3856.6px;top:1120.3px;font-size:21.3px;transform:scaleX(0.9400);">100%</div>
<div class="ln t" style="left:3856.6px;top:1143.2px;font-size:21.3px;transform:scaleX(0.9400);">100%</div>
<div style="position:absolute;left:3273.1px;top:1173.2px;width:647.6px;height:1.7px;background:#000;"></div>
<div class="ln t" style="left:3283.4px;top:1195.0px;font-size:21.3px;transform:scaleX(0.9400);">Llama-3-8B (100K)</div>
<div class="ln tl" style="left:3471.9px;top:1183.5px;font-size:21.3px;transform:scaleX(0.9400);">Quest</div>
<div class="ln t" style="left:3471.9px;top:1206.4px;font-size:21.3px;transform:scaleX(0.9400);">TD+L13</div>
<div class="ln tl" style="left:3566.8px;top:1183.5px;font-size:21.3px;transform:scaleX(0.9400);">38%</div>
<div class="ln t" style="left:3566.8px;top:1206.4px;font-size:21.3px;transform:scaleX(0.9400);">86%</div>
<div class="ln tl" style="left:3635.4px;top:1183.5px;font-size:21.3px;transform:scaleX(0.9400);">50%</div>
<div class="ln t" style="left:3635.4px;top:1206.4px;font-size:21.3px;transform:scaleX(0.9400);">92%</div>
<div class="ln tl" style="left:3708.1px;top:1183.5px;font-size:21.3px;transform:scaleX(0.9400);">65%</div>
<div class="ln t" style="left:3702.5px;top:1206.4px;font-size:21.3px;transform:scaleX(0.9400);">100%</div>
<div class="ln tl" style="left:3784.9px;top:1183.5px;font-size:21.3px;transform:scaleX(0.9400);">87%</div>
<div class="ln t" style="left:3779.3px;top:1206.4px;font-size:21.3px;transform:scaleX(0.9400);">100%</div>
<div class="ln tl" style="left:3862.2px;top:1183.5px;font-size:21.3px;transform:scaleX(0.9400);">98%</div>
<div class="ln t" style="left:3856.6px;top:1206.4px;font-size:21.3px;transform:scaleX(0.9400);">100%</div>
<div style="position:absolute;left:3273.1px;top:1236.5px;width:647.6px;height:1.7px;background:#000;"></div>
<div class="ln t" style="left:3280.7px;top:1258.2px;font-size:21.3px;transform:scaleX(0.9400);">Llama-3.1-8B (10K)</div>
<div class="ln tl" style="left:3471.9px;top:1246.7px;font-size:21.3px;transform:scaleX(0.9400);">Quest</div>
<div class="ln t" style="left:3471.9px;top:1269.6px;font-size:21.3px;transform:scaleX(0.9400);">TD+L13</div>
<div class="ln tl" style="left:3566.8px;top:1246.7px;font-size:21.3px;transform:scaleX(0.9400);">74%</div>
<div class="ln t" style="left:3561.2px;top:1269.6px;font-size:21.3px;transform:scaleX(0.9400);">100%</div>
<div class="ln tl" style="left:3635.4px;top:1246.7px;font-size:21.3px;transform:scaleX(0.9400);">86%</div>
<div class="ln t" style="left:3629.8px;top:1269.6px;font-size:21.3px;transform:scaleX(0.9400);">100%</div>
<div class="ln tl" style="left:3708.1px;top:1246.7px;font-size:21.3px;transform:scaleX(0.9400);">94%</div>
<div class="ln t" style="left:3702.5px;top:1269.6px;font-size:21.3px;transform:scaleX(0.9400);">100%</div>
<div class="ln t" style="left:3779.3px;top:1246.7px;font-size:21.3px;transform:scaleX(0.9400);">100%</div>
<div class="ln t" style="left:3779.3px;top:1269.6px;font-size:21.3px;transform:scaleX(0.9400);">100%</div>
<div class="ln tl" style="left:3862.2px;top:1246.7px;font-size:21.3px;transform:scaleX(0.9400);">98%</div>
<div class="ln t" style="left:3856.6px;top:1269.6px;font-size:21.3px;transform:scaleX(0.9400);">100%</div>
<div style="position:absolute;left:3273.1px;top:1299.8px;width:647.6px;height:1.7px;background:#000;"></div>
<div class="ln t" style="left:3280.7px;top:1321.4px;font-size:21.3px;transform:scaleX(0.9400);">Llama-3.1-8B (32K)</div>
<div class="ln tl" style="left:3471.9px;top:1309.9px;font-size:21.3px;transform:scaleX(0.9400);">Quest</div>
<div class="ln t" style="left:3471.9px;top:1332.8px;font-size:21.3px;transform:scaleX(0.9400);">TD+L13</div>
<div class="ln tl" style="left:3566.8px;top:1309.9px;font-size:21.3px;transform:scaleX(0.9400);">78%</div>
<div class="ln t" style="left:3566.8px;top:1332.8px;font-size:21.3px;transform:scaleX(0.9400);">98%</div>
<div class="ln tl" style="left:3635.4px;top:1309.9px;font-size:21.3px;transform:scaleX(0.9400);">88%</div>
<div class="ln t" style="left:3629.8px;top:1332.8px;font-size:21.3px;transform:scaleX(0.9400);">100%</div>
<div class="ln tl" style="left:3708.1px;top:1309.9px;font-size:21.3px;transform:scaleX(0.9400);">92%</div>
<div class="ln t" style="left:3702.5px;top:1332.8px;font-size:21.3px;transform:scaleX(0.9400);">100%</div>
<div class="ln t" style="left:3779.3px;top:1309.9px;font-size:21.3px;transform:scaleX(0.9400);">100%</div>
<div class="ln t" style="left:3779.3px;top:1332.8px;font-size:21.3px;transform:scaleX(0.9400);">100%</div>
<div class="ln t" style="left:3856.6px;top:1309.9px;font-size:21.3px;transform:scaleX(0.9400);">100%</div>
<div class="ln t" style="left:3856.6px;top:1332.8px;font-size:21.3px;transform:scaleX(0.9400);">100%</div>
<div style="position:absolute;left:3273.1px;top:1363.0px;width:647.6px;height:1.7px;background:#000;"></div>
<div class="ln t" style="left:3283.4px;top:1384.6px;font-size:21.3px;transform:scaleX(0.9400);">Llama-3-70B (10K)</div>
<div class="ln tl" style="left:3471.9px;top:1373.1px;font-size:21.3px;transform:scaleX(0.9400);">Quest</div>
<div class="ln t" style="left:3471.9px;top:1396.0px;font-size:21.3px;transform:scaleX(0.9400);">TD+L14</div>
<div class="ln tl" style="left:3566.8px;top:1373.1px;font-size:21.3px;transform:scaleX(0.9400);">68%</div>
<div class="ln t" style="left:3566.8px;top:1396.0px;font-size:21.3px;transform:scaleX(0.9400);">87%</div>
<div class="ln tl" style="left:3635.4px;top:1373.1px;font-size:21.3px;transform:scaleX(0.9400);">72%</div>
<div class="ln t" style="left:3635.4px;top:1396.0px;font-size:21.3px;transform:scaleX(0.9400);">93%</div>
<div class="ln tl" style="left:3708.1px;top:1373.1px;font-size:21.3px;transform:scaleX(0.9400);">90%</div>
<div class="ln t" style="left:3702.5px;top:1396.0px;font-size:21.3px;transform:scaleX(0.9400);">100%</div>
<div class="ln tl" style="left:3784.9px;top:1373.1px;font-size:21.3px;transform:scaleX(0.9400);">98%</div>
<div class="ln t" style="left:3779.3px;top:1396.0px;font-size:21.3px;transform:scaleX(0.9400);">100%</div>
<div class="ln t" style="left:3856.6px;top:1373.1px;font-size:21.3px;transform:scaleX(0.9400);">100%</div>
<div class="ln t" style="left:3856.6px;top:1396.0px;font-size:21.3px;transform:scaleX(0.9400);">100%</div>
<div style="position:absolute;left:3273.1px;top:1426.2px;width:647.6px;height:1.7px;background:#000;"></div>
<div class="ln t" style="left:3283.4px;top:1447.8px;font-size:21.3px;transform:scaleX(0.9400);">Llama-3-70B (32K)</div>
<div class="ln tl" style="left:3471.9px;top:1436.3px;font-size:21.3px;transform:scaleX(0.9400);">Quest</div>
<div class="ln t" style="left:3471.9px;top:1459.2px;font-size:21.3px;transform:scaleX(0.9400);">TD+L14</div>
<div class="ln tl" style="left:3566.8px;top:1436.3px;font-size:21.3px;transform:scaleX(0.9400);">50%</div>
<div class="ln t" style="left:3566.8px;top:1459.2px;font-size:21.3px;transform:scaleX(0.9400);">82%</div>
<div class="ln tl" style="left:3635.4px;top:1436.3px;font-size:21.3px;transform:scaleX(0.9400);">80%</div>
<div class="ln t" style="left:3635.4px;top:1459.2px;font-size:21.3px;transform:scaleX(0.9400);">98%</div>
<div class="ln tl" style="left:3708.1px;top:1436.3px;font-size:21.3px;transform:scaleX(0.9400);">88%</div>
<div class="ln t" style="left:3708.1px;top:1459.2px;font-size:21.3px;transform:scaleX(0.9400);">98%</div>
<div class="ln tl" style="left:3784.9px;top:1436.3px;font-size:21.3px;transform:scaleX(0.9400);">92%</div>
<div class="ln t" style="left:3779.3px;top:1459.2px;font-size:21.3px;transform:scaleX(0.9400);">100%</div>
<div class="ln tl" style="left:3862.2px;top:1436.3px;font-size:21.3px;transform:scaleX(0.9400);">78%</div>
<div class="ln t" style="left:3856.6px;top:1459.2px;font-size:21.3px;transform:scaleX(0.9400);">100%</div>
<div style="position:absolute;left:3273.1px;top:1488.9px;width:647.6px;height:3.0px;background:#000;"></div>
<div class="ln c" style="left:4001.8px;top:933.4px;transform:scaleX(0.99633);"><span class="r">Figure 5.</span> LongBench experiments on</div>
<div class="ln c" style="left:4001.8px;top:968.8px;word-spacing:2.577px;">single/multi-document QA, summarization, and</div>
<div class="ln c" style="left:4001.8px;top:1004.2px;word-spacing:0.011px;">retrieval tasks using Llama-3-8B. TidalDecode</div>
<div class="ln c" style="left:4001.8px;top:1039.6px;word-spacing:2.058px;">consistently outperforms Quest and achieves better</div>
<div class="ln c" style="left:4001.8px;top:1075.0px;word-spacing:0.784px;">average score than full attention.</div>
<div style="position:absolute;left:4051.9px;top:1139.2px;width:587.9px;height:3.0px;background:#000;"></div>
<div style="position:absolute;left:4051.9px;top:1225.9px;width:587.9px;height:1.7px;background:#000;"></div>
<div style="position:absolute;left:4051.9px;top:1445.7px;width:587.9px;height:1.7px;background:#000;"></div>
<div style="position:absolute;left:4051.9px;top:1488.5px;width:587.9px;height:3.0px;background:#000;"></div>
<div style="position:absolute;left:4240.0px;top:1183.2px;width:173.3px;height:1.7px;background:#000;"></div>
<div style="position:absolute;left:4448.8px;top:1183.2px;width:172.6px;height:1.7px;background:#000;"></div>
<div class="ln t" style="left:4237.0px;top:1151.5px;font-size:21px;transform:scaleX(0.95971);">Token Budget: 1024</div>
<div class="ln t" style="left:4445.5px;top:1151.5px;font-size:21px;transform:scaleX(0.95703);">Token Budget: 4096</div>
<div class="ln t" style="left:4067.4px;top:1164.0px;font-size:21px;transform:scaleX(0.87062);">Task</div>
<div class="ln t" style="left:4167.7px;top:1164.0px;font-size:21px;transform:scaleX(0.90120);">Full</div>
<div class="ln t" style="left:4237.0px;top:1193.3px;font-size:21px;transform:scaleX(0.94590);">Quest</div>
<div class="ln t" style="left:4331.9px;top:1193.3px;font-size:21px;transform:scaleX(0.95356);">TD+L13</div>
<div class="ln t" style="left:4445.5px;top:1193.3px;font-size:21px;transform:scaleX(0.95482);">Quest</div>
<div class="ln t" style="left:4539.9px;top:1193.3px;font-size:21px;transform:scaleX(0.96551);">TD+L13</div>
<div class="ln tl" style="left:4067.4px;top:1237.1px;font-size:21px;transform:scaleX(0.9400);">MFQA</div>
<div class="ln tl" style="left:4158.0px;top:1237.1px;font-size:21px;transform:scaleX(0.9400);">30.76</div>
<div class="ln tl" style="left:4239.0px;top:1237.1px;font-size:21px;transform:scaleX(0.9400);">26.21</div>
<div class="ln tl" style="left:4343.1px;top:1237.1px;font-size:21px;transform:scaleX(0.9400);">28.57</div>
<div class="ln tl" style="left:4447.5px;top:1237.1px;font-size:21px;transform:scaleX(0.9400);">28.92</div>
<div class="ln t" style="left:4551.6px;top:1237.1px;font-size:21px;transform:scaleX(0.9400);font-weight:bold;">30.94</div>
<div class="ln tl" style="left:4067.4px;top:1262.5px;font-size:21px;transform:scaleX(0.9400);">NrtQA</div>
<div class="ln tl" style="left:4163.5px;top:1262.5px;font-size:21px;transform:scaleX(0.9400);">5.52</div>
<div class="ln tl" style="left:4244.5px;top:1262.5px;font-size:21px;transform:scaleX(0.9400);">4.08</div>
<div class="ln t" style="left:4348.6px;top:1262.5px;font-size:21px;transform:scaleX(0.9400);font-weight:bold;">7.63</div>
<div class="ln tl" style="left:4453.0px;top:1262.5px;font-size:21px;transform:scaleX(0.9400);">3.74</div>
<div class="ln tl" style="left:4557.1px;top:1262.5px;font-size:21px;transform:scaleX(0.9400);">6.19</div>
<div class="ln tl" style="left:4067.4px;top:1287.8px;font-size:21px;transform:scaleX(0.9400);">Qasp</div>
<div class="ln t" style="left:4158.0px;top:1287.8px;font-size:21px;transform:scaleX(0.9400);font-weight:bold;">14.56</div>
<div class="ln tl" style="left:4239.0px;top:1287.8px;font-size:21px;transform:scaleX(0.9400);">12.19</div>
<div class="ln tl" style="left:4344.6px;top:1287.8px;font-size:21px;transform:scaleX(0.9400);">11.11</div>
<div class="ln tl" style="left:4447.5px;top:1287.8px;font-size:21px;transform:scaleX(0.9400);">13.63</div>
<div class="ln tl" style="left:4551.6px;top:1287.8px;font-size:21px;transform:scaleX(0.9400);">13.85</div>
<div class="ln tl" style="left:4067.4px;top:1313.2px;font-size:21px;transform:scaleX(0.9400);">2Wiki</div>
<div class="ln tl" style="left:4158.0px;top:1313.2px;font-size:21px;transform:scaleX(0.9400);">13.32</div>
<div class="ln tl" style="left:4239.0px;top:1313.2px;font-size:21px;transform:scaleX(0.9400);">12.61</div>
<div class="ln tl" style="left:4343.1px;top:1313.2px;font-size:21px;transform:scaleX(0.9400);">13.56</div>
<div class="ln tl" style="left:4447.5px;top:1313.2px;font-size:21px;transform:scaleX(0.9400);">12.83</div>
<div class="ln t" style="left:4551.6px;top:1313.2px;font-size:21px;transform:scaleX(0.9400);font-weight:bold;">14.40</div>
<div class="ln tl" style="left:4067.4px;top:1338.6px;font-size:21px;transform:scaleX(0.9400);">HotQA</div>
<div class="ln tl" style="left:4158.7px;top:1338.6px;font-size:21px;transform:scaleX(0.9400);">11.50</div>
<div class="ln tl" style="left:4239.0px;top:1338.6px;font-size:21px;transform:scaleX(0.9400);">10.75</div>
<div class="ln tl" style="left:4348.6px;top:1338.6px;font-size:21px;transform:scaleX(0.9400);">9.82</div>
<div class="ln tl" style="left:4447.5px;top:1338.6px;font-size:21px;transform:scaleX(0.9400);">12.15</div>
<div class="ln t" style="left:4551.6px;top:1338.6px;font-size:21px;transform:scaleX(0.9400);font-weight:bold;">13.71</div>
<div class="ln tl" style="left:4067.4px;top:1363.9px;font-size:21px;transform:scaleX(0.9400);">QMSm</div>
<div class="ln tl" style="left:4158.0px;top:1363.9px;font-size:21px;transform:scaleX(0.9400);">19.43</div>
<div class="ln tl" style="left:4239.0px;top:1363.9px;font-size:21px;transform:scaleX(0.9400);">19.56</div>
<div class="ln t" style="left:4343.1px;top:1363.9px;font-size:21px;transform:scaleX(0.9400);font-weight:bold;">20.37</div>
<div class="ln tl" style="left:4447.5px;top:1363.9px;font-size:21px;transform:scaleX(0.9400);">19.36</div>
<div class="ln tl" style="left:4551.6px;top:1363.9px;font-size:21px;transform:scaleX(0.9400);">19.48</div>
<div class="ln tl" style="left:4067.4px;top:1389.3px;font-size:21px;transform:scaleX(0.9400);">TrQA</div>
<div class="ln t" style="left:4158.0px;top:1389.3px;font-size:21px;transform:scaleX(0.9400);font-weight:bold;">86.56</div>
<div class="ln tl" style="left:4239.0px;top:1389.3px;font-size:21px;transform:scaleX(0.9400);">83.47</div>
<div class="ln tl" style="left:4343.1px;top:1389.3px;font-size:21px;transform:scaleX(0.9400);">79.78</div>
<div class="ln tl" style="left:4447.5px;top:1389.3px;font-size:21px;transform:scaleX(0.9400);">85.91</div>
<div class="ln tl" style="left:4551.6px;top:1389.3px;font-size:21px;transform:scaleX(0.9400);">86.30</div>
<div class="ln tl" style="left:4067.4px;top:1414.7px;font-size:21px;transform:scaleX(0.9400);">PRe</div>
<div class="ln tl" style="left:4158.0px;top:1414.7px;font-size:21px;transform:scaleX(0.9400);">77.00</div>
<div class="ln tl" style="left:4239.0px;top:1414.7px;font-size:21px;transform:scaleX(0.9400);">63.84</div>
<div class="ln tl" style="left:4343.1px;top:1414.7px;font-size:21px;transform:scaleX(0.9400);">75.17</div>
<div class="ln tl" style="left:4447.5px;top:1414.7px;font-size:21px;transform:scaleX(0.9400);">72.50</div>
<div class="ln t" style="left:4551.6px;top:1414.7px;font-size:21px;transform:scaleX(0.9400);font-weight:bold;">78.00</div>
<div class="ln t" style="left:4067.4px;top:1457.8px;font-size:21px;transform:scaleX(0.9400);">Avg</div>
<div class="ln tl" style="left:4158.0px;top:1457.8px;font-size:21px;transform:scaleX(0.9400);">32.33</div>
<div class="ln tl" style="left:4239.0px;top:1457.8px;font-size:21px;transform:scaleX(0.9400);">29.09</div>
<div class="ln tl" style="left:4343.1px;top:1457.8px;font-size:21px;transform:scaleX(0.9400);">30.75</div>
<div class="ln tl" style="left:4447.5px;top:1457.8px;font-size:21px;transform:scaleX(0.9400);">31.13</div>
<div class="ln t" style="left:4551.6px;top:1457.8px;font-size:21px;transform:scaleX(0.9400);font-weight:bold;">32.86</div>
<svg style="left:0;top:0" width="4799" height="2880" viewBox="0 0 4799 2880"><path d="M3457.5 1699.6V1959.2M3525.8 1699.6V1959.2M3594.0 1699.6V1959.2M3662.2 1699.6V1959.2M3730.5 1699.6V1959.2M3445.5 1944.0H3751.7M3445.5 1887.1H3751.7M3445.5 1830.2H3751.7M3445.5 1773.3H3751.7M3445.5 1716.4H3751.7" stroke="#c4c4c4" stroke-width="1.1" fill="none"/><polyline points="3459.7,1817.4 3461.9,1817.4 3466.2,1817.4 3475.0,1817.4 3492.4,1817.4 3527.4,1817.4 3597.3,1817.4 3737.1,1817.4" fill="none" stroke="#000" stroke-width="1.4" stroke-dasharray="4.6 2.2"/><circle cx="3459.7" cy="1817.4" r="3.1" fill="#000"/><circle cx="3461.9" cy="1817.4" r="3.1" fill="#000"/><circle cx="3466.2" cy="1817.4" r="3.1" fill="#000"/><circle cx="3475.0" cy="1817.4" r="3.1" fill="#000"/><circle cx="3492.4" cy="1817.4" r="3.1" fill="#000"/><circle cx="3527.4" cy="1817.4" r="3.1" fill="#000"/><circle cx="3597.3" cy="1817.4" r="3.1" fill="#000"/><circle cx="3737.1" cy="1817.4" r="3.1" fill="#000"/><polyline points="3459.7,1751.1 3461.9,1780.7 3466.2,1805.2 3475.0,1810.3 3492.4,1763.1 3527.4,1777.9 3597.3,1760.2 3737.1,1711.3" fill="none" stroke="#0000ff" stroke-width="1.4" /><circle cx="3459.7" cy="1751.1" r="3.1" fill="#0000ff"/><circle cx="3461.9" cy="1780.7" r="3.1" fill="#0000ff"/><circle cx="3466.2" cy="1805.2" r="3.1" fill="#0000ff"/><circle cx="3475.0" cy="1810.3" r="3.1" fill="#0000ff"/><circle cx="3492.4" cy="1763.1" r="3.1" fill="#0000ff"/><circle cx="3527.4" cy="1777.9" r="3.1" fill="#0000ff"/><circle cx="3597.3" cy="1760.2" r="3.1" fill="#0000ff"/><circle cx="3737.1" cy="1711.3" r="3.1" fill="#0000ff"/><polyline points="3459.7,1947.4 3461.9,1933.8 3466.2,1935.5 3475.0,1945.1 3492.4,1946.3 3527.4,1925.8 3597.3,1933.2 3737.1,1908.2" fill="none" stroke="#ff0000" stroke-width="1.4" /><circle cx="3459.7" cy="1947.4" r="3.1" fill="#ff0000"/><circle cx="3461.9" cy="1933.8" r="3.1" fill="#ff0000"/><circle cx="3466.2" cy="1935.5" r="3.1" fill="#ff0000"/><circle cx="3475.0" cy="1945.1" r="3.1" fill="#ff0000"/><circle cx="3492.4" cy="1946.3" r="3.1" fill="#ff0000"/><circle cx="3527.4" cy="1925.8" r="3.1" fill="#ff0000"/><circle cx="3597.3" cy="1933.2" r="3.1" fill="#ff0000"/><circle cx="3737.1" cy="1908.2" r="3.1" fill="#ff0000"/><rect x="3445.5" y="1699.6" width="306.2" height="259.6" fill="none" stroke="#000" stroke-width="1.1"/><text x="3457.5" y="1979" text-anchor="middle" style="font-family:'DejaVu Sans',sans-serif;font-size:16.7px">0</text><text x="3525.8" y="1979" text-anchor="middle" style="font-family:'DejaVu Sans',sans-serif;font-size:16.7px">1000</text><text x="3594.0" y="1979" text-anchor="middle" style="font-family:'DejaVu Sans',sans-serif;font-size:16.7px">2000</text><text x="3662.2" y="1979" text-anchor="middle" style="font-family:'DejaVu Sans',sans-serif;font-size:16.7px">3000</text><text x="3730.5" y="1979" text-anchor="middle" style="font-family:'DejaVu Sans',sans-serif;font-size:16.7px">4000</text><text x="3438.0" y="1950.1" text-anchor="end" style="font-family:'DejaVu Sans',sans-serif;font-size:16.7px">17</text><text x="3438.0" y="1893.2" text-anchor="end" style="font-family:'DejaVu Sans',sans-serif;font-size:16.7px">18</text><text x="3438.0" y="1836.3" text-anchor="end" style="font-family:'DejaVu Sans',sans-serif;font-size:16.7px">19</text><text x="3438.0" y="1779.4" text-anchor="end" style="font-family:'DejaVu Sans',sans-serif;font-size:16.7px">20</text><text x="3438.0" y="1722.5" text-anchor="end" style="font-family:'DejaVu Sans',sans-serif;font-size:16.7px">21</text><path d="M3457.5 1959.2v4.2M3525.8 1959.2v4.2M3594.0 1959.2v4.2M3662.2 1959.2v4.2M3730.5 1959.2v4.2M3445.5 1944.0h-4.2M3445.5 1887.1h-4.2M3445.5 1830.2h-4.2M3445.5 1773.3h-4.2M3445.5 1716.4h-4.2" stroke="#000" stroke-width="1.1" fill="none"/><text x="3598.6" y="1693.5" text-anchor="middle" style="font-family:'DejaVu Sans',sans-serif;font-size:19px">10K</text><text x="3598.6" y="1998.5" text-anchor="middle" style="font-family:'DejaVu Sans',sans-serif;font-size:17.4px">Token Budget</text><text transform="translate(3410 1829.4) rotate(-90)" text-anchor="middle" style="font-family:'DejaVu Sans',sans-serif;font-size:17.4px">Latency(ms)</text><path d="M3854.0 1699.6V1959.2M3922.4 1699.6V1959.2M3990.9 1699.6V1959.2M4059.3 1699.6V1959.2M4127.8 1699.6V1959.2M3842.3 1937.1H4148.7M3842.3 1878.5H4148.7M3842.3 1819.9H4148.7M3842.3 1761.3H4148.7M3842.3 1702.7H4148.7" stroke="#c4c4c4" stroke-width="1.1" fill="none"/><polyline points="3856.2,1710.9 3858.4,1710.9 3862.8,1710.9 3871.5,1710.9 3889.0,1710.9 3924.1,1710.9 3994.2,1710.9 4134.4,1710.9" fill="none" stroke="#000" stroke-width="1.4" stroke-dasharray="4.6 2.2"/><circle cx="3856.2" cy="1710.9" r="3.1" fill="#000"/><circle cx="3858.4" cy="1710.9" r="3.1" fill="#000"/><circle cx="3862.8" cy="1710.9" r="3.1" fill="#000"/><circle cx="3871.5" cy="1710.9" r="3.1" fill="#000"/><circle cx="3889.0" cy="1710.9" r="3.1" fill="#000"/><circle cx="3924.1" cy="1710.9" r="3.1" fill="#000"/><circle cx="3994.2" cy="1710.9" r="3.1" fill="#000"/><circle cx="4134.4" cy="1710.9" r="3.1" fill="#000"/><polyline points="3856.2,1865.0 3858.4,1853.3 3862.8,1856.8 3871.5,1847.1 3889.0,1860.0 3924.1,1850.4 3994.2,1838.9 4134.4,1816.1" fill="none" stroke="#0000ff" stroke-width="1.4" /><circle cx="3856.2" cy="1865.0" r="3.1" fill="#0000ff"/><circle cx="3858.4" cy="1853.3" r="3.1" fill="#0000ff"/><circle cx="3862.8" cy="1856.8" r="3.1" fill="#0000ff"/><circle cx="3871.5" cy="1847.1" r="3.1" fill="#0000ff"/><circle cx="3889.0" cy="1860.0" r="3.1" fill="#0000ff"/><circle cx="3924.1" cy="1850.4" r="3.1" fill="#0000ff"/><circle cx="3994.2" cy="1838.9" r="3.1" fill="#0000ff"/><circle cx="4134.4" cy="1816.1" r="3.1" fill="#0000ff"/><polyline points="3856.2,1940.0 3858.4,1939.4 3862.8,1947.1 3871.5,1945.6 3889.0,1939.4 3924.1,1937.7 3994.2,1922.7 4134.4,1908.1" fill="none" stroke="#ff0000" stroke-width="1.4" /><circle cx="3856.2" cy="1940.0" r="3.1" fill="#ff0000"/><circle cx="3858.4" cy="1939.4" r="3.1" fill="#ff0000"/><circle cx="3862.8" cy="1947.1" r="3.1" fill="#ff0000"/><circle cx="3871.5" cy="1945.6" r="3.1" fill="#ff0000"/><circle cx="3889.0" cy="1939.4" r="3.1" fill="#ff0000"/><circle cx="3924.1" cy="1937.7" r="3.1" fill="#ff0000"/><circle cx="3994.2" cy="1922.7" r="3.1" fill="#ff0000"/><circle cx="4134.4" cy="1908.1" r="3.1" fill="#ff0000"/><rect x="3842.3" y="1699.6" width="306.4" height="259.6" fill="none" stroke="#000" stroke-width="1.1"/><text x="3854.0" y="1979" text-anchor="middle" style="font-family:'DejaVu Sans',sans-serif;font-size:16.7px">0</text><text x="3922.4" y="1979" text-anchor="middle" style="font-family:'DejaVu Sans',sans-serif;font-size:16.7px">1000</text><text x="3990.9" y="1979" text-anchor="middle" style="font-family:'DejaVu Sans',sans-serif;font-size:16.7px">2000</text><text x="4059.3" y="1979" text-anchor="middle" style="font-family:'DejaVu Sans',sans-serif;font-size:16.7px">3000</text><text x="4127.8" y="1979" text-anchor="middle" style="font-family:'DejaVu Sans',sans-serif;font-size:16.7px">4000</text><text x="3834.8" y="1943.2" text-anchor="end" style="font-family:'DejaVu Sans',sans-serif;font-size:16.7px">18</text><text x="3834.8" y="1884.6" text-anchor="end" style="font-family:'DejaVu Sans',sans-serif;font-size:16.7px">20</text><text x="3834.8" y="1826.0" text-anchor="end" style="font-family:'DejaVu Sans',sans-serif;font-size:16.7px">22</text><text x="3834.8" y="1767.4" text-anchor="end" style="font-family:'DejaVu Sans',sans-serif;font-size:16.7px">24</text><text x="3834.8" y="1708.8" text-anchor="end" style="font-family:'DejaVu Sans',sans-serif;font-size:16.7px">26</text><path d="M3854.0 1959.2v4.2M3922.4 1959.2v4.2M3990.9 1959.2v4.2M4059.3 1959.2v4.2M4127.8 1959.2v4.2M3842.3 1937.1h-4.2M3842.3 1878.5h-4.2M3842.3 1819.9h-4.2M3842.3 1761.3h-4.2M3842.3 1702.7h-4.2" stroke="#000" stroke-width="1.1" fill="none"/><text x="3995.5" y="1693.5" text-anchor="middle" style="font-family:'DejaVu Sans',sans-serif;font-size:19px">32K</text><text x="3995.5" y="1998.5" text-anchor="middle" style="font-family:'DejaVu Sans',sans-serif;font-size:17.4px">Token Budget</text><text transform="translate(3806.5 1829.4) rotate(-90)" text-anchor="middle" style="font-family:'DejaVu Sans',sans-serif;font-size:17.4px">Latency(ms)</text><path d="M4250.7 1699.6V1959.2M4319.1 1699.6V1959.2M4387.5 1699.6V1959.2M4455.9 1699.6V1959.2M4524.3 1699.6V1959.2M4239.3 1958.3H4545.2M4239.3 1910.1H4545.2M4239.3 1862.0H4545.2M4239.3 1813.8H4545.2M4239.3 1765.7H4545.2M4239.3 1717.5H4545.2" stroke="#c4c4c4" stroke-width="1.1" fill="none"/><polyline points="4252.9,1710.9 4255.1,1710.9 4259.5,1710.9 4268.2,1710.9 4285.7,1710.9 4320.7,1710.9 4390.8,1710.9 4530.9,1710.9" fill="none" stroke="#000" stroke-width="1.4" stroke-dasharray="4.6 2.2"/><circle cx="4252.9" cy="1710.9" r="3.1" fill="#000"/><circle cx="4255.1" cy="1710.9" r="3.1" fill="#000"/><circle cx="4259.5" cy="1710.9" r="3.1" fill="#000"/><circle cx="4268.2" cy="1710.9" r="3.1" fill="#000"/><circle cx="4285.7" cy="1710.9" r="3.1" fill="#000"/><circle cx="4320.7" cy="1710.9" r="3.1" fill="#000"/><circle cx="4390.8" cy="1710.9" r="3.1" fill="#000"/><circle cx="4530.9" cy="1710.9" r="3.1" fill="#000"/><polyline points="4252.9,1910.1 4255.1,1907.9 4259.5,1911.7 4268.2,1910.4 4285.7,1911.1 4320.7,1908.9 4390.8,1902.5 4530.9,1898.8" fill="none" stroke="#0000ff" stroke-width="1.4" /><circle cx="4252.9" cy="1910.1" r="3.1" fill="#0000ff"/><circle cx="4255.1" cy="1907.9" r="3.1" fill="#0000ff"/><circle cx="4259.5" cy="1911.7" r="3.1" fill="#0000ff"/><circle cx="4268.2" cy="1910.4" r="3.1" fill="#0000ff"/><circle cx="4285.7" cy="1911.1" r="3.1" fill="#0000ff"/><circle cx="4320.7" cy="1908.9" r="3.1" fill="#0000ff"/><circle cx="4390.8" cy="1902.5" r="3.1" fill="#0000ff"/><circle cx="4530.9" cy="1898.8" r="3.1" fill="#0000ff"/><polyline points="4252.9,1946.0 4255.1,1947.2 4259.5,1944.7 4268.2,1946.3 4285.7,1946.9 4320.7,1944.7 4390.8,1941.8 4530.9,1935.5" fill="none" stroke="#ff0000" stroke-width="1.4" /><circle cx="4252.9" cy="1946.0" r="3.1" fill="#ff0000"/><circle cx="4255.1" cy="1947.2" r="3.1" fill="#ff0000"/><circle cx="4259.5" cy="1944.7" r="3.1" fill="#ff0000"/><circle cx="4268.2" cy="1946.3" r="3.1" fill="#ff0000"/><circle cx="4285.7" cy="1946.9" r="3.1" fill="#ff0000"/><circle cx="4320.7" cy="1944.7" r="3.1" fill="#ff0000"/><circle cx="4390.8" cy="1941.8" r="3.1" fill="#ff0000"/><circle cx="4530.9" cy="1935.5" r="3.1" fill="#ff0000"/><rect x="4239.3" y="1699.6" width="305.9" height="259.6" fill="none" stroke="#000" stroke-width="1.1"/><text x="4250.7" y="1979" text-anchor="middle" style="font-family:'DejaVu Sans',sans-serif;font-size:16.7px">0</text><text x="4319.1" y="1979" text-anchor="middle" style="font-family:'DejaVu Sans',sans-serif;font-size:16.7px">1000</text><text x="4387.5" y="1979" text-anchor="middle" style="font-family:'DejaVu Sans',sans-serif;font-size:16.7px">2000</text><text x="4455.9" y="1979" text-anchor="middle" style="font-family:'DejaVu Sans',sans-serif;font-size:16.7px">3000</text><text x="4524.3" y="1979" text-anchor="middle" style="font-family:'DejaVu Sans',sans-serif;font-size:16.7px">4000</text><text x="4231.8" y="1964.4" text-anchor="end" style="font-family:'DejaVu Sans',sans-serif;font-size:16.7px">20</text><text x="4231.8" y="1916.2" text-anchor="end" style="font-family:'DejaVu Sans',sans-serif;font-size:16.7px">25</text><text x="4231.8" y="1868.1" text-anchor="end" style="font-family:'DejaVu Sans',sans-serif;font-size:16.7px">30</text><text x="4231.8" y="1819.9" text-anchor="end" style="font-family:'DejaVu Sans',sans-serif;font-size:16.7px">35</text><text x="4231.8" y="1771.8" text-anchor="end" style="font-family:'DejaVu Sans',sans-serif;font-size:16.7px">40</text><text x="4231.8" y="1723.6" text-anchor="end" style="font-family:'DejaVu Sans',sans-serif;font-size:16.7px">45</text><path d="M4250.7 1959.2v4.2M4319.1 1959.2v4.2M4387.5 1959.2v4.2M4455.9 1959.2v4.2M4524.3 1959.2v4.2M4239.3 1958.3h-4.2M4239.3 1910.1h-4.2M4239.3 1862.0h-4.2M4239.3 1813.8h-4.2M4239.3 1765.7h-4.2M4239.3 1717.5h-4.2" stroke="#000" stroke-width="1.1" fill="none"/><text x="4392.2" y="1693.5" text-anchor="middle" style="font-family:'DejaVu Sans',sans-serif;font-size:19px">100K</text><text x="4392.2" y="1998.5" text-anchor="middle" style="font-family:'DejaVu Sans',sans-serif;font-size:17.4px">Token Budget</text><text transform="translate(4203.5 1829.4) rotate(-90)" text-anchor="middle" style="font-family:'DejaVu Sans',sans-serif;font-size:17.4px">Latency(ms)</text><rect x="3832.5" y="2007.4" width="326" height="29.4" rx="3.5" fill="#fff" stroke="#d4d4d4" stroke-width="1.1"/><line x1="3840.4" y1="2021" x2="3873.6" y2="2021" stroke="#000" stroke-width="1.4" stroke-dasharray="4.6 2.2"/><circle cx="3857.0" cy="2021" r="3.1" fill="#000"/><text x="3888.2" y="2027.2" style="font-family:'DejaVu Sans',sans-serif;font-size:17.4px">Full</text><line x1="3922.1" y1="2021" x2="3957.9" y2="2021" stroke="#0000ff" stroke-width="1.4" /><circle cx="3940.0" cy="2021" r="3.1" fill="#0000ff"/><text x="3971.8" y="2027.2" style="font-family:'DejaVu Sans',sans-serif;font-size:17.4px">Quest</text><line x1="4027.2" y1="2021" x2="4063" y2="2021" stroke="#ff0000" stroke-width="1.4" /><circle cx="4045.1" cy="2021" r="3.1" fill="#ff0000"/><text x="4075.6" y="2027.2" style="font-family:'DejaVu Sans',sans-serif;font-size:17.4px">TD(ours)</text><rect x="3648.4" y="2156.2" width="646.8" height="67.3" fill="#fff" stroke="#333" stroke-width="1.2"/><rect x="3667.3" y="2162.5" width="25" height="24.8" fill="#e8dca0"/><path d="M3692.6000000000004 2162V2187.8" stroke="#555" stroke-width="1"/><text x="3697.1" y="2180.6" textLength="92.2" lengthAdjust="spacingAndGlyphs" style="font-family:'Liberation Sans',sans-serif;font-size:15px">Full Attention</text><rect x="3797.4" y="2162.5" width="25" height="24.8" fill="#b5e4b0"/><path d="M3822.7000000000003 2162V2187.8" stroke="#555" stroke-width="1"/><text x="3827.6" y="2180.6" textLength="154.0" lengthAdjust="spacingAndGlyphs" style="font-family:'Liberation Sans',sans-serif;font-size:15px">Token Selection Layer</text><rect x="3987.9" y="2162.5" width="25" height="24.8" fill="#aae4dc"/><path d="M4013.2000000000003 2162V2187.8" stroke="#555" stroke-width="1"/><text x="4018.4" y="2180.6" textLength="116.5" lengthAdjust="spacingAndGlyphs" style="font-family:'Liberation Sans',sans-serif;font-size:15px">Sparse Attention</text><rect x="4139.4" y="2162.5" width="25" height="24.8" fill="#c9c4e8"/><path d="M4164.7 2162V2187.8" stroke="#555" stroke-width="1"/><text x="4169.7" y="2180.6" textLength="109.2" lengthAdjust="spacingAndGlyphs" style="font-family:'Liberation Sans',sans-serif;font-size:15px">Quest Attention</text><text x="3769.4" y="2209.9" textLength="404.8" lengthAdjust="spacingAndGlyphs" style="font-family:'Liberation Sans',sans-serif;font-size:14.2px"><tspan font-weight="bold">Left bar</tspan>: Full, <tspan font-weight="bold">Middle bar</tspan>: Quest, <tspan font-weight="bold">Right bar</tspan>: TidalDecode</text><line x1="3388.7" y1="2320.3" x2="3889.8" y2="2320.3" stroke="#000" stroke-width="2" stroke-dasharray="2 7.05"/><rect x="3423.9" y="2320.3" width="35.15" height="282.0" fill="#e8dca0" stroke="#000" stroke-width="2.2"/><rect x="3459.1" y="2584.7" width="35.15" height="17.6" fill="#e8dca0" stroke="#000" stroke-width="2.2"/><rect x="3459.1" y="2252.6" width="35.15" height="332.1" fill="#c9c4e8" stroke="#000" stroke-width="2.2"/><rect x="3494.2" y="2584.7" width="35.15" height="17.6" fill="#e8dca0" stroke="#000" stroke-width="2.2"/><rect x="3494.2" y="2559.9" width="35.15" height="24.8" fill="#b5e4b0" stroke="#000" stroke-width="2.2"/><rect x="3494.2" y="2419.0" width="35.15" height="140.9" fill="#aae4dc" stroke="#000" stroke-width="2.2"/><text x="3441.5" y="2310.8" text-anchor="middle" style="font-family:'Liberation Sans',sans-serif;font-size:14.8px">1.00</text><text x="3476.6" y="2246.1" text-anchor="middle" style="font-family:'Liberation Sans',sans-serif;font-size:14.8px">1.24</text><text x="3511.8" y="2412.5" text-anchor="middle" style="font-family:'Liberation Sans',sans-serif;font-size:14.8px">0.65</text><rect x="3583.8" y="2320.3" width="35.15" height="282.0" fill="#e8dca0" stroke="#000" stroke-width="2.2"/><rect x="3619.0" y="2584.7" width="35.15" height="17.6" fill="#e8dca0" stroke="#000" stroke-width="2.2"/><rect x="3619.0" y="2416.2" width="35.15" height="168.5" fill="#c9c4e8" stroke="#000" stroke-width="2.2"/><rect x="3654.1" y="2584.7" width="35.15" height="17.6" fill="#e8dca0" stroke="#000" stroke-width="2.2"/><rect x="3654.1" y="2562.5" width="35.15" height="22.1" fill="#b5e4b0" stroke="#000" stroke-width="2.2"/><rect x="3654.1" y="2498.0" width="35.15" height="64.6" fill="#aae4dc" stroke="#000" stroke-width="2.2"/><text x="3601.4" y="2310.8" text-anchor="middle" style="font-family:'Liberation Sans',sans-serif;font-size:14.8px">1.00</text><text x="3636.5" y="2409.7" text-anchor="middle" style="font-family:'Liberation Sans',sans-serif;font-size:14.8px">0.66</text><text x="3671.7" y="2491.5" text-anchor="middle" style="font-family:'Liberation Sans',sans-serif;font-size:14.8px">0.37</text><rect x="3744.1" y="2320.3" width="35.15" height="282.0" fill="#e8dca0" stroke="#000" stroke-width="2.2"/><rect x="3779.2" y="2584.7" width="35.15" height="17.6" fill="#e8dca0" stroke="#000" stroke-width="2.2"/><rect x="3779.2" y="2486.7" width="35.15" height="98.0" fill="#c9c4e8" stroke="#000" stroke-width="2.2"/><rect x="3814.4" y="2584.7" width="35.15" height="17.6" fill="#e8dca0" stroke="#000" stroke-width="2.2"/><rect x="3814.4" y="2562.1" width="35.15" height="22.6" fill="#b5e4b0" stroke="#000" stroke-width="2.2"/><rect x="3814.4" y="2534.6" width="35.15" height="27.5" fill="#aae4dc" stroke="#000" stroke-width="2.2"/><text x="3761.7" y="2310.8" text-anchor="middle" style="font-family:'Liberation Sans',sans-serif;font-size:14.8px">1.00</text><text x="3796.8" y="2480.2" text-anchor="middle" style="font-family:'Liberation Sans',sans-serif;font-size:14.8px">0.41</text><text x="3832.0" y="2528.1" text-anchor="middle" style="font-family:'Liberation Sans',sans-serif;font-size:14.8px">0.24</text><path d="M3378.3 2236V2602.3H3895.8" fill="none" stroke="#000" stroke-width="2.8"/><line x1="3370.3" y1="2528.3" x2="3378.3" y2="2528.3" stroke="#000" stroke-width="2.4"/><text x="3366.1000000000004" y="2534.5" text-anchor="end" style="font-family:'Liberation Sans',sans-serif;font-size:17.6px">0.25</text><line x1="3370.3" y1="2460.6" x2="3378.3" y2="2460.6" stroke="#000" stroke-width="2.4"/><text x="3366.1000000000004" y="2466.8" text-anchor="end" style="font-family:'Liberation Sans',sans-serif;font-size:17.6px">0.50</text><line x1="3370.3" y1="2388.8" x2="3378.3" y2="2388.8" stroke="#000" stroke-width="2.4"/><text x="3366.1000000000004" y="2395.0" text-anchor="end" style="font-family:'Liberation Sans',sans-serif;font-size:17.6px">0.75</text><line x1="3370.3" y1="2320.1" x2="3378.3" y2="2320.1" stroke="#000" stroke-width="2.4"/><text x="3366.1000000000004" y="2326.3" text-anchor="end" style="font-family:'Liberation Sans',sans-serif;font-size:17.6px">1.00</text><text x="3414.9" y="2625.8" textLength="124.2" lengthAdjust="spacingAndGlyphs" style="font-family:'Liberation Sans',sans-serif;font-size:22px">10K Context</text><text x="3573.8" y="2625.8" textLength="125.1" lengthAdjust="spacingAndGlyphs" style="font-family:'Liberation Sans',sans-serif;font-size:22px">32K Context</text><text x="3728.3" y="2625.8" textLength="137.7" lengthAdjust="spacingAndGlyphs" style="font-family:'Liberation Sans',sans-serif;font-size:22px">100K Context</text><text transform="translate(3316 2428) rotate(-90)" text-anchor="middle" style="font-family:'Liberation Sans',sans-serif;font-size:22.5px">Relative Latency</text><line x1="4140.8" y1="2320.3" x2="4642.3" y2="2320.3" stroke="#000" stroke-width="2" stroke-dasharray="2 7.05"/><rect x="4175.5" y="2320.3" width="35.15" height="282.0" fill="#e8dca0" stroke="#000" stroke-width="2.2"/><rect x="4210.6" y="2592.4" width="35.15" height="9.9" fill="#e8dca0" stroke="#000" stroke-width="2.2"/><rect x="4210.6" y="2249.8" width="35.15" height="342.6" fill="#c9c4e8" stroke="#000" stroke-width="2.2"/><rect x="4245.8" y="2592.4" width="35.15" height="9.9" fill="#e8dca0" stroke="#000" stroke-width="2.2"/><rect x="4245.8" y="2580.2" width="35.15" height="12.3" fill="#b5e4b0" stroke="#000" stroke-width="2.2"/><rect x="4245.8" y="2430.3" width="35.15" height="149.9" fill="#aae4dc" stroke="#000" stroke-width="2.2"/><text x="4193.1" y="2310.8" text-anchor="middle" style="font-family:'Liberation Sans',sans-serif;font-size:14.8px">1.00</text><text x="4228.2" y="2243.3" text-anchor="middle" style="font-family:'Liberation Sans',sans-serif;font-size:14.8px">1.25</text><text x="4263.4" y="2423.8" text-anchor="middle" style="font-family:'Liberation Sans',sans-serif;font-size:14.8px">0.61</text><rect x="4335.8" y="2320.3" width="35.15" height="282.0" fill="#e8dca0" stroke="#000" stroke-width="2.2"/><rect x="4370.9" y="2592.4" width="35.15" height="9.9" fill="#e8dca0" stroke="#000" stroke-width="2.2"/><rect x="4370.9" y="2419.0" width="35.15" height="173.4" fill="#c9c4e8" stroke="#000" stroke-width="2.2"/><rect x="4406.1" y="2592.4" width="35.15" height="9.9" fill="#e8dca0" stroke="#000" stroke-width="2.2"/><rect x="4406.1" y="2581.2" width="35.15" height="11.3" fill="#b5e4b0" stroke="#000" stroke-width="2.2"/><rect x="4406.1" y="2512.1" width="35.15" height="69.1" fill="#aae4dc" stroke="#000" stroke-width="2.2"/><text x="4353.4" y="2310.8" text-anchor="middle" style="font-family:'Liberation Sans',sans-serif;font-size:14.8px">1.00</text><text x="4388.5" y="2412.5" text-anchor="middle" style="font-family:'Liberation Sans',sans-serif;font-size:14.8px">0.65</text><text x="4423.7" y="2505.6" text-anchor="middle" style="font-family:'Liberation Sans',sans-serif;font-size:14.8px">0.32</text><rect x="4496.1" y="2320.3" width="35.15" height="282.0" fill="#e8dca0" stroke="#000" stroke-width="2.2"/><rect x="4531.2" y="2592.4" width="35.15" height="9.9" fill="#e8dca0" stroke="#000" stroke-width="2.2"/><rect x="4531.2" y="2492.3" width="35.15" height="100.1" fill="#c9c4e8" stroke="#000" stroke-width="2.2"/><rect x="4566.4" y="2592.4" width="35.15" height="9.9" fill="#e8dca0" stroke="#000" stroke-width="2.2"/><rect x="4566.4" y="2580.3" width="35.15" height="12.1" fill="#b5e4b0" stroke="#000" stroke-width="2.2"/><rect x="4566.4" y="2551.5" width="35.15" height="28.8" fill="#aae4dc" stroke="#000" stroke-width="2.2"/><text x="4513.7" y="2310.8" text-anchor="middle" style="font-family:'Liberation Sans',sans-serif;font-size:14.8px">1.00</text><text x="4548.8" y="2485.8" text-anchor="middle" style="font-family:'Liberation Sans',sans-serif;font-size:14.8px">0.39</text><text x="4584.0" y="2545.0" text-anchor="middle" style="font-family:'Liberation Sans',sans-serif;font-size:14.8px">0.18</text><path d="M4130.4 2236V2602.3H4648.3" fill="none" stroke="#000" stroke-width="2.8"/><line x1="4122.4" y1="2528.3" x2="4130.4" y2="2528.3" stroke="#000" stroke-width="2.4"/><text x="4118.2" y="2534.5" text-anchor="end" style="font-family:'Liberation Sans',sans-serif;font-size:17.6px">0.25</text><line x1="4122.4" y1="2460.6" x2="4130.4" y2="2460.6" stroke="#000" stroke-width="2.4"/><text x="4118.2" y="2466.8" text-anchor="end" style="font-family:'Liberation Sans',sans-serif;font-size:17.6px">0.50</text><line x1="4122.4" y1="2388.8" x2="4130.4" y2="2388.8" stroke="#000" stroke-width="2.4"/><text x="4118.2" y="2395.0" text-anchor="end" style="font-family:'Liberation Sans',sans-serif;font-size:17.6px">0.75</text><line x1="4122.4" y1="2320.1" x2="4130.4" y2="2320.1" stroke="#000" stroke-width="2.4"/><text x="4118.2" y="2326.3" text-anchor="end" style="font-family:'Liberation Sans',sans-serif;font-size:17.6px">1.00</text><text x="4167.4" y="2625.8" textLength="124.2" lengthAdjust="spacingAndGlyphs" style="font-family:'Liberation Sans',sans-serif;font-size:22px">10K Context</text><text x="4326.4" y="2625.8" textLength="124.6" lengthAdjust="spacingAndGlyphs" style="font-family:'Liberation Sans',sans-serif;font-size:22px">32K Context</text><text x="4481.2" y="2625.8" textLength="136.9" lengthAdjust="spacingAndGlyphs" style="font-family:'Liberation Sans',sans-serif;font-size:22px">100K Context</text><text transform="translate(4068.5 2428) rotate(-90)" text-anchor="middle" style="font-family:'Liberation Sans',sans-serif;font-size:22.5px">Relative Latency</text></svg>
<div class="ln c" style="left:3287.3px;top:2075.6px;font-size:28px;word-spacing:0.306px;"><span class="r">Figure 6.</span> End-to-end latency results on Llama-2-7B model for Full attention baseline, Quest, and TidalDecode.</div>
<div class="ln c" style="left:3517.4px;top:2665.2px;font-size:29.5px;transform:scaleX(0.90155);">(a) 32 Layers</div>
<div class="ln c" style="left:4268.1px;top:2665.2px;font-size:29.5px;transform:scaleX(0.91420);">(b) 64 Layers</div>
<div class="ln c" style="left:3384.2px;top:2745.8px;font-size:28px;word-spacing:1.123px;"><span class="r">Figure 7.</span> Overall attention latency ratio comparison (Full=1.0) across different context lengths.</div>
</div></body></html>
